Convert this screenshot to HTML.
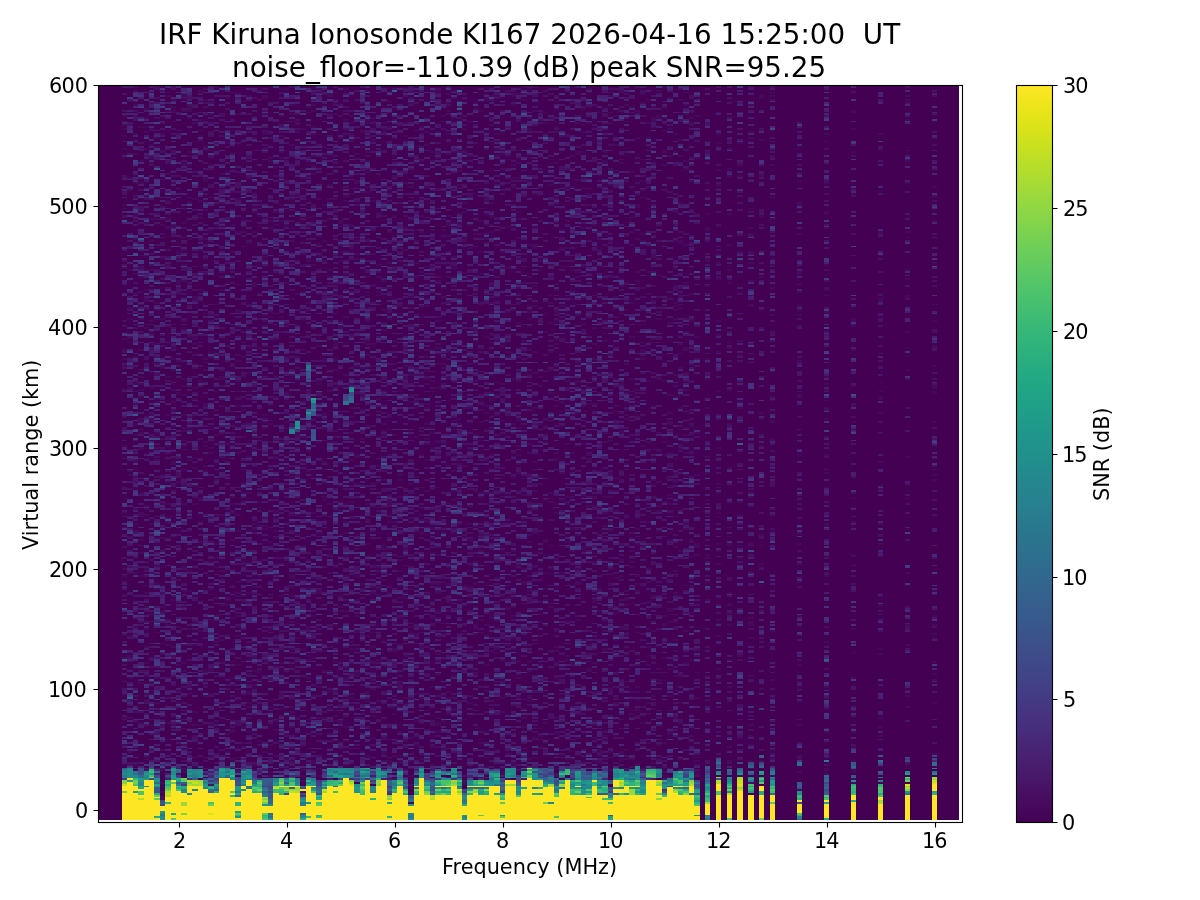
<!DOCTYPE html>
<html lang="en"><head><meta charset="utf-8"><title>IRF Kiruna Ionosonde KI167</title>
<style>html,body{margin:0;padding:0;background:#fff;overflow:hidden}body{width:1200px;height:900px}</style>
</head><body>
<svg width="1200" height="900" viewBox="0 0 1200 900" style="display:block;font-family:'DejaVu Sans','Liberation Sans',sans-serif">
<rect width="1200" height="900" fill="#fff"/>
<rect x="97.65" y="85.23" width="861.18" height="734.87" fill="#440154" shape-rendering="crispEdges"/>
<g transform="translate(94.953 820.108) scale(5.3992 -1.81227)" fill="none" stroke-width="1" shape-rendering="crispEdges">
<path stroke="#460a5d" d="M5.5 41v1m0 14v1m0 32v1m0 23v1m0 10v1m0 9v1m0 3v1m0 30v1m0 7v1m0 28v1m0 43v1m0 3v1m0 4v1m0 5v1m0 7v1m0 30v1m0 27v1m0 4v1m0 1v1m0 30v1m0 6v1m0 3v1m0 1v1m0 1v1m0 2v1m1-352v1m0 18v1m0 16v1m0 4v1m0 11v1m0 10v1m0 34v1m0 19v1m0 33v1m0 1v1m0 11v1m0 15v1m0 17v1m0 24v1m0 4v1m0 7v1m0 5v1m0 20v1m0 43v1m0 6v1m0 41v1m1-367v1m0 75v1m0 6v1m0 22v1m0 7v1m0 14v1m0 3v1m0 2v1m0 4v1m0 11v1m0 5v1m0 3v1m0 3v1m0 14v1m0 5v1m0 10v1m0 10v1m0 14v1m0 26v1m0 7v1m0 10v1m0 18v1m0 10v1m0 1v2m0 16v1m0 15v1m0 7v1m0 2v1m0 15v1m0 7v1m0 1v1m1-352v1m0 21v1m0 48v1m0 9v1m0 12v1m0 6v1m0 13v2m0 10v1m0 23v2m0 7v1m0 19v1m0 3v1m0 2v1m0 3v1m0 3v1m0 10v1m0 16v1m0 14v1m0 7v1m0 4v1m0 6v1m0 23v1m0 15v1m0 11v1m0 18v1m0 2v1m1-353v1m0 32v1m0 2v1m0 9v1m0 6v1m0 8v1m0 9v1m0 11v1m0 7v1m0 3v1m0 8v1m0 29v1m0 2v1m0 1v1m0 25v1m0 71v1m0 1v1m0 12v2m0 4v1m0 10v1m0 25v1m0 14v1m0 25v1m0 8v1m0 2v1m0 4v1m0 4v1m1-341v1m0 9v1m0 6v1m0 1v1m0 3v1m0 16v1m0 16v1m0 26v1m0 20v1m0 5v1m0 57v1m0 1v1m0 14v1m0 23v1m0 6v1m0 5v1m0 27v1m0 15v1m0 11v1m0 13v1m0 16v1m0 2v1m0 6v1m0 8v1m0 19v1m1-351v1m0 7v1m0 4v1m0 13v1m0 24v1m0 23v1m0 2v1m0 14v1m0 9v1m0 19v1m0 2v1m0 34v1m0 16v1m0 1v1m0 12v1m0 16v1m0 13v1m0 4v1m0 3v1m0 45v1m0 11v1m0 27v1m0 4v1m1-366v1m0 1v1m0 1v1m0 4v1m0 6v1m0 10v1m0 16v1m0 35v1m0 5v1m0 13v1m0 3v1m0 1v1m0 7v1m0 29v1m0 18v1m0 13v1m0 1v1m0 13v1m0 5v1m0 38v1m0 26v1m0 32v1m0 18v1m0 24v1m0 15v1m0 8v1m1-340v1m0 4v1m0 8v1m0 42v1m0 10v1m0 47v1m0 18v1m0 8v1m0 2v1m0 13v1m0 5v1m0 16v1m0 20v1m0 61v1m0 19v2m0 3v2m0 8v1m0 14v1m0 23v1m0 10v1m0 7v1m0 1v1m1-350v1m0 37v1m0 4v1m0 5v1m0 7v1m0 11v1m0 45v1m0 9v1m0 18v2m0 19v1m0 7v2m0 3v1m0 6v1m0 10v1m0 5v1m0 5v1m0 23v1m0 66v1m0 9v1m0 23v1m0 5v1m0 1v1m0 3v1m1-348v1m0 13v1m0 20v1m0 20v1m0 17v1m0 23v1m0 1v1m0 22v1m0 12v1m0 48v1m0 17v1m0 2v1m0 28v1m0 4v1m0 5v2m0 11v1m0 2v2m1-288v3m0 12v1m0 40v1m0 3v1m0 9v1m0 20v1m0 5v1m0 2v1m0 12v1m0 34v1m0 9v1m0 3v1m0 4v1m0 12v1m0 2v1m0 4v1m0 1v1m0 6v1m0 10v1m0 4v1m0 3v1m0 31v1m0 21v1m0 8v1m0 7v1m0 14v1m0 31v2m0 28v1m0 7v1m1-369v1m0 4v1m0 13v1m0 18v1m0 3v1m0 31v1m0 20v1m0 10v1m0 21v1m0 38v1m0 17v1m0 1v1m0 25v1m0 21v1m0 53v1m0 40v1m0 4v1m0 1v1m0 11v1m0 6v1m0 3v3m1-348v1m0 3v1m0 1v1m0 6v1m0 36v1m0 11v2m0 30v1m0 2v1m0 6v1m0 23v1m0 9v1m0 9v1m0 4v1m0 32v1m0 5v1m0 12v1m0 10v1m0 2v2m0 20v2m0 9v1m0 43v1m0 24v1m0 6v1m0 9v1m1-333v1m0 25v1m0 25v1m0 20v1m0 12v1m0 14v1m0 10v1m0 12v1m0 64v1m0 28v1m0 14v1m0 5v1m0 7v1m0 4v1m0 8v1m0 4v1m0 21v1m0 35v1m0 2v1m0 5v1m0 15v1m1-335v1m0 5v1m0 7v1m0 67v1m0 41v1m0 2v1m0 10v1m0 1v1m0 19v2m0 18v1m0 3v1m0 1v1m0 24v1m0 29v1m0 10v1m0 15v1m0 15v3m0 16v1m0 25v1m1-370v1m0 6v1m0 16v1m0 16v1m0 12v2m0 26v1m0 13v1m0 2v1m0 14v1m0 59v1m0 2v1m0 52v1m0 14v1m0 4v1m0 46v1m0 17v1m0 17v1m0 3v1m0 3v1m0 19v1m1-292v1m0 40v1m0 4v1m0 7v1m0 59v1m0 13v1m0 9v1m0 4v1m0 26v1m0 15v1m0 43v1m0 72v1m0 2v1m1-318v1m0 11v1m0 18v1m0 18v1m0 30v1m0 52v1m0 6v1m0 14v2m0 41v1m0 5v1m0 36v1m0 10v1m0 15v1m1-320v1m0 9v1m0 70v1m0 2v1m0 18v1m0 58v1m0 7v1m0 32v1m0 63v1m0 3v1m0 48v1m0 15v1m0 1v1m0 22v1m1-371v1m0 4v1m0 14v2m0 2v1m0 25v1m0 8v1m0 23v1m0 17v1m0 24v1m0 14v1m0 4v1m0 3v1m0 124v1m0 9v1m0 14v1m0 17v1m0 10v1m0 20v1m0 1v1m1-354v1m0 6v1m0 4v1m0 32v1m0 4v1m0 7v1m0 15v1m0 4v1m0 5v1m0 10v1m0 1v1m0 5v1m0 27v1m0 8v1m0 33v1m0 19v1m0 5v1m0 4v1m0 2v1m0 5v1m0 10v1m0 2v1m0 23v2m0 13v1m0 28v1m0 17v1m0 46v1m1-348v1m0 7v2m0 68v1m0 2v1m0 11v1m0 6v1m0 13v1m0 23v1m0 12v1m0 17v1m0 6v1m0 7v1m0 17v1m0 10v1m0 3v1m0 3v1m0 36v1m0 23v1m0 2v1m0 4v1m0 52v1m0 10v1m1-349v1m0 7v1m0 5v1m0 1v1m0 4v2m0 9v1m0 7v1m0 24v1m0 11v1m0 33v1m0 17v1m0 2v1m0 2v1m0 9v1m0 6v1m0 35v1m0 9v1m0 37v1m0 33v1m0 35v1m0 4v1m0 39v1m0 5v1m1-379v1m0 2v1m0 41v1m0 1v1m0 7v1m0 6v1m0 5v1m0 2v1m0 29v1m0 31v1m0 2v1m0 49v1m0 23v1m0 9v1m0 16v1m0 12v1m0 6v1m0 9v3m0 24v1m0 2v1m0 10v1m0 21v2m0 17v1m1-334v1m0 33v1m0 3v2m0 45v2m0 4v1m0 27v1m0 9v1m0 2v1m0 60v1m0 23v1m0 66v1m0 5v1m1-297v1m0 50v1m0 26v1m0 4v1m0 39v1m0 1v1m0 53v1m0 2v1m0 3v1m0 51v1m0 2v1m0 31v1m0 67v2m0 9v1m0 8v2m1-377v2m0 1v1m0 14v1m0 14v1m0 5v1m0 2v1m0 5v1m0 33v1m0 47v1m0 40v1m0 13v1m0 9v1m0 58v1m0 2v1m0 3v1m0 41v1m0 3v1m0 11v1m0 20v1m0 1v1m0 12v1m1-344v1m0 13v1m0 4v1m0 44v1m0 33v1m0 7v1m0 13v1m0 3v1m0 6v1m0 2v2m0 7v1m0 9v1m0 10v2m0 8v1m0 23v1m0 10v1m0 7v1m0 12v1m0 62v1m0 2v1m0 3v1m0 24v1m1-322v1m0 21v1m0 7v1m0 16v1m0 36v1m0 30v1m0 26v1m0 17v1m0 8v1m0 6v1m0 61v1m0 39v2m0 11v1m0 3v1m0 4v1m0 25v1m0 2v1m0 8v1m0 10v1m0 11v1m0 2v1m1-371v1m0 13v1m0 9v1m0 1v1m0 47v1m0 74v1m0 11v1m0 21v1m0 2v1m0 10v1m0 4v1m0 11v1m0 4v1m0 2v1m0 40v1m0 31v1m0 40v1m0 33v1m1-372v1m0 18v1m0 7v1m0 2v1m0 3v1m0 27v1m0 14v1m0 13v1m0 4v1m0 4v2m0 20v1m0 12v1m0 13v1m0 6v1m0 40v1m0 14v1m0 6v1m0 26v1m0 7v1m0 31v1m0 6v1m0 15v1m0 1v1m0 27v1m0 16v1m0 4v1m1-339v1m0 15v1m0 27v1m0 7v1m0 23v1m0 24v1m0 10v1m0 21v1m0 21v2m0 41v1m0 34v1m0 53v1m0 11v1m0 22v1m0 3v1m0 12v1m1-376v1m0 2v1m0 2v1m0 34v1m0 31v1m0 37v1m0 40v1m0 23v1m0 13v1m0 24v1m0 22v1m0 16v1m0 14v1m0 14v1m0 5v1m0 41v1m0 4v1m0 9v1m0 11v1m1-351v1m0 7v1m0 15v1m0 22v1m0 9v1m0 1v1m0 14v2m0 20v1m0 15v1m0 17v1m0 23v1m0 6v1m0 10v1m0 23v1m0 8v1m0 30v1m0 17v1m0 22v2m0 22v1m0 22v1m0 34v1m0 2v1m1-363v2m0 35v1m0 20v1m0 22v1m0 20v1m0 35v1m0 10v1m0 40v1m0 46v1m0 37v1m0 8v1m0 17v1m0 22v1m0 9v1m0 11v1m0 3v1m0 8v1m0 2v1m1-371v1m0 3v1m0 27v1m0 16v1m0 23v1m0 27v2m0 5v1m0 13v1m0 11v1m0 49v1m0 13v1m0 17v1m0 1v1m0 18v1m0 28v1m0 20v1m0 5v1m0 4v1m0 5v1m0 13v1m0 60v1m1-371v1m0 20v1m0 1v1m0 25v1m0 10v1m0 82v1m0 1v1m0 14v1m0 3v1m0 18v1m0 6v2m0 18v1m0 10v1m0 18v1m0 15v1m0 4v1m0 13v1m0 4v1m0 5v1m0 19v1m0 31v1m1-325v1m0 13v1m0 8v1m0 11v1m0 12v1m0 40v1m0 9v1m0 4v1m0 22v1m0 33v1m0 16v1m0 10v2m0 10v1m0 26v1m0 23v1m0 3v1m0 38v1m0 7v1m0 19v1m0 18v1m0 9v2m1-368v1m0 9v1m0 6v1m0 3v1m0 2v1m0 2v1m0 10v1m0 6v1m0 28v1m0 16v1m0 14v1m0 68v1m0 5v1m0 6v1m0 26v1m0 4v2m0 6v2m0 1v1m0 25v2m0 1v1m0 17v1m0 30v1m0 20v1m0 17v1m0 7v1m0 5v1m0 5v1m1-363v1m0 13v2m0 8v1m0 51v1m0 1v1m0 5v1m0 5v1m0 15v1m0 11v1m0 12v1m0 4v1m0 8v1m0 54v1m0 31v2m0 2v1m0 21v1m0 10v1m0 4v1m0 15v2m0 45v1m1-347v1m0 3v1m0 8v1m0 7v1m0 25v2m0 36v1m0 18v1m0 11v1m0 11v1m0 5v1m0 9v1m0 20v1m0 24v1m0 24v1m0 17v1m0 13v1m0 7v1m0 15v1m0 39v1m0 2v1m0 41v1m0 16v1m1-337v1m0 26v1m0 3v1m0 4v1m0 32v1m0 33v1m0 4v1m0 1v1m0 8v1m0 11v1m0 14v1m0 8v1m0 4v1m0 12v1m0 11v1m0 60v1m0 1v1m0 12v1m0 16v1m0 9v1m0 19v1m0 2v1m0 5v1m0 3v1m1-310v3m0 12v1m0 8v2m0 7v1m0 8v1m0 12v1m0 7v1m0 2v1m0 3v1m0 16v1m0 18v1m0 14v2m0 27v1m0 20v1m0 32v1m0 25v1m0 2v1m0 6v1m0 31v2m0 12v1m0 1v1m1-331v1m0 28v1m0 9v1m0 53v1m0 9v1m0 69v1m0 15v1m0 7v1m0 4v1m0 9v1m0 4v1m0 38v1m0 77v1m0 7v1m1-345v1m0 29v1m0 3v2m0 12v1m0 17v1m0 41v1m0 8v1m0 12v1m0 8v1m0 42v1m0 38v1m0 5v1m0 1v1m0 10v1m0 6v1m0 6v1m0 1v1m0 7v1m0 20v1m0 5v1m0 13v1m0 5v1m0 2v1m0 7v1m0 5v1m0 4v1m0 8v1m0 6v1m0 1v1m0 15v1m1-359v2m0 11v1m0 14v1m0 5v1m0 2v1m0 4v1m0 8v1m0 7v1m0 4v1m0 10v1m0 5v1m0 2v1m0 56v1m0 4v1m0 2v1m0 54v1m0 1v1m0 11v1m0 31v2m0 16v1m0 28v1m0 1v1m0 4v1m0 26v1m0 9v1m0 1v1m1-323v1m0 8v1m0 4v1m0 8v1m0 22v1m0 11v2m0 2v1m0 11v1m0 32v1m0 13v1m0 8v1m0 15v1m0 20v1m0 30v1m0 27v1m0 7v1m0 2v1m0 3v1m1-275v1m0 3v2m0 7v1m0 42v1m0 43v1m0 16v3m0 15v1m0 19v1m0 24v1m0 1v1m0 3v1m0 12v1m0 25v1m0 12v1m0 3v1m0 6v1m0 15v1m0 39v1m0 5v1m0 5v1m0 8v1m0 15v1m0 4v1m0 1v1m0 2v1m0 11v1m1-365v1m0 11v1m0 32v1m0 47v1m0 23v1m0 14v1m0 3v1m0 5v3m0 2v1m0 1v1m0 19v1m0 13v1m0 4v1m0 1v1m0 53v1m0 16v1m0 11v1m0 1v1m0 16v1m0 22v1m0 3v1m0 30v1m0 13v1m1-362v1m0 7v1m0 14v1m0 3v1m0 1v1m0 28v2m0 13v1m0 50v1m0 1v1m0 2v1m0 37v1m0 9v1m0 38v1m0 12v1m0 22v1m0 12v1m0 4v1m0 11v1m0 14v2m0 19v1m0 1v1m0 3v1m1-329v2m0 2v1m0 12v1m0 13v1m0 9v1m0 1v2m0 35v1m0 10v1m0 6v1m0 7v1m0 5v1m0 34v1m0 8v1m0 2v1m0 45v1m0 42v1m0 3v2m0 38v1m0 20v1m0 60v1m1-363v1m0 23v1m0 18v1m0 3v1m0 1v1m0 29v1m0 2v1m0 23v1m0 23v1m0 5v1m0 29v1m0 33v2m0 5v1m0 9v1m0 34v1m0 13v1m0 4v1m0 11v1m0 6v1m0 17v1m0 4v1m0 14v1m0 5v1m0 6v1m1-376v1m0 14v1m0 3v1m0 3v1m0 12v1m0 20v1m0 6v1m0 14v1m0 17v1m0 20v1m0 7v1m0 30v1m0 18v1m0 44v1m0 3v1m0 10v1m0 4v1m0 16v1m0 14v1m0 5v1m0 38v1m0 21v1m0 45v1m0 2v1m1-365v1m0 6v1m0 12v1m0 14v1m0 15v1m0 16v1m0 14v1m0 44v1m0 20v1m0 5v1m0 21v1m0 15v2m0 2v1m0 13v1m0 3v1m0 34v1m0 14v2m0 6v1m0 11v1m0 5v1m0 36v1m1-330v1m0 33v1m0 27v1m0 9v1m0 16v1m0 35v1m0 6v1m0 2v1m0 14v1m0 17v1m0 43v1m0 31v1m0 17v1m0 6v1m0 21v1m0 8v1m0 8v1m0 20v1m0 16v1m0 1v1m1-323v1m0 27v1m0 8v1m0 66v2m0 15v1m0 16v1m0 8v1m0 2v1m0 5v1m0 1v1m0 6v1m0 1v1m0 1v1m0 10v1m0 2v1m0 3v2m0 6v1m0 9v1m0 17v1m0 3v1m0 6v1m0 10v1m0 15v1m0 27v1m0 22v1m0 6v1m0 7v1m0 8v1m1-367v1m0 9v1m0 32v1m0 3v1m0 33v1m0 18v1m0 2v1m0 4v1m0 8v1m0 7v1m0 4v2m0 15v1m0 27v1m0 7v1m0 2v1m0 19v1m0 5v1m0 16v1m0 61v1m0 3v1m0 42v1m0 33v1m1-363v1m0 7v1m0 3v2m0 2v1m0 7v1m0 15v1m0 10v1m0 17v1m0 1v1m0 3v1m0 9v1m0 4v1m0 15v1m0 36v1m0 17v1m0 6v2m0 28v1m0 12v1m0 8v1m0 14v1m0 21v1m0 12v1m0 37v1m0 16v1m0 2v1m0 10v1m0 22v1m1-371v1m0 21v1m0 13v1m0 33v1m0 5v1m0 13v1m0 8v1m0 41v1m0 66v1m0 8v1m0 1v1m0 41v1m0 22v1m0 8v1m0 59v1m0 2v1m1-331v1m0 8v1m0 2v1m0 44v1m0 4v1m0 9v1m0 8v1m0 11v1m0 15v1m0 6v1m0 20v1m0 35v1m0 11v2m0 13v1m0 40v1m0 22v1m0 5v2m0 3v1m0 33v1m0 10v1m0 12v1m0 3v1m0 4v1m0 4v1m1-362v1m0 15v2m0 17v1m0 3v1m0 14v1m0 36v1m0 5v1m0 16v1m0 17v1m0 4v1m0 10v1m0 17v1m0 4v1m0 48v1m0 14v1m0 19v1m0 4v1m0 5v1m0 18v1m0 14v1m0 3v1m0 11v1m0 7v1m0 18v1m0 14v1m1-361v1m0 14v1m0 29v1m0 41v2m0 32v1m0 18v1m0 13v1m0 1v1m0 19v1m0 2v1m0 21v1m0 17v1m0 18v1m0 35v1m0 9v1m0 2v1m0 20v1m1-331v2m0 33v1m0 33v1m0 12v1m0 64v1m0 1v1m0 21v1m0 3v1m0 31v1m0 5v1m0 85v2m0 14v1m0 4v1m0 20v1m0 1v1m0 3v1m0 1v1m0 11v1m1-354v1m0 35v1m0 1v1m0 14v1m0 1v1m0 9v1m0 34v1m0 8v1m0 8v1m0 4v1m0 2v1m0 8v1m0 3v1m0 5v1m0 13v1m0 15v1m0 23v1m0 2v1m0 5v1m0 14v1m0 3v1m0 12v1m0 26v1m0 2v1m0 16v1m0 12v1m0 15v1m0 21v1m1-317v1m0 29v1m0 21v1m0 2v1m0 1v1m0 5v1m0 3v1m0 12v1m0 8v1m0 2v1m0 38v1m0 30v1m0 8v1m0 20v1m0 21v1m0 3v1m0 1v1m0 3v1m0 2v1m0 1v1m0 20v1m0 22v1m0 26v1m0 41v1m0 2v1m1-373v1m0 18v1m0 1v1m0 65v1m0 15v1m0 18v1m0 2v1m0 8v1m0 20v1m0 1v1m0 28v1m0 9v1m0 6v1m0 3v1m0 53v1m0 16v1m0 11v1m0 9v1m0 6v1m0 6v1m0 10v1m0 31v1m0 10v1m0 4v1m1-368v1m0 4v1m0 3v1m0 9v1m0 36v1m0 21v1m0 15v1m0 5v1m0 10v1m0 6v1m0 32v1m0 19v1m0 14v1m0 8v1m0 3v1m0 37v1m0 53v1m0 7v1m0 5v1m0 6v1m0 28v1m0 26v2m0 1v1m1-308v1m0 1v1m0 15v1m0 1v1m0 21v1m0 44v1m0 20v1m0 3v1m0 20v1m0 4v2m0 2v1m0 9v1m0 21v1m0 12v1m0 4v1m0 8v1m0 1v1m0 27v1m0 3v1m0 3v2m0 6v1m0 17v1m0 24v1m0 1v1m0 13v1m1-362v1m0 12v1m0 40v1m0 1v1m0 1v1m0 9v1m0 17v1m0 8v1m0 8v1m0 23v1m0 7v1m0 48v1m0 10v1m0 6v1m0 22v1m0 14v1m0 6v1m0 1v1m0 64v1m0 12v1m0 3v1m0 7v1m0 20v1m1-375v2m0 1v1m0 19v1m0 10v1m0 7v1m0 55v1m0 10v1m0 43v1m0 1v1m0 7v1m0 31v1m0 19v1m0 20v1m0 4v1m0 5v1m0 31v1m0 8v1m0 45v1m0 7v1m0 3v1m0 2v1m0 4v1m1-349v1m0 4v1m0 59v1m0 6v1m0 12v1m0 5v1m0 103v1m0 28v1m0 2v1m0 21v1m0 23v2m0 21v1m0 36v1m0 1v1m1-337v2m0 44v1m0 10v1m0 6v1m0 5v1m0 11v1m0 4v1m0 22v1m0 7v1m0 40v1m0 12v1m0 15v1m0 24v1m0 24v1m0 12v1m0 44v1m0 5v1m0 8v1m0 7v1m0 4v1m0 6v1m0 32v1m0 4v2m1-373v1m0 38v2m0 9v1m0 3v1m0 23v1m0 37v1m0 27v1m0 4v1m0 3v1m0 9v1m0 4v1m0 1v1m0 2v1m0 4v1m0 9v1m0 4v1m0 1v1m0 18v1m0 17v1m0 13v1m0 9v1m0 5v1m0 2v1m0 15v1m0 21v1m0 3v1m0 18v1m0 7v1m0 2v1m0 3v1m0 6v1m0 23v1m1-364v1m0 13v1m0 4v1m0 4v1m0 4v1m0 37v1m0 25v2m0 6v1m0 7v1m0 13v1m0 2v1m0 15v1m0 3v1m0 4v1m0 75v1m0 31v1m0 87v1m0 12v1m0 6v2m1-373v1m0 31v1m0 2v1m0 13v1m0 10v1m0 32v2m0 25v1m0 3v1m0 17v1m0 9v1m0 16v1m0 4v1m0 28v1m0 8v1m0 13v1m0 12v1m0 3v1m0 3v2m0 1v1m0 15v1m0 17v1m0 34v1m0 12v1m0 4v1m0 10v1m0 5v1m0 15v1m0 1v1m1-372v1m0 10v1m0 11v1m0 81v1m0 5v1m0 12v1m0 22v1m0 15v1m0 29v1m0 18v1m0 11v1m0 24v1m0 8v1m0 1v1m0 20v1m0 1v1m0 8v1m0 18v1m0 14v1m0 9v1m0 20v1m0 12v1m1-365v1m0 5v1m0 3v1m0 34v1m0 23v1m0 27v1m0 4v1m0 21v1m0 20v1m0 3v1m0 28v1m0 11v1m0 8v1m0 4v1m0 2v1m0 55v1m0 4v1m1-267v1m0 10v1m0 23v1m0 43v1m0 5v1m0 8v1m0 16v2m0 21v1m0 31v1m0 8v1m0 2v1m0 48v1m0 9v1m0 98v1m0 5v1m0 5v1m1-299v1m0 24v1m0 1v1m0 15v1m0 2v1m0 12v1m0 23v1m0 1v1m0 2v1m0 54v1m0 12v1m0 9v1m0 15v1m0 10v1m0 3v1m0 16v1m0 43v1m0 13v1m0 9v1m0 12v1m1-360v1m0 18v2m0 2v1m0 4v1m0 21v1m0 7v1m0 6v1m0 1v1m0 8v1m0 19v1m0 18v2m0 16v1m0 7v1m0 4v1m0 23v2m0 2v1m0 11v1m0 13v1m0 33v1m0 2v1m0 9v1m0 4v1m0 11v1m0 69v1m0 19v1m0 2v1m0 6v1m0 3v1m1-330v1m0 1v1m0 14v1m0 51v1m0 39v1m0 4v1m0 9v1m0 25v1m0 7v1m0 4v1m0 52v1m0 21v1m0 9v1m0 3v1m0 1v1m0 3v1m0 11v1m0 20v1m1-326v1m0 10v1m0 43v1m0 1v1m0 18v1m0 43v1m0 20v1m0 3v1m0 28v1m0 14v1m0 19v1m0 62v1m0 9v1m0 14v1m0 5v1m0 41v1m0 17v1m1-364v1m0 32v1m0 14v1m0 4v1m0 42v1m0 12v1m0 5v1m0 11v2m0 16v1m0 19v1m0 3v1m0 8v1m0 75v1m0 15v1m0 19v1m0 25v1m0 16v1m1-322v1m0 6v1m0 5v1m0 12v1m0 31v1m0 6v1m0 19v2m0 6v1m0 6v1m0 11v1m0 2v1m0 21v1m0 23v1m0 17v1m0 16v2m0 9v1m0 25v1m0 10v1m0 9v1m0 2v1m0 64v2m0 15v1m1-321v1m0 34v1m0 49v2m0 12v1m0 15v1m0 6v1m0 13v1m0 6v1m0 17v1m0 2v1m0 76v1m0 20v1m0 21v1m0 5v1m0 3v1m0 9v1m0 10v1m0 3v1m0 8v1m1-364v1m0 52v2m0 12v1m0 53v1m0 12v1m0 9v1m0 24v1m0 2v1m0 27v1m0 55v1m0 53v1m0 5v1m0 34v1m0 3v1m0 8v1m0 2v1m0 4v1m0 1v1m1-372v1m0 7v1m0 4v1m0 6v1m0 1v1m0 15v1m0 15v1m0 33v2m0 20v1m0 23v1m0 6v1m0 4v1m0 41v1m0 8v1m0 24v1m0 7v1m0 8v1m0 49v1m0 6v1m1-298v2m0 2v1m0 1v2m0 53v1m0 13v1m0 8v1m0 11v1m0 28v1m0 35v1m0 42v1m0 5v1m0 4v1m0 47v1m0 19v1m0 46v1m0 12v1m0 15v1m0 14v1m1-360v1m0 46v2m0 9v1m0 35v1m0 12v1m0 8v1m0 6v1m0 8v1m0 7v1m0 21v1m0 4v1m0 37v1m0 12v1m0 3v1m0 31v1m0 26v1m0 5v1m0 11v1m0 3v1m0 1v1m0 10v2m0 4v1m1-342v1m0 9v1m0 33v2m0 2v1m0 27v1m0 4v1m0 7v1m0 2v1m0 2v1m0 15v1m0 20v1m0 3v2m0 13v1m0 5v1m0 5v2m0 64v1m0 29v1m0 12v1m0 19v1m0 27v1m0 2v1m0 7v1m0 25v1m0 14v1m1-336v1m0 2v1m0 12v1m0 18v1m0 14v1m0 18v1m0 36v1m0 10v1m0 3v1m0 32v1m0 6v1m0 2v1m0 14v1m0 33v1m0 6v1m0 3v1m0 64v1m0 18v1m0 15v1m0 7v1m1-369v1m0 3v2m0 2v2m0 22v1m0 5v1m0 6v1m0 8v1m0 4v1m0 17v1m0 28v1m0 8v1m0 7v1m0 61v2m0 21v1m0 3v1m0 25v1m0 27v1m0 3v1m0 63v1m0 11v1m0 26v2m1-370v1m0 4v1m0 12v1m0 10v1m0 8v1m0 4v1m0 24v1m0 1v1m0 2v1m0 11v1m0 2v2m0 3v1m0 39v1m0 1v1m0 27v1m0 24v1m0 1v1m0 2v1m0 3v1m0 4v1m0 15v1m0 29v1m0 4v1m0 9v1m0 25v1m0 14v1m0 36v1m0 10v1m0 8v1m1-362v1m0 24v1m0 1v1m0 9v1m0 48v1m0 19v1m0 2v1m0 5v1m0 4v1m0 1v1m0 75v1m0 2v1m0 8v1m0 22v1m0 18v1m0 31v1m0 6v1m0 32v1m0 35v1m1-334v2m0 4v1m0 3v1m0 2v1m0 29v1m0 22v1m0 3v1m0 3v1m0 17v1m0 7v1m0 5v1m0 10v2m0 51v1m0 6v1m0 31v1m0 27v1m0 4v1m0 17v1m0 17v2m0 36v1m0 14v1m1-364v1m0 24v1m0 3v1m0 148v1m0 47v1m0 3v2m0 3v1m0 9v1m0 19v1m0 23v1m0 1v1m0 3v1m0 19v1m0 3v1m0 4v1m0 11v1m0 30v1m0 4v1m0 4v1m1-364v1m0 15v1m0 1v1m0 3v1m0 20v1m0 4v1m0 4v1m0 9v1m0 14v1m0 10v1m0 6v1m0 25v1m0 38v1m0 4v1m0 33v1m0 17v1m0 2v1m0 26v1m0 11v1m0 29v1m0 4v1m0 38v1m0 7v1m0 12v1m1-367v1m0 7v1m0 21v1m0 6v1m0 18v1m0 16v1m0 8v1m0 9v1m0 25v1m0 37v1m0 16v1m0 10v1m0 12v1m0 29v1m0 4v1m0 1v1m0 17v1m0 2v1m0 23v2m0 57v1m0 15v3m0 5v1m1-361v1m0 7v1m0 15v1m0 19v1m0 5v1m0 8v1m0 58v1m0 7v1m0 10v1m0 2v1m0 12v1m0 16v1m0 9v1m0 29v2m0 31v1m0 23v1m0 86v2m0 13v1m1-379v1m0 17v1m0 46v1m0 10v1m0 6v2m0 3v1m0 12v1m0 49v1m0 12v1m0 4v1m0 7v1m0 6v1m0 2v1m0 30v1m0 9v1m0 30v1m0 3v1m0 73v1m0 6v2m0 17v1m0 16v1m1-358v2m0 1v1m0 9v1m0 7v1m0 14v1m0 25v1m0 3v1m0 1v2m0 37v1m0 14v1m0 4v1m0 4v1m0 4v1m0 9v1m0 7v1m0 15v2m0 4v1m0 9v1m0 39v1m0 91v1m0 14v1m0 16v1m1-343v1m0 22v1m0 13v1m0 5v1m0 9v1m0 15v1m0 8v1m0 2v1m0 12v1m0 16v1m0 4v1m0 13v2m0 3v1m0 7v1m0 12v1m0 20v1m0 11v1m0 30v1m0 4v1m0 1v1m0 1v1m0 3v1m0 4v1m0 9v1m0 1v1m0 12v1m0 7v1m0 7v1m0 7v1m0 24v1m0 9v1m1-346v1m0 16v1m0 2v1m0 10v1m0 14v1m0 43v1m0 24v1m0 58v1m0 7v1m0 9v1m0 1v1m0 6v1m0 14v1m0 7v1m0 4v1m0 19v1m0 5v1m0 29v2m0 20v1m0 17v1m0 7v1m0 8v1m0 21v1m1-312v1m0 17v1m0 24v1m0 30v1m0 2v1m0 21v1m0 4v1m0 11v1m0 5v1m0 3v1m0 3v1m0 20v1m0 8v1m0 12v2m0 8v1m0 26v1m0 20v1m0 41v1m0 3v1m0 6v1m0 18v1m0 4v1m0 6v1m1-356v1m0 9v1m0 12v1m0 18v1m0 25v1m0 10v1m0 2v2m0 15v1m0 5v1m0 2v1m0 17v1m0 30v1m0 8v1m0 4v1m0 43v1m0 13v1m0 14v1m0 61v1m0 31v1m0 2v1m0 2v1m1-366v2m0 5v1m0 1v1m0 32v1m0 13v1m0 11v1m0 9v1m0 42v1m0 3v3m0 37v1m0 22v1m0 52v1m0 67v1m0 30v1m0 9v1m0 12v1m0 6v1m2-344v1m0 12v1m0 13v1m0 41v1m0 9v1m0 5v1m0 1v1m0 4v1m0 1v1m0 15v1m0 13v1m0 14v1m0 8v1m0 5v1m0 20v1m0 15v1m0 10v1m0 39v1m0 13v2m0 12v1m0 2v2m0 7v1m0 33v1m0 5v1m2-348v1m0 55v1m0 17v1m0 6v1m0 1v1m0 11v1m0 9v1m0 8v1m0 6v1m0 3v1m0 14v1m0 1v1m0 10v1m0 4v1m0 19v1m0 30v1m0 21v1m0 8v1m0 7v1m0 22v1m0 8v1m0 4v1m0 14v1m0 20v1m0 1v1m0 18v1m0 3v1m0 4v1m0 26v1m2-374v1m0 7v1m0 32v1m0 14v1m0 18v1m0 10v2m0 5v1m0 25v2m0 3v1m0 20v1m0 16v1m0 19v1m0 3v1m0 18v1m0 22v1m0 2v1m0 13v1m0 18v1m0 6v1m0 1v1m0 11v1m0 16v1m0 20v1m0 3v1m2-336v1m0 20v1m0 44v1m0 53v1m0 6v1m0 16v1m0 6v1m0 51v1m0 2v1m0 25v1m0 7v1m0 43v1m0 4v1m0 8v1m0 32v1m0 5v1m0 11v1m2-346v1m0 3v1m0 8v1m0 4v1m0 5v1m0 26v1m0 20v1m0 6v3m0 1v1m0 33v1m0 6v1m0 25v1m0 104v2m0 4v1m0 7v1m0 9v1m0 5v1m0 9v1m0 2v1m0 10v1m0 38v1m0 2v1m0 14v1m0 6v1m2-370v1m0 39v1m0 32v1m0 23v1m0 9v1m0 1v1m0 9v1m0 5v1m0 3v1m0 44v1m0 14v1m0 2v1m0 56v1m0 17v1m0 33v1m0 21v1m0 19v1m0 22v2m2-376v1m0 13v1m0 28v1m0 9v1m0 26v1m0 51v1m0 52v2m0 8v2m0 10v1m0 1v1m0 34v1m0 9v1m0 14v1m0 12v1m0 2v1m0 19v1m0 1v1m0 26v1m0 2v1m0 4v1m0 13v1m0 16v1m0 1v1m0 1v1m5-386v1m0 9v1m0 6v1m0 1v1m0 16v1m0 19v1m0 3v1m0 8v1m0 26v1m0 18v1m0 9v1m0 10v1m0 23v1m0 11v1m0 12v1m0 6v1m0 24v2m0 17v2m0 24v1m0 2v1m0 1v1m0 7v1m0 9v2m0 20v1m0 13v1m0 1v2m0 11v1m5-328v1m0 1v2m0 19v1m0 12v1m0 11v1m0 24v1m0 20v1m0 14v1m0 5v1m0 21v2m0 19v1m0 7v1m0 9v1m0 19v1m0 5v1m0 3v1m0 5v1m0 2v1m0 3v1m0 35v1m0 8v1m0 2v1m0 13v1m0 19v1m0 7v2m0 15v1m0 22v1m0 3v1m5-359v1m0 1v1m0 3v2m0 4v1m0 7v1m0 7v1m0 1v1m0 27v1m0 13v1m0 4v1m0 7v1m0 40v1m0 17v1m0 7v1m0 4v1m0 37v1m0 3v1m0 8v1m0 10v1m0 19v1m0 12v1m0 2v2m0 68v1m0 22v1m0 12v1m0 8v2m0 10v1m5-357v1m0 4v1m0 4v1m0 34v1m0 2v1m0 13v1m0 9v1m0 26v1m0 6v1m0 3v1m0 6v1m0 18v1m0 14v1m0 26v1m0 7v2m0 2v1m0 4v1m0 8v1m0 35v2m0 2v1m0 20v1m0 12v1m0 53v1m5-351v1m0 1v1m0 31v1m0 5v1m0 27v1m0 10v1m0 21v1m0 6v1m0 40v1m0 22v1m0 47v1m0 20v1m0 18v2m0 8v1m0 4v1m0 17v1m0 2v1m0 26v1m0 11v1m0 5v1m0 16v1m0 3v1m0 6v1m0 1v1m5-364v1m0 27v1m0 12v1m0 2v1m0 19v1m0 1v1m0 4v1m0 4v1m0 13v1m0 60v1m0 2v1m0 2v1m0 12v1m0 12v1m0 15v2m0 1v2m0 10v1m0 10v1m0 13v1m0 8v1m0 22v1m0 22v1m0 18v1m0 35v1"/>
<path stroke="#471063" d="M5.5 35v1m0 19v1m0 13v1m0 15v1m0 37v1m0 7v1m0 12v1m0 5v1m0 10v1m0 5v1m0 14v2m0 15v1m0 9v1m0 5v2m0 5v1m0 14v1m0 11v1m0 8v1m0 13v1m0 2v1m0 19v1m0 12v1m0 24v1m0 11v2m0 8v1m0 35v1m0 8v1m1-371v2m0 34v1m0 20v1m0 1v1m0 49v1m0 11v1m0 3v1m0 11v1m0 14v1m0 58v1m0 24v1m0 100v1m0 15v1m1-340v1m0 9v1m0 4v1m0 8v1m0 31v1m0 14v1m0 70v1m0 11v1m0 4v1m0 32v1m0 34v1m0 24v1m0 7v1m0 25v1m0 13v1m0 41v1m0 1v1m0 2v1m1-333v1m0 22v1m0 26v1m0 41v1m0 15v1m0 23v1m0 23v1m0 3v1m0 1v1m0 47v1m0 14v1m0 44v1m0 7v2m0 8v1m0 25v1m1-347v1m0 24v1m0 5v1m0 5v2m0 16v1m0 26v1m0 5v1m0 5v1m0 12v1m0 2v1m0 4v1m0 41v1m0 37v1m0 24v1m0 2v1m0 3v2m0 26v1m0 28v1m0 30v1m0 23v1m1-329v1m0 8v1m0 7v1m0 28v1m0 4v1m0 23v1m0 29v1m0 67v2m0 7v1m0 3v1m0 14v1m0 19v2m0 12v1m0 32v1m0 5v1m0 3v1m0 44v1m0 4v1m0 13v1m0 14v1m1-368v1m0 18v1m0 36v1m0 28v1m0 53v1m0 21v1m0 8v1m0 1v1m0 4v1m0 1v1m0 3v1m0 39v1m0 3v1m0 33v1m0 10v1m0 2v1m0 13v1m0 16v1m0 52v1m0 10v1m0 4v2m1-393v1m0 15v1m0 22v2m0 61v1m0 33v1m0 12v1m0 6v1m0 6v1m0 29v1m0 44v1m0 1v1m0 8v1m0 5v1m0 30v1m0 11v1m0 10v1m0 1v1m0 7v1m0 6v1m0 29v1m0 15v1m0 9v1m0 7v1m1-336v1m0 10v1m0 20v1m0 10v1m0 40v1m0 12v1m0 1v1m0 25v1m0 9v1m0 8v1m0 30v1m0 29v1m0 4v1m0 15v1m0 2v1m0 13v1m0 3v1m0 19v1m0 5v1m0 12v1m0 8v2m0 41v1m1-353v1m0 3v1m0 16v1m0 1v1m0 2v1m0 9v1m0 33v1m0 8v1m0 23v1m0 14v1m0 9v1m0 2v2m0 18v1m0 6v2m0 46v1m0 1v1m0 9v1m0 1v1m0 48v2m0 4v1m0 6v1m0 19v1m0 2v1m0 6v1m0 2v2m0 8v1m0 2v1m0 8v1m0 12v2m1-352v1m0 16v1m0 46v1m0 2v1m0 11v1m0 1v1m0 34v1m0 19v3m0 7v1m0 50v1m0 40v1m0 1v1m0 33v1m0 27v1m0 22v1m1-347v1m0 1v1m0 9v1m0 5v1m0 9v1m0 3v1m0 3v1m0 4v1m0 18v1m0 12v1m0 5v1m0 8v1m0 9v1m0 7v1m0 46v1m0 18v1m0 65v1m0 5v1m0 13v1m0 12v2m0 13v1m0 2v1m0 4v1m0 32v1m0 3v1m0 28v1m0 5v1m0 1v1m1-327v1m0 13v1m0 7v1m0 14v1m0 57v1m0 14v1m0 37v1m0 16v1m0 18v1m0 8v1m0 15v1m0 12v1m0 43v1m0 2v1m0 50v1m0 3v1m1-365v1m0 10v1m0 39v1m0 13v1m0 3v1m0 17v1m0 26v1m0 29v1m0 18v1m0 25v1m0 11v1m0 13v1m0 6v1m0 16v1m0 5v1m0 6v1m0 5v1m0 7v2m0 3v1m0 5v1m0 16v1m0 2v1m0 1v1m0 2v1m0 20v1m0 36v1m1-360v1m0 121v1m0 18v1m0 6v1m0 26v1m0 14v1m0 24v1m0 10v1m0 5v1m0 22v1m0 11v1m0 17v1m0 8v1m0 2v1m0 1v1m0 20v1m0 19v1m1-344v1m0 1v1m0 38v1m0 7v1m0 35v1m0 18v1m0 5v1m0 74v1m0 5v1m0 77v2m0 1v2m0 5v1m0 4v1m0 28v1m0 16v1m0 22v1m0 7v1m0 1v1m0 7v1m1-385v1m0 14v1m0 18v1m0 14v1m0 16v1m0 27v1m0 16v1m0 14v1m0 7v1m0 12v1m0 43v1m0 4v1m0 5v1m0 33v1m0 10v1m0 8v1m0 3v1m0 4v1m0 34v1m0 29v2m0 8v1m0 6v1m0 10v1m0 1v1m0 4v1m0 10v1m1-365v1m0 4v1m0 3v1m0 9v1m0 3v1m0 24v1m0 12v1m0 3v1m0 15v1m0 9v1m0 45v1m0 16v1m0 1v1m0 55v1m0 12v1m0 15v1m0 5v1m0 29v1m0 17v1m0 46v1m1-342v1m0 2v1m0 2v1m0 17v1m0 24v1m0 4v1m0 45v1m0 15v1m0 33v1m0 17v1m0 3v1m0 2v1m0 5v1m0 25v1m0 8v1m0 22v1m0 27v1m0 2v1m0 8v1m0 3v1m0 29v1m0 1v1m0 29v1m0 10v2m1-325v1m0 6v1m0 28v1m0 20v1m0 39v1m0 26v1m0 7v1m0 63v1m0 45v1m0 3v1m0 19v2m0 38v1m0 20v1m1-342v1m0 2v1m0 6v1m0 6v1m0 5v1m0 17v1m0 1v1m0 33v1m0 41v1m0 11v1m0 30v1m0 3v1m0 7v1m0 19v1m0 4v2m0 16v1m0 1v1m0 25v1m0 5v1m0 13v1m0 8v1m0 10v1m0 30v1m0 18v1m0 14v1m1-376v1m0 25v3m0 11v1m0 22v1m0 17v1m0 6v1m0 26v1m0 2v1m0 29v1m0 36v1m0 20v1m0 39v1m0 35v1m0 14v1m0 17v1m0 4v1m0 2v3m0 5v1m0 15v1m0 26v1m1-361v1m0 12v1m0 9v1m0 5v1m0 17v1m0 12v1m0 20v1m0 17v1m0 1v1m0 2v1m0 30v1m0 9v1m0 12v1m0 4v1m0 29v1m0 11v2m0 22v1m0 14v2m0 30v1m0 13v1m0 44v1m1-345v1m0 10v1m0 31v1m0 16v1m0 6v1m0 20v2m0 10v2m0 15v1m0 69v1m0 13v1m0 8v1m0 11v1m0 7v1m0 5v1m0 2v1m0 27v1m0 3v1m0 16v1m0 10v1m0 15v3m0 6v1m0 9v2m0 5v1m0 6v1m0 9v1m1-359v1m0 15v1m0 22v1m0 19v1m0 26v1m0 4v1m0 2v1m0 11v1m0 5v1m0 14v1m0 2v1m0 3v1m0 1v1m0 27v1m0 7v1m0 7v1m0 6v1m0 20v2m0 24v1m0 16v1m0 54v1m0 4v1m0 2v1m0 23v1m0 8v1m0 19v1m1-358v1m0 22v1m0 18v1m0 68v1m0 11v1m0 5v1m0 9v1m0 3v1m0 5v1m0 20v1m0 45v1m0 18v1m0 13v1m0 48v1m0 29v1m0 27v1m0 4v1m1-324v1m0 10v1m0 13v1m0 1v1m0 4v1m0 7v1m0 23v1m0 22v1m0 35v1m0 18v1m0 22v1m0 4v1m0 11v1m0 6v1m0 3v1m0 24v1m0 33v1m0 25v1m0 10v1m0 1v1m0 1v1m0 7v1m0 10v1m0 11v1m1-371v1m0 19v1m0 23v2m0 8v1m0 3v1m0 28v1m0 1v1m0 12v1m0 25v1m0 8v1m0 11v1m0 17v1m0 19v1m0 12v1m0 31v1m0 2v1m0 23v1m0 1v1m0 37v1m0 43v1m1-335v1m0 18v1m0 22v1m0 9v1m0 6v1m0 5v1m0 36v1m0 3v1m0 15v1m0 45v1m0 46v1m0 10v2m0 3v1m0 5v1m0 22v1m0 2v1m0 18v1m0 15v1m0 14v1m0 49v1m1-381v1m0 9v1m0 12v1m0 1v1m0 6v1m0 10v1m0 9v1m0 15v1m0 7v1m0 1v1m0 36v1m0 2v1m0 65v1m0 58v1m0 31v1m0 52v1m0 24v1m0 3v1m1-344v1m0 5v1m0 35v1m0 14v1m0 6v1m0 21v1m0 1v1m0 14v1m0 1v1m0 12v1m0 11v1m0 7v1m0 6v1m0 23v1m0 14v1m0 7v1m0 1v1m0 37v1m0 32v1m0 2v1m0 42v2m0 10v1m0 21v1m1-355v1m0 8v1m0 5v1m0 10v1m0 9v1m0 24v1m0 5v1m0 2v1m0 18v1m0 38v1m0 4v1m0 83v1m0 6v1m0 5v1m0 4v1m0 25v1m0 13v1m0 23v1m0 5v1m0 48v1m0 18v1m1-350v1m0 26v1m0 6v1m0 14v1m0 13v1m0 1v1m0 1v1m0 22v1m0 5v1m0 2v1m0 23v1m0 16v1m0 9v1m0 3v1m0 1v1m0 13v1m0 23v1m0 7v1m0 42v1m0 7v1m0 14v1m0 21v1m0 15v1m0 19v1m0 2v1m0 1v1m0 2v1m1-375v1m0 25v1m0 1v1m0 21v1m0 13v1m0 17v1m0 19v1m0 6v1m0 19v1m0 22v1m0 8v1m0 53v1m0 10v1m0 22v1m0 1v1m0 12v1m0 38v1m0 5v1m0 6v1m0 11v1m0 20v1m1-331v1m0 12v1m0 56v1m0 16v1m0 15v2m0 8v1m0 20v1m0 46v2m0 2v1m0 15v1m0 4v1m0 17v1m0 22v1m0 24v1m0 13v1m0 33v1m0 8v1m0 15v1m1-343v1m0 36v1m0 18v1m0 6v1m0 1v1m0 12v1m0 3v1m0 40v1m0 59v1m0 21v1m0 7v1m0 20v1m0 3v1m0 26v1m0 26v1m0 8v2m0 20v1m0 40v1m1-367v1m0 7v1m0 3v1m0 20v1m0 24v1m0 11v1m0 4v1m0 16v1m0 5v1m0 22v1m0 70v1m0 1v1m0 4v2m0 17v1m0 49v1m0 68v1m1-330v1m0 15v1m0 79v1m0 69v1m0 11v1m0 31v1m0 14v1m0 19v1m0 2v1m0 38v1m0 4v1m0 31v1m0 32v1m1-362v1m0 3v1m0 28v1m0 33v2m0 41v1m0 17v1m0 21v1m0 41v1m0 7v1m0 19v1m0 26v1m0 1v1m0 5v1m0 1v1m0 34v1m0 24v1m0 20v1m0 10v1m0 7v1m0 8v1m1-359v1m0 1v1m0 20v1m0 16v1m0 23v1m0 2v1m0 45v1m0 21v1m0 28v1m0 15v1m0 10v1m0 1v2m0 37v1m0 14v1m0 1v1m0 3v1m0 3v1m0 27v1m0 2v2m0 9v1m0 6v1m0 6v1m0 1v1m0 3v1m0 3v1m0 23v1m0 2v1m0 6v1m1-321v1m0 1v1m0 13v1m0 34v1m0 75v1m0 38v1m0 37v2m0 27v1m0 1v1m0 3v1m0 3v1m0 10v1m0 49v1m0 5v1m1-363v1m0 24v1m0 7v1m0 18v1m0 10v1m0 25v1m0 16v1m0 11v1m0 31v1m0 86v1m0 22v1m0 11v1m0 8v1m0 35v1m0 13v1m0 14v1m0 2v1m0 9v1m0 1v1m0 3v1m1-367v1m0 32v1m0 4v1m0 4v1m0 5v1m0 5v1m0 9v1m0 27v1m0 13v1m0 27v1m0 17v1m0 34v1m0 29v1m0 5v1m0 11v1m0 13v1m0 9v1m0 17v1m0 7v1m0 9v1m0 20v1m0 25v1m0 2v1m0 13v1m1-353v1m0 1v1m0 14v1m0 4v1m0 4v1m0 15v1m0 13v1m0 17v1m0 4v1m0 18v2m0 16v1m0 58v1m0 3v1m0 7v1m0 7v2m0 15v1m0 39v1m0 3v1m0 24v1m0 17v1m0 1v1m0 14v1m0 19v1m0 20v1m0 4v1m1-347v1m0 1v1m0 26v1m0 16v1m0 19v1m0 4v1m0 7v1m0 15v1m0 2v1m0 24v1m0 12v1m0 20v2m0 18v1m0 62v1m0 25v1m0 12v1m0 10v1m0 1v1m0 10v1m0 20v1m0 14v1m0 8v1m1-354v1m0 53v1m0 26v1m0 7v1m0 23v1m0 46v1m0 11v1m0 52v1m0 25v1m0 16v1m0 39v1m0 6v1m0 12v1m0 16v1m1-356v1m0 20v1m0 14v1m0 9v1m0 17v1m0 15v1m0 17v2m0 14v1m0 3v1m0 13v1m0 8v1m0 19v1m0 14v1m0 23v1m0 3v1m0 36v1m0 2v1m0 39v1m0 42v1m0 8v1m0 3v1m0 2v1m1-336v1m0 5v1m0 27v1m0 2v1m0 13v1m0 1v1m0 25v1m0 8v1m0 11v1m0 5v1m0 14v1m0 7v1m0 13v1m0 35v1m0 21v1m0 15v1m0 22v1m0 25v1m0 16v3m0 21v1m1-313v1m0 11v1m0 7v1m0 5v1m0 27v1m0 13v1m0 16v1m0 8v1m0 2v1m0 39v2m0 9v1m0 7v1m0 10v1m0 12v1m0 11v1m0 6v2m0 48v1m0 26v1m0 12v1m0 6v1m0 5v1m0 6v1m0 14v2m1-345v1m0 4v1m0 20v1m0 10v1m0 4v1m0 13v1m0 2v1m0 2v2m0 4v1m0 16v1m0 17v1m0 26v1m0 17v1m0 35v1m0 13v1m0 27v1m0 6v1m0 21v2m0 9v1m0 11v1m0 37v1m0 3v1m0 3v1m0 24v1m0 6v1m0 8v1m1-369v1m0 45v1m0 16v2m0 10v1m0 4v1m0 6v1m0 10v2m0 5v1m0 18v1m0 52v1m0 7v1m0 90v1m0 4v2m0 49v1m0 7v1m0 7v1m0 5v1m0 2v1m0 6v1m0 16v1m1-362v1m0 30v1m0 2v1m0 2v1m0 16v1m0 15v1m0 7v1m0 12v1m0 11v1m0 20v1m0 2v1m0 23v1m0 80v1m0 10v1m0 19v1m0 2v1m0 4v1m0 1v1m0 3v1m0 20v1m0 31v1m0 10v1m0 4v1m1-362v1m0 12v1m0 3v1m0 18v1m0 21v1m0 13v1m0 40v1m0 9v1m0 1v1m0 17v1m0 11v1m0 13v1m0 7v1m0 33v1m0 1v2m0 16v1m0 41v1m0 22v1m0 21v1m0 28v1m0 24v1m1-381v1m0 16v1m0 30v1m0 9v1m0 8v1m0 10v1m0 4v1m0 5v1m0 6v1m0 23v1m0 6v1m0 6v1m0 10v1m0 15v1m0 16v2m0 41v1m0 17v1m0 13v2m0 10v1m0 8v1m0 5v1m0 31v1m0 9v1m0 11v1m0 5v1m0 34v1m0 6v2m0 1v1m1-382v1m0 18v1m0 3v1m0 35v1m0 14v1m0 3v1m0 10v1m0 5v1m0 9v1m0 30v1m0 10v1m0 5v1m0 53v1m0 3v1m0 4v1m0 38v1m0 37v1m0 15v1m0 5v1m0 14v1m0 10v1m0 1v1m0 13v1m0 14v1m0 9v1m1-370v1m0 3v1m0 12v1m0 15v1m0 11v1m0 9v1m0 2v1m0 1v1m0 6v1m0 2v1m0 27v1m0 9v1m0 10v1m0 18v1m0 37v1m0 1v1m0 1v1m0 5v1m0 6v1m0 43v1m0 9v1m0 4v1m0 24v1m0 57v1m0 3v1m0 2v1m1-344v1m0 13v1m0 19v1m0 9v2m0 11v1m0 2v1m0 29v1m0 15v1m0 12v1m0 6v1m0 25v1m0 6v1m0 41v1m0 7v1m0 14v1m0 7v1m0 33v1m0 30v1m0 2v1m0 19v1m1-315v1m0 10v3m0 52v2m0 3v1m0 5v1m0 1v1m0 10v1m0 18v1m0 15v1m0 4v1m0 10v2m0 20v1m0 33v1m0 8v1m0 25v1m0 17v1m0 9v1m0 45v1m0 3v1m0 11v1m0 17v1m1-347v1m0 10v1m0 21v1m0 19v1m0 12v1m0 2v1m0 9v1m0 11v1m0 1v1m0 2v1m0 1v1m0 16v1m0 20v2m0 55v1m0 28v1m0 4v1m0 14v1m0 18v1m0 2v1m0 4v1m0 2v1m0 8v1m0 20v1m0 9v1m0 19v1m0 5v1m0 20v1m0 8v1m1-366v1m0 22v1m0 71v3m0 11v1m0 8v1m0 1v1m0 1v1m0 3v1m0 43v1m0 76v1m0 2v1m0 21v1m0 11v1m0 8v1m0 49v1m1-359v1m0 22v1m0 12v1m0 30v1m0 3v1m0 17v1m0 8v1m0 1v1m0 17v1m0 46v1m0 12v1m0 2v1m0 49v1m0 30v2m0 20v1m0 5v1m0 22v1m0 15v1m0 36v1m0 4v1m1-364v1m0 5v1m0 19v1m0 9v1m0 1v1m0 16v1m0 13v1m0 59v1m0 35v1m0 3v1m0 1v1m0 17v1m0 1v1m0 9v1m0 40v1m0 18v1m0 1v1m0 11v2m0 15v1m0 40v1m0 33v1m1-334v1m0 22v1m0 13v1m0 18v1m0 51v1m0 6v1m0 14v1m0 5v1m0 12v1m0 35v1m0 33v1m0 43v1m0 5v1m0 4v1m0 8v1m0 9v1m0 9v1m0 18v1m0 5v1m1-370v1m0 57v1m0 21v1m0 2v1m0 10v1m0 9v1m0 26v1m0 1v1m0 1v1m0 19v1m0 21v1m0 5v1m0 48v1m0 2v1m0 32v1m0 44v1m0 7v1m0 4v1m0 17v1m0 14v1m0 4v1m0 11v1m1-333v1m0 19v1m0 2v1m0 18v1m0 4v1m0 3v1m0 3v1m0 3v1m0 13v1m0 5v1m0 7v1m0 2v1m0 2v1m0 20v1m0 17v1m0 4v1m0 1v1m0 5v1m0 5v1m0 38v1m0 12v1m0 30v2m0 41v1m0 17v1m0 12v1m0 8v1m1-328v1m0 4v1m0 17v1m0 8v1m0 15v1m0 55v1m0 19v1m0 7v1m0 46v1m0 33v1m0 18v1m0 3v1m0 78v1m0 9v1m1-357v1m0 20v1m0 9v1m0 14v1m0 3v1m0 25v1m0 1v1m0 45v1m0 3v1m0 2v1m0 2v1m0 1v1m0 5v1m0 28v1m0 30v1m0 4v1m0 23v1m0 1v1m0 24v1m0 77v1m1-322v1m0 16v1m0 19v2m0 20v1m0 43v1m0 7v1m0 3v1m0 6v1m0 9v1m0 23v1m0 15v1m0 20v1m0 49v1m0 4v1m0 1v1m0 25v1m0 4v1m0 18v1m0 3v1m0 4v1m0 25v1m1-317v1m0 1v1m0 1v1m0 21v1m0 27v1m0 3v1m0 12v1m0 16v1m0 5v1m0 1v1m0 4v1m0 15v1m0 37v1m0 5v1m0 5v1m0 34v1m0 4v1m0 2v1m0 16v1m0 1v1m0 4v1m0 12v1m0 78v1m0 9v1m1-340v1m0 4v1m0 25v1m0 10v1m0 4v1m0 4v1m0 2v1m0 6v1m0 9v1m0 12v1m0 6v1m0 4v1m0 25v1m0 8v1m0 3v2m0 16v1m0 52v1m0 19v1m0 13v1m0 17v1m0 7v1m0 5v2m0 17v1m0 34v1m0 12v1m0 2v1m1-327v2m0 11v1m0 12v1m0 1v1m0 24v1m0 20v1m0 13v1m0 26v1m0 3v1m0 18v1m0 17v2m0 1v2m0 1v1m0 88v1m0 18v1m0 1v1m0 2v1m0 40v1m1-354v2m0 7v1m0 20v1m0 30v2m0 28v1m0 16v2m0 15v1m0 1v1m0 32v1m0 12v1m0 11v1m0 3v1m0 17v1m0 19v1m0 1v1m0 16v1m0 54v1m0 7v1m0 3v1m0 2v1m0 4v1m0 22v1m0 19v1m1-352v1m0 6v1m0 4v1m0 2v1m0 21v1m0 21v1m0 14v1m0 8v1m0 17v1m0 25v1m0 21v1m0 12v1m0 43v1m0 26v1m0 34v1m0 5v1m0 10v1m0 2v1m0 10v1m0 1v1m0 10v1m0 5v1m0 32v1m1-376v1m0 34v2m0 16v1m0 6v1m0 44v1m0 6v1m0 2v1m0 50v2m0 25v1m0 7v1m0 8v1m0 17v1m0 12v1m0 16v1m0 35v1m0 30v1m0 32v2m1-353v1m0 4v1m0 2v1m0 27v1m0 19v1m0 5v1m0 22v1m0 46v1m0 23v1m0 27v1m0 35v1m0 4v1m0 8v1m0 39v2m0 2v1m0 13v1m0 17v1m0 7v1m0 5v1m0 41v1m1-338v1m0 3v1m0 19v1m0 8v1m0 9v1m0 12v4m0 11v1m0 35v1m0 3v1m0 4v1m0 7v1m0 1v2m0 35v1m0 1v1m0 10v1m0 8v1m0 47v1m0 56v1m0 1v1m0 18v1m0 29v1m1-361v1m0 3v1m0 1v1m0 1v1m0 1v1m0 15v1m0 26v1m0 1v1m0 21v1m0 14v1m0 3v1m0 18v1m0 11v1m0 2v1m0 9v2m0 7v1m0 24v1m0 17v1m0 59v1m0 19v1m0 38v1m0 23v1m0 3v1m0 15v1m1-361v1m0 4v1m0 25v1m0 7v1m0 22v1m0 11v1m0 6v1m0 11v1m0 14v1m0 11v1m0 6v1m0 44v1m0 62v1m0 1v1m0 5v1m0 47v1m0 18v1m0 9v1m0 24v1m0 1v1m0 4v1m1-355v2m0 63v1m0 109v1m0 3v1m0 4v1m0 25v1m0 8v1m0 62v1m0 3v1m0 49v1m0 28v1m1-356v1m0 8v3m0 25v1m0 8v1m0 35v1m0 9v1m0 25v1m0 83v1m0 11v1m0 2v1m0 34v2m0 38v1m0 26v1m0 12v1m0 20v1m1-377v2m0 53v1m0 5v1m0 15v1m0 3v1m0 111v1m0 13v1m0 18v1m0 25v1m0 1v1m0 2v1m0 7v1m0 43v1m0 6v1m0 1v1m0 36v1m0 1v1m0 17v1m1-366v1m0 1v1m0 11v1m0 7v1m0 18v3m0 13v2m0 75v1m0 1v1m0 22v1m0 62v1m0 7v2m0 8v1m0 2v1m0 30v1m0 5v1m0 5v1m0 33v1m0 4v2m0 16v1m1-340v1m0 7v1m0 2v1m0 21v1m0 41v1m0 4v1m0 31v1m0 14v1m0 9v1m0 25v1m0 35v2m0 12v1m0 56v1m0 2v1m0 29v1m0 5v1m0 1v1m0 9v1m0 17v1m1-334v1m0 14v1m0 25v1m0 48v1m0 6v1m0 3v1m0 36v1m0 4v1m0 3v1m0 99v1m0 5v1m0 10v1m0 6v1m0 26v1m0 16v1m0 14v1m0 20v1m1-322v1m0 37v1m0 5v1m0 3v1m0 4v1m0 9v1m0 54v1m0 60v1m0 4v1m0 9v1m0 15v1m0 12v1m0 5v1m0 31v1m0 17v1m0 17v1m0 16v1m0 6v1m1-365v1m0 3v1m0 2v1m0 19v1m0 19v1m0 12v1m0 69v1m0 13v1m0 55v1m0 1v1m0 2v2m0 3v1m0 18v1m0 8v2m0 2v1m0 32v1m0 10v1m0 11v1m0 5v1m0 3v1m0 2v1m0 10v1m0 18v1m0 20v1m1-358v1m0 31v1m0 1v1m0 16v1m0 3v1m0 12v1m0 37v1m0 5v1m0 29v1m0 18v1m0 1v1m0 2v1m0 8v1m0 24v1m0 1v1m0 13v1m0 10v1m0 13v1m0 4v1m0 18v1m0 17v1m0 15v1m0 12v1m0 30v1m0 8v1m0 1v1m1-354v1m0 5v1m0 17v1m0 7v1m0 21v1m0 2v1m0 6v1m0 12v1m0 7v1m0 3v1m0 10v1m0 13v1m0 12v1m0 6v1m0 5v1m0 4v1m0 2v1m0 6v1m0 32v1m0 12v1m0 3v1m0 1v1m0 44v1m0 15v1m0 8v1m0 9v1m0 13v1m0 24v2m0 16v1m0 1v1m0 10v1m1-359v1m0 33v1m0 52v1m0 2v1m0 7v1m0 8v1m0 10v1m0 2v1m0 8v1m0 4v1m0 35v1m0 66v1m0 5v1m0 28v1m0 10v1m0 3v1m0 11v1m0 12v1m0 2v1m0 28v1m1-349v1m0 9v1m0 4v1m0 4v1m0 11v1m0 44v1m0 12v1m0 32v1m0 27v1m0 9v1m0 47v1m0 2v1m0 25v1m0 3v1m0 9v1m0 2v1m0 28v1m0 13v1m0 12v1m0 2v1m0 36v1m0 3v2m0 2v1m0 9v1m1-369v1m0 22v1m0 11v2m0 14v1m0 2v1m0 38v1m0 1v2m0 4v1m0 6v1m0 1v1m0 15v1m0 9v1m0 10v1m0 10v1m0 16v1m0 14v1m0 6v1m0 2v1m0 6v1m0 2v1m0 1v1m0 24v1m0 28v1m0 17v1m0 4v1m0 22v1m0 12v1m0 4v1m0 7v1m0 17v1m0 10v1m0 1v1m1-373v1m0 13v1m0 22v1m0 4v1m0 22v1m0 20v1m0 18v1m0 51v1m0 18v1m0 12v1m0 18v1m0 20v1m0 21v1m0 75v1m0 44v1m1-359v1m0 4v1m0 4v1m0 14v1m0 6v1m0 28v1m0 9v1m0 4v1m0 10v1m0 9v1m0 3v1m0 5v1m0 4v1m0 7v1m0 20v2m0 2v1m0 1v1m0 31v1m0 8v1m0 34v1m0 6v1m0 3v1m0 12v1m0 11v1m0 59v1m0 16v1m0 9v1m0 1v1m1-367v1m0 7v1m0 37v1m0 17v1m0 3v1m0 6v1m0 2v1m0 61v1m0 6v1m0 5v1m0 35v1m0 78v1m0 56v1m0 34v1m0 10v1m0 1v1m1-372v1m0 63v1m0 34v1m0 15v1m0 13v1m0 24v1m0 6v1m0 21v1m0 15v1m0 7v1m0 95v1m0 4v1m0 11v1m0 40v1m1-361v1m0 7v1m0 3v1m0 13v2m0 27v1m0 2v1m0 24v1m0 21v1m0 10v1m0 9v1m0 12v2m0 3v1m0 38v1m0 8v1m0 12v1m0 43v1m0 12v2m0 51v1m0 5v1m0 13v1m0 23v1m0 14v1m1-365v1m0 2v2m0 17v1m0 36v1m0 2v1m0 26v2m0 19v1m0 2v1m0 10v1m0 3v1m0 54v1m0 11v1m0 10v1m0 9v1m0 4v1m0 13v1m0 5v1m0 6v1m0 14v1m0 8v1m0 1v1m0 40v1m0 45v2m1-292v2m0 182v1m0 28v1m0 17v1m0 6v1m0 1v1m1-302v1m0 12v2m0 16v1m0 4v1m0 3v1m0 8v1m0 17v1m0 4v1m0 18v2m0 4v1m0 29v2m0 5v1m0 12v1m0 48v1m0 47v1m0 7v1m0 3v1m0 5v1m0 9v1m0 13v1m0 2v1m0 15v1m0 3v1m0 2v1m0 19v1m1-351v1m0 27v1m0 14v1m0 5v1m0 23v1m0 11v1m0 5v1m0 5v1m0 1v1m0 72v1m0 49v1m0 8v1m0 1v1m0 14v1m0 7v1m0 20v1m0 9v1m0 8v1m1-303v1m0 2v1m0 2v1m0 48v1m0 16v1m0 23v1m0 1v1m0 4v1m0 5v1m0 20v1m0 4v1m0 61v1m0 21v1m0 53v1m0 34v1m0 12v1m0 32v1m0 3v1m0 8v1m1-371v1m0 4v1m0 6v1m0 84v1m0 11v1m0 2v1m0 34v1m0 18v1m0 5v2m0 17v1m0 6v1m0 65v1m0 58v1m1-298v1m0 7v1m0 6v1m0 6v1m0 12v1m0 4v1m0 15v2m0 6v1m0 9v1m0 29v1m0 3v1m0 32v1m0 48v1m0 16v1m0 35v2m0 34v1m0 7v1m0 8v1m0 15v1m1-308v2m0 24v2m0 62v1m0 14v1m0 43v1m0 1v2m0 2v1m0 7v1m0 18v1m0 29v1m0 17v1m0 4v1m0 3v1m0 15v1m0 14v1m0 60v2m0 3v1m0 12v1m1-366v1m0 54v1m0 2v1m0 17v1m0 11v1m0 37v1m0 6v1m0 32v1m0 23v1m0 13v1m0 2v1m0 30v1m0 46v1m1-258v1m0 51v1m0 34v1m0 7v1m0 21v1m0 1v1m0 3v1m0 12v1m0 10v1m0 4v1m0 2v1m0 4v1m0 15v1m0 8v1m0 24v1m0 41v1m0 3v1m0 13v1m0 28v1m0 17v1m0 14v2m1-376v1m0 2v1m0 2v1m0 5v1m0 36v1m0 16v1m0 3v1m0 23v1m0 66v1m0 18v1m0 6v1m0 13v1m0 5v1m0 22v1m0 3v1m0 13v1m0 8v1m0 16v1m0 30v1m0 25v1m2-325v2m0 17v1m0 8v2m0 5v1m0 8v1m0 19v1m0 9v1m0 28v1m0 7v1m0 11v1m0 19v1m0 7v1m0 37v1m0 24v1m0 6v1m0 4v1m0 10v1m0 4v1m0 3v1m0 3v1m0 16v1m0 13v1m0 6v1m0 31v1m0 32v1m0 18v1m2-356v1m0 29v1m0 35v1m0 3v1m0 44v1m0 7v1m0 1v2m0 8v1m0 7v1m0 17v1m0 11v1m0 1v1m0 75v1m0 14v1m0 13v1m0 6v1m0 7v1m0 14v1m0 2v1m0 9v1m0 18v1m0 13v1m2-374v1m0 18v1m0 14v1m0 4v1m0 43v1m0 8v1m0 8v2m0 11v1m0 15v1m0 13v1m0 41v1m0 35v1m0 15v1m0 18v1m0 9v1m0 1v1m0 69v1m0 3v2m0 11v1m0 10v1m2-366v1m0 4v1m0 7v1m0 8v1m0 6v2m0 24v1m0 2v1m0 24v1m0 46v1m0 3v1m0 12v1m0 12v1m0 2v1m0 56v1m0 36v1m0 49v1m0 3v1m0 1v1m0 15v1m2-343v1m0 28v1m0 7v1m0 19v1m0 27v1m0 18v1m0 4v1m0 16v1m0 4v1m0 9v1m0 11v1m0 6v1m0 1v1m0 26v1m0 52v1m0 49v1m0 9v1m0 12v1m0 7v1m0 9v1m0 42v1m0 7v1m2-367v1m0 59v1m0 1v1m0 14v1m0 22v1m0 16v2m0 5v1m0 6v1m0 42v1m0 31v1m0 26v1m0 35v1m0 20v1m0 6v2m0 19v1m0 23v2m2-349v1m0 2v1m0 12v1m0 22v1m0 51v1m0 10v1m0 24v1m0 7v1m0 2v1m0 12v3m0 8v1m0 7v1m0 43v1m0 16v1m0 4v1m0 54v1m0 18v1m0 21v1m0 38v1m5-371v1m0 7v1m0 12v1m0 9v1m0 22v1m0 39v1m0 4v1m0 14v1m0 9v1m0 7v1m0 7v1m0 4v1m0 11v1m0 23v1m0 6v1m0 13v1m0 5v1m0 4v1m0 7v1m0 16v1m0 3v1m0 18v1m0 65v1m5-332v1m0 3v1m0 32v1m0 15v1m0 22v1m0 29v1m0 7v1m0 48v1m0 6v1m0 10v1m0 14v1m0 42v1m0 23v1m0 3v1m0 5v1m0 24v1m0 12v1m0 3v1m0 6v1m0 17v1m0 17v1m5-348v1m0 18v1m0 65v1m0 3v1m0 3v1m0 5v1m0 4v1m0 34v1m0 8v1m0 17v1m0 14v1m0 6v1m0 43v1m0 37v1m0 11v1m0 20v1m0 21v1m5-263v1m0 10v1m0 7v1m0 33v1m0 26v1m0 28v1m0 5v1m0 33v1m0 3v1m0 3v1m0 10v1m0 2v2m0 25v1m0 6v1m0 13v1m0 46v1m5-340v1m0 39v1m0 22v1m0 10v2m0 10v1m0 56v1m0 52v1m0 15v1m0 43v1m0 107v1m0 8v1m5-363v1m0 44v1m0 18v1m0 17v1m0 19v1m0 23v1m0 7v1m0 18v1m0 20v1m0 23v1m0 2v1m0 16v1m0 8v2m0 23v1m0 2v1m0 25v1m0 17v1m0 2v1m0 27v1m0 3v1m0 2v1m0 9v1m0 9v1"/>
<path stroke="#481668" d="M5.5 57v1m0 13v2m0 3v1m0 21v1m0 3v1m0 18v1m0 5v1m0 29v1m0 12v1m0 65v1m0 14v1m0 49v1m0 4v1m0 7v1m0 28v1m0 5v1m0 4v1m0 19v1m0 29v1m1-371v1m0 28v1m0 1v1m0 9v1m0 16v1m0 7v1m0 2v1m0 20v2m0 11v1m0 10v1m0 3v1m0 7v1m0 25v1m0 11v1m0 38v1m0 2v1m0 9v1m0 2v2m0 24v1m0 1v1m0 4v1m0 1v1m0 26v1m0 3v1m0 64v1m0 12v1m0 6v1m1-374v1m0 8v1m0 31v1m0 19v1m0 9v1m0 8v1m0 8v1m0 2v1m0 15v1m0 2v1m0 13v1m0 1v1m0 6v1m0 2v1m0 18v1m0 14v1m0 6v1m0 32v1m0 7v1m0 22v1m0 42v1m0 11v1m0 9v1m0 14v1m0 2v1m0 30v1m0 8v1m1-366v1m0 20v1m0 39v1m0 14v1m0 3v1m0 4v1m0 3v1m0 2v1m0 15v1m0 16v1m0 17v1m0 4v1m0 8v1m0 23v1m0 69v1m0 18v1m0 1v1m0 1v1m0 30v1m0 17v1m0 14v2m1-343v1m0 6v1m0 32v1m0 11v1m0 20v2m0 20v1m0 15v1m0 58v1m0 52v1m0 36v1m0 12v1m0 26v1m0 19v1m0 3v2m1-322v1m0 11v1m0 31v1m0 11v1m0 6v1m0 1v1m0 17v1m0 14v1m0 35v1m0 3v1m0 25v1m0 7v1m0 13v1m0 38v2m0 4v1m0 3v1m0 10v1m0 7v1m0 1v1m0 3v1m0 1v1m0 39v1m0 7v1m0 6v1m0 40v1m0 13v1m1-373v1m0 15v1m0 6v1m0 5v1m0 10v2m0 15v1m0 27v1m0 5v1m0 15v1m0 7v1m0 5v1m0 11v1m0 19v1m0 1v1m0 46v1m0 4v1m0 6v1m0 9v1m0 13v2m0 25v1m0 4v1m0 26v1m0 34v2m0 14v1m0 14v1m1-342v1m0 2v1m0 20v1m0 3v1m0 4v1m0 18v1m0 2v1m0 14v1m0 37v1m0 9v1m0 16v1m0 28v1m0 13v1m0 6v1m0 23v2m0 52v2m0 24v1m0 21v1m0 11v1m0 3v1m0 6v1m1-354v1m0 35v1m0 18v1m0 49v1m0 49v1m0 19v1m0 5v1m0 46v1m0 26v1m0 13v2m0 1v1m0 22v1m0 15v1m0 23v1m0 16v1m1-339v1m0 8v1m0 3v1m0 2v1m0 5v1m0 3v1m0 29v1m0 7v1m0 59v2m0 25v1m0 21v1m0 39v1m0 26v2m0 35v1m0 40v1m1-343v1m0 2v1m0 13v1m0 6v1m0 12v1m0 4v1m0 13v1m0 29v1m0 26v1m0 12v1m0 5v1m0 17v2m0 23v1m0 13v1m0 17v1m0 4v1m0 6v1m0 47v1m0 15v1m0 1v1m0 11v1m0 12v1m0 12v1m0 10v1m0 20v1m0 8v2m1-353v1m0 16v1m0 62v1m0 40v1m0 26v2m0 19v1m0 20v1m0 1v1m0 22v1m0 14v1m0 4v1m0 18v1m0 15v1m0 10v1m0 17v1m1-303v1m0 1v1m0 16v1m0 8v1m0 11v1m0 31v1m0 28v1m0 29v1m0 41v1m0 10v1m0 17v1m0 14v1m0 29v1m0 20v2m0 26v1m0 3v1m0 63v1m1-370v1m0 12v2m0 60v1m0 4v1m0 11v1m0 16v1m0 65v1m0 22v1m0 15v1m0 22v1m0 4v1m0 39v1m0 1v1m0 40v1m0 10v1m0 22v1m0 3v1m0 4v1m1-360v1m0 7v1m0 34v1m0 6v1m0 6v2m0 10v1m0 11v1m0 22v1m0 3v1m0 12v1m0 19v1m0 17v2m0 15v1m0 4v1m0 18v1m0 23v1m0 24v1m0 67v1m0 6v1m0 26v1m0 7v1m0 1v1m1-376v1m0 2v1m0 15v1m0 8v1m0 23v1m0 22v1m0 3v2m0 20v1m0 27v1m0 13v1m0 52v1m0 5v1m0 7v1m0 5v1m0 25v1m0 13v1m0 28v1m0 6v1m0 5v1m0 1v1m0 2v1m0 30v1m0 10v1m0 13v1m0 4v1m1-353v2m0 45v1m0 8v1m0 27v1m0 18v1m0 3v1m0 19v1m0 2v1m0 41v1m0 8v1m0 61v1m0 45v1m0 51v1m0 8v1m0 16v1m1-356v1m0 2v1m0 6v1m0 4v1m0 4v1m0 15v1m0 16v1m0 7v1m0 24v1m0 6v1m0 29v1m0 24v2m0 8v1m0 46v1m0 21v1m0 27v1m0 29v2m0 4v1m0 26v1m0 16v1m0 14v1m1-338v1m0 16v1m0 21v1m0 8v1m0 2v1m0 15v1m0 4v1m0 4v1m0 49v1m0 27v1m0 14v1m0 16v1m0 6v1m0 2v1m0 6v1m0 27v1m0 18v1m0 9v1m0 22v1m0 2v1m0 13v1m0 15v1m0 6v1m0 12v1m1-326v1m0 2v1m0 60v1m0 32v1m0 13v1m0 16v1m0 10v1m0 3v1m0 2v1m0 4v2m0 20v1m0 5v1m0 87v1m0 20v1m0 3v1m0 13v1m0 14v1m0 3v1m1-334v1m0 18v1m0 55v1m0 5v1m0 15v1m0 19v1m0 22v1m0 62v1m0 29v1m0 49v1m0 14v1m0 9v1m0 10v1m1-348v1m0 3v1m0 24v1m0 6v1m0 41v1m0 4v1m0 26v1m0 34v1m0 23v1m0 35v2m0 21v1m0 3v1m0 6v1m0 9v1m0 45v1m0 6v1m0 19v1m0 19v1m0 17v1m1-366v1m0 61v1m0 9v1m0 6v3m0 22v1m0 40v1m0 4v1m0 23v1m0 8v1m0 62v1m0 42v1m0 13v1m0 9v1m0 17v1m0 13v1m0 10v1m1-360v1m0 5v1m0 9v1m0 26v1m0 2v1m0 2v1m0 2v1m0 7v1m0 9v1m0 33v1m0 2v1m0 16v1m0 33v1m0 7v1m0 1v1m0 8v1m0 26v1m0 23v1m0 7v1m0 16v1m0 8v1m0 11v1m0 1v1m0 16v1m0 39v1m0 18v1m0 14v1m1-353v1m0 12v1m0 2v1m0 1v1m0 15v1m0 6v1m0 29v1m0 15v1m0 11v2m0 2v1m0 17v1m0 38v1m0 18v1m0 5v1m0 11v1m0 18v2m0 42v1m0 16v1m0 16v1m0 4v1m0 34v1m0 11v1m1-366v1m0 8v1m0 14v1m0 4v1m0 4v1m0 36v1m0 7v1m0 18v1m0 57v1m0 4v1m0 16v1m0 4v1m0 17v1m0 15v1m0 9v1m0 64v1m0 10v1m0 7v1m0 3v1m1-315v1m0 14v1m0 7v1m0 18v1m0 16v1m0 4v1m0 8v1m0 34v1m0 1v1m0 11v1m0 4v1m0 2v1m0 17v1m0 77v1m0 3v1m0 41v1m0 6v1m0 1v1m0 3v1m0 7v1m0 8v1m0 34v1m0 17v1m1-352v2m0 50v1m0 15v2m0 2v1m0 2v1m0 2v2m0 1v1m0 11v1m0 6v1m0 5v2m0 1v1m0 9v1m0 44v1m0 3v1m0 29v1m0 44v1m0 8v1m0 60v1m0 34v1m0 15v1m1-341v1m0 10v1m0 24v1m0 8v1m0 19v1m0 13v1m0 16v1m0 4v1m0 8v1m0 10v1m0 40v1m0 14v1m0 2v1m0 1v1m0 12v1m0 8v1m0 27v1m0 4v1m0 13v1m0 8v1m0 20v1m0 4v1m0 10v1m0 32v1m0 9v1m1-367v1m0 11v1m0 25v1m0 2v1m0 13v1m0 10v1m0 13v1m0 59v1m0 4v1m0 18v1m0 7v1m0 2v2m0 8v1m0 9v1m0 55v2m0 6v1m0 22v1m0 10v1m0 9v1m0 12v1m0 11v1m0 12v1m0 11v1m0 15v1m0 2v1m1-379v1m0 5v1m0 2v1m0 42v1m0 11v1m0 61v1m0 6v1m0 6v1m0 26v1m0 1v1m0 14v2m0 16v2m0 18v1m0 8v1m0 14v1m0 4v1m0 9v1m0 41v1m0 3v1m0 11v1m0 19v1m0 2v1m0 7v1m0 5v1m1-350v1m0 2v2m0 33v1m0 14v1m0 2v1m0 16v1m0 9v1m0 15v1m0 12v1m0 15v1m0 10v1m0 25v1m0 7v1m0 13v2m0 39v1m0 86v1m0 14v2m0 4v1m0 31v1m1-362v2m0 5v1m0 3v1m0 21v1m0 10v1m0 2v1m0 3v1m0 5v1m0 42v1m0 2v2m0 33v1m0 9v1m0 3v1m0 3v1m0 16v1m0 15v1m0 32v1m0 12v1m0 8v1m0 33v1m0 13v1m0 13v1m0 18v2m0 6v1m1-335v1m0 5v1m0 14v1m0 58v1m0 1v1m0 21v1m0 6v1m0 2v1m0 4v1m0 38v1m0 1v1m0 30v1m0 20v1m0 33v1m0 19v1m0 2v1m0 21v1m0 11v1m0 2v1m0 1v1m0 3v1m0 22v1m0 2v1m0 16v1m1-360v1m0 20v1m0 30v1m0 2v1m0 12v1m0 12v1m0 6v1m0 10v1m0 3v1m0 57v1m0 17v1m0 25v1m0 28v1m0 2v1m0 4v1m0 7v1m0 10v1m0 32v1m0 1v1m0 11v1m0 10v1m0 13v1m0 17v1m1-361v1m0 3v1m0 7v1m0 10v1m0 15v1m0 31v1m0 6v1m0 23v1m0 31v1m0 7v1m0 81v1m0 5v1m0 6v1m0 34v1m0 24v1m0 76v1m0 2v1m1-367v1m0 24v1m0 16v1m0 25v1m0 19v1m0 24v2m0 18v1m0 3v1m0 13v1m0 7v1m0 4v1m0 17v1m0 26v1m0 3v1m0 2v1m0 16v1m0 28v1m0 15v1m0 24v1m0 12v1m0 6v1m0 1v1m0 6v1m0 32v1m0 2v1m1-322v1m0 14v1m0 21v1m0 6v1m0 23v1m0 11v1m0 1v1m0 4v1m0 17v1m0 9v1m0 53v1m0 5v1m0 14v1m0 13v1m0 1v1m0 19v1m0 57v1m0 23v1m0 5v1m1-374v1m0 7v1m0 23v2m0 7v1m0 16v1m0 51v1m0 12v1m0 68v1m0 25v1m0 15v1m0 8v2m0 23v1m0 44v1m0 31v1m0 13v1m1-313v1m0 21v1m0 2v1m0 23v1m0 44v1m0 3v1m0 3v2m0 2v1m0 1v1m0 14v1m0 3v1m0 7v1m0 55v1m0 6v1m0 21v1m0 17v1m0 4v1m0 7v1m0 1v1m0 10v1m0 23v1m0 14v1m1-333v1m0 1v1m0 19v1m0 3v1m0 55v1m0 10v1m0 7v1m0 31v1m0 17v1m0 5v1m0 4v1m0 22v1m0 16v1m0 31v1m0 21v1m0 13v1m1-271v1m0 21v1m0 5v1m0 39v1m0 3v1m0 17v1m0 1v1m0 4v1m0 6v1m0 33v1m0 20v1m0 13v1m0 1v1m0 9v1m0 82v1m0 13v2m0 3v2m0 2v1m0 36v1m0 2v2m0 16v1m0 6v1m0 3v1m1-362v1m0 10v1m0 28v1m0 36v1m0 9v1m0 26v1m0 13v1m0 10v1m0 3v1m0 27v1m0 7v1m0 39v1m0 7v1m0 20v1m0 13v1m0 8v1m0 5v1m0 3v1m1-285v1m0 27v1m0 72v1m0 40v1m0 1v1m0 14v1m0 45v1m0 28v1m0 5v1m0 14v1m0 35v1m0 14v1m0 5v1m0 15v1m0 17v1m1-350v1m0 13v1m0 3v1m0 11v1m0 5v1m0 4v1m0 12v1m0 11v1m0 1v1m0 2v1m0 19v1m0 1v1m0 29v1m0 27v1m0 23v1m0 15v1m0 10v1m0 1v1m0 5v1m0 21v1m0 4v1m0 17v1m0 20v1m0 10v1m0 15v1m0 1v1m0 4v1m0 19v1m0 26v1m1-361v1m0 15v1m0 3v1m0 16v1m0 5v1m0 14v1m0 18v1m0 21v1m0 11v1m0 3v1m0 38v1m0 5v1m0 38v1m0 10v1m0 24v1m0 19v1m0 17v1m0 4v1m0 3v1m0 17v1m0 49v1m0 18v1m1-366v1m0 24v2m0 14v1m0 31v1m0 4v1m0 13v1m0 5v1m0 34v1m0 16v1m0 9v2m0 59v1m0 16v1m0 8v1m0 26v1m0 17v1m0 20v1m0 2v1m0 8v1m0 13v1m0 6v1m1-327v1m0 6v1m0 11v1m0 29v1m0 29v1m0 9v1m0 1v2m0 52v1m0 25v1m0 16v1m0 10v2m0 9v1m0 19v1m0 36v1m0 5v1m0 38v1m0 3v1m0 11v1m1-348v1m0 10v1m0 22v1m0 15v1m0 27v1m0 22v1m0 8v3m0 14v1m0 6v1m0 3v1m0 3v1m0 35v1m0 8v1m0 5v1m0 34v1m0 26v1m0 7v1m0 79v1m0 3v1m0 20v1m1-382v1m0 11v1m0 17v1m0 21v1m0 38v1m0 53v1m0 10v1m0 3v1m0 10v1m0 37v1m0 9v1m0 40v1m0 7v1m0 27v2m0 5v1m0 47v1m1-332v1m0 41v1m0 2v1m0 49v1m0 4v1m0 19v1m0 8v1m0 2v1m0 61v1m0 11v1m0 6v1m0 2v1m0 2v1m0 6v1m0 50v1m0 1v1m0 28v1m0 16v2m0 2v1m0 21v1m1-347v1m0 16v1m0 17v1m0 69v1m0 5v2m0 63v1m0 21v1m0 3v1m0 13v1m0 4v1m0 18v1m0 24v1m0 14v2m0 26v1m0 1v1m0 21v1m0 4v1m0 9v1m1-354v1m0 18v1m0 27v1m0 2v1m0 5v1m0 11v2m0 1v1m0 15v1m0 17v1m0 1v1m0 32v1m0 13v1m0 22v1m0 13v1m0 6v1m0 5v1m0 13v1m0 1v2m0 3v1m0 5v1m0 15v1m0 1v1m0 8v1m0 1v1m0 4v1m0 18v1m0 31v1m0 44v2m1-345v1m0 4v1m0 14v1m0 20v1m0 70v1m0 9v1m0 8v1m0 18v1m0 5v1m0 7v1m0 3v1m0 5v1m0 15v1m0 14v1m0 5v1m0 18v2m0 16v1m0 15v1m0 1v1m0 17v1m0 1v1m0 30v1m0 7v1m0 18v1m1-372v1m0 14v1m0 58v2m0 15v1m0 10v1m0 8v1m0 3v1m0 18v1m0 15v1m0 21v1m0 15v1m0 11v1m0 15v1m0 15v1m0 7v1m0 61v2m0 9v1m0 19v1m1-335v1m0 22v2m0 1v1m0 4v1m0 8v1m0 18v1m0 20v1m0 11v1m0 13v1m0 9v1m0 24v1m0 59v1m0 17v1m0 4v1m0 69v1m0 3v2m0 22v1m0 10v1m0 32v1m0 4v1m1-370v1m0 30v2m0 11v1m0 8v2m0 2v2m0 8v1m0 14v1m0 33v1m0 16v1m0 4v1m0 40v1m0 39v1m0 8v1m0 15v1m0 20v1m0 10v1m0 8v1m0 10v1m0 12v1m0 7v1m0 18v1m1-343v1m0 34v1m0 3v1m0 61v1m0 7v1m0 6v1m0 9v1m0 9v1m0 35v1m0 19v1m0 30v1m0 26v1m0 26v1m0 1v1m0 4v1m0 3v1m0 4v1m0 2v1m0 7v1m0 8v2m0 55v1m0 7v1m1-307v1m0 60v1m0 12v1m0 25v1m0 2v1m0 19v1m0 7v1m0 81v1m0 69v2m0 13v1m0 2v1m1-371v1m0 10v1m0 6v1m0 20v1m0 19v1m0 11v1m0 24v1m0 38v1m0 14v1m0 28v1m0 2v1m0 14v1m0 10v1m0 5v1m0 10v1m0 2v1m0 19v1m0 1v1m0 26v1m0 9v1m0 9v1m0 19v2m0 11v1m1-322v1m0 24v1m0 37v1m0 3v1m0 1v1m0 13v1m0 10v1m0 11v1m0 4v1m0 29v1m0 21v1m0 9v1m0 46v1m0 9v1m0 49v1m0 36v1m0 7v1m0 9v2m0 28v1m1-289v1m0 2v1m0 10v1m0 16v1m0 11v1m0 24v2m0 31v1m0 10v1m0 5v1m0 7v1m0 4v1m0 26v1m0 5v1m0 15v1m0 21v2m0 6v1m0 20v1m0 9v1m0 4v1m0 7v1m0 8v2m0 3v1m1-349v1m0 18v1m0 4v1m0 3v1m0 5v1m0 11v1m0 10v1m0 7v1m0 4v1m0 4v1m0 4v1m0 17v1m0 10v1m0 18v1m0 12v1m0 3v1m0 11v1m0 11v1m0 7v1m0 21v1m0 42v1m0 8v1m0 2v1m0 28v2m0 43v1m0 31v1m0 4v1m1-337v1m0 15v1m0 17v1m0 8v1m0 59v1m0 15v1m0 51v1m0 11v1m0 12v1m0 9v1m0 45v1m0 31v1m0 36v1m0 11v1m1-369v1m0 1v2m0 10v1m0 16v1m0 33v1m0 30v1m0 22v1m0 78v1m0 2v1m0 57v1m0 53v1m0 3v1m0 19v1m0 6v1m0 2v1m1-326v1m0 7v1m0 18v1m0 3v1m0 7v1m0 55v1m0 48v1m0 4v1m0 8v1m0 34v1m0 2v1m0 20v1m0 23v1m0 8v1m0 4v1m0 8v1m0 3v1m0 10v1m0 34v1m1-338v1m0 8v1m0 48v1m0 2v1m0 21v1m0 10v1m0 1v1m0 24v1m0 5v1m0 17v1m0 64v1m0 7v1m0 13v1m0 58v1m0 23v1m0 58v1m1-367v1m0 27v1m0 5v1m0 1v1m0 17v1m0 1v3m0 18v1m0 19v1m0 23v1m0 8v1m0 23v1m0 7v1m0 40v2m0 16v1m0 12v1m0 14v1m0 13v1m0 15v1m0 35v1m0 52v1m1-377v1m0 2v1m0 25v1m0 41v1m0 22v1m0 28v1m0 10v1m0 12v1m0 16v1m0 66v1m0 4v1m0 69v1m0 6v1m0 43v1m0 16v1m1-376v1m0 2v1m0 5v1m0 16v1m0 4v1m0 9v1m0 6v1m0 1v1m0 3v1m0 12v1m0 30v1m0 37v1m0 15v1m0 2v1m0 23v1m0 16v1m0 8v1m0 3v1m0 12v1m0 4v1m0 10v2m0 7v1m0 31v1m0 44v1m0 2v1m0 9v1m0 9v1m0 24v1m1-370v1m0 13v1m0 54v1m0 1v1m0 2v1m0 8v1m0 6v1m0 24v1m0 28v1m0 30v1m0 23v1m0 5v1m0 1v1m0 12v1m0 54v1m0 44v1m0 10v1m0 1v1m0 29v1m1-373v1m0 51v1m0 6v1m0 12v1m0 31v1m0 16v1m0 36v1m0 43v1m0 39v1m0 10v1m0 5v1m0 66v1m0 18v1m1-334v1m0 7v1m0 4v1m0 1v1m0 9v1m0 44v1m0 46v1m0 23v2m0 13v1m0 12v1m0 108v1m0 1v1m0 55v1m0 24v1m1-366v1m0 5v1m0 17v1m0 19v1m0 24v2m0 6v1m0 5v2m0 26v1m0 34v1m0 3v1m0 11v1m0 50v1m0 4v1m0 18v1m0 21v1m0 12v1m0 7v1m0 3v1m0 60v1m0 27v1m1-377v1m0 43v1m0 30v1m0 2v1m0 17v1m0 27v1m0 12v1m0 16v2m0 14v1m0 16v1m0 5v1m0 39v1m0 12v1m0 31v1m0 9v1m0 4v1m0 10v1m0 13v1m0 45v1m1-298v1m0 13v1m0 7v1m0 7v1m0 6v1m0 7v1m0 26v1m0 5v1m0 58v1m0 12v1m0 10v1m0 31v1m0 1v1m0 72v1m0 16v1m1-351v1m0 26v1m0 2v1m0 11v1m0 5v1m0 1v1m0 3v1m0 23v1m0 7v2m0 6v1m0 2v1m0 5v1m0 2v1m0 24v1m0 5v1m0 22v1m0 12v1m0 13v1m0 17v1m0 5v1m0 45v1m0 67v1m0 10v1m0 27v1m0 6v1m1-354v1m0 13v1m0 76v1m0 13v1m0 21v1m0 40v1m0 11v1m0 47v1m0 34v1m0 10v1m0 23v2m0 32v1m0 8v2m1-326v1m0 13v1m0 28v1m0 11v1m0 68v1m0 53v1m0 43v1m0 49v1m0 31v1m0 30v1m1-202v1m0 21v1m0 3v1m0 7v1m0 26v1m0 7v1m0 15v1m0 14v1m0 33v1m0 9v2m0 53v1m0 5v1m1-289v2m0 12v1m0 28v1m0 20v1m0 13v1m0 66v1m0 21v1m0 12v1m0 48v1m0 9v1m0 32v1m0 10v1m0 4v1m1-366v1m0 7v1m0 7v1m0 24v1m0 15v1m0 11v1m0 1v1m0 1v1m0 21v1m0 17v1m0 5v1m0 19v1m0 40v1m0 27v1m0 7v1m0 48v1m0 60v1m0 4v1m0 24v1m1-364v1m0 37v1m0 2v1m0 24v1m0 31v1m0 12v2m0 17v1m0 21v1m0 1v1m0 10v1m0 29v1m0 46v1m0 4v1m0 10v1m0 10v1m0 26v2m0 36v1m0 36v1m1-341v1m0 5v1m0 10v1m0 29v1m0 60v1m0 12v1m0 9v1m0 95v1m0 21v1m0 13v1m0 6v2m0 35v1m0 7v1m0 3v1m1-354v1m0 2v1m0 4v2m0 21v1m0 4v1m0 22v1m0 38v1m0 12v1m0 21v1m0 21v1m0 28v1m0 25v1m0 73v1m0 20v1m0 2v1m0 57v1m0 9v2m1-358v1m0 30v1m0 9v1m0 14v1m0 15v1m0 26v1m0 5v1m0 15v1m0 11v1m0 13v1m0 3v1m0 17v1m0 2v1m0 14v1m0 52v1m0 108v1m1-367v1m0 28v2m0 28v1m0 42v1m0 48v1m0 2v2m0 64v1m0 8v1m0 5v1m0 13v1m0 15v1m0 29v1m0 17v1m0 18v1m0 30v1m1-314v1m0 15v1m0 1v1m0 8v1m0 4v1m0 27v1m0 8v1m0 7v1m0 13v1m0 7v1m0 43v1m0 3v1m0 7v1m0 43v1m0 3v2m0 29v1m0 16v2m0 11v1m0 12v1m0 6v1m1-333v1m0 7v1m0 8v1m0 3v1m0 44v1m0 21v1m0 27v1m0 30v2m0 23v1m0 39v1m0 7v1m0 34v1m0 9v1m0 2v1m0 11v1m0 58v1m1-342v1m0 5v1m0 7v1m0 10v2m0 9v1m0 14v1m0 16v1m0 35v1m0 13v1m0 4v1m0 3v1m0 7v1m0 33v1m0 18v1m0 4v1m0 6v1m0 9v1m0 1v1m0 9v1m0 40v1m0 4v1m0 11v1m0 20v1m0 6v1m0 36v1m0 1v1m0 2v1m0 19v1m1-364v2m0 54v1m0 9v1m0 12v1m0 21v1m0 97v1m0 19v1m0 19v1m0 15v1m0 22v1m0 16v1m0 4v2m0 1v3m0 8v1m0 16v1m0 24v1m1-360v1m0 17v1m0 9v1m0 2v1m0 14v1m0 11v1m0 47v1m0 2v1m0 21v1m0 16v1m0 35v1m0 33v1m0 45v1m0 11v1m0 2v2m0 17v1m0 15v2m0 25v1m1-347v1m0 33v1m0 10v2m0 13v1m0 28v1m0 5v1m0 65v1m0 7v1m0 11v1m0 4v1m0 2v1m0 17v1m0 1v1m0 2v1m0 29v1m0 10v1m0 3v1m0 23v1m0 16v1m0 12v1m0 11v1m0 13v2m0 34v2m1-377v1m0 54v1m0 23v1m0 16v1m0 26v2m0 24v1m0 15v1m0 4v1m0 5v1m0 22v1m0 18v1m0 40v1m0 35v1m0 3v1m0 29v1m0 10v1m1-313v1m0 20v1m0 7v1m0 95v1m0 5v2m0 12v1m0 6v1m0 13v1m0 36v1m0 13v1m0 16v1m0 84v1m0 12v1m0 9v2m1-361v1m0 10v1m0 11v1m0 28v1m0 14v1m0 18v1m0 41v2m0 31v1m0 9v1m0 1v1m0 8v1m0 11v1m0 53v1m0 37v1m0 7v1m1-276v1m0 36v1m0 23v1m0 23v1m0 53v1m0 11v1m0 27v1m0 75v1m0 44v2m0 24v1m0 3v1m0 15v1m1-335v1m0 12v1m0 43v1m0 23v2m0 17v1m0 1v1m0 1v1m0 1v1m0 16v1m0 10v1m0 75v1m0 36v1m0 34v1m0 6v1m0 9v1m0 2v1m1-344v1m0 3v1m0 13v1m0 1v1m0 39v1m0 19v1m0 5v1m0 16v1m0 19v1m0 16v1m0 23v1m0 5v1m0 1v1m0 12v1m0 29v1m0 25v1m0 14v1m0 27v2m0 9v1m0 36v1m0 21v2m0 7v1m0 6v1m1-365v1m0 6v1m0 1v1m0 1v1m0 5v1m0 3v1m0 15v1m0 39v1m0 5v1m0 22v1m0 13v2m0 9v2m0 1v1m0 7v1m0 50v1m0 26v1m0 1v1m0 8v1m0 11v1m0 3v1m0 22v2m0 85v1m0 7v1m1-379v1m0 7v1m0 134v1m0 26v1m0 25v1m0 63v1m0 5v1m1-215v1m0 14v1m0 41v1m0 11v1m0 8v2m0 29v1m0 3v1m0 13v1m0 4v1m0 34v1m0 11v1m0 23v1m0 13v1m0 10v1m0 16v1m0 34v1m0 16v1m0 11v1m0 18v1m1-357v1m0 8v1m0 2v1m0 51v1m0 5v1m0 18v1m0 9v1m0 28v1m0 9v1m0 4v1m0 65v1m0 18v1m0 33v1m0 11v1m0 4v1m0 36v1m1-336v1m0 45v1m0 43v1m0 52v1m0 20v1m0 82v1m0 1v1m0 14v1m0 2v1m0 6v1m0 32v1m0 4v1m0 4v1m0 17v1m1-292v1m0 7v1m0 5v1m0 53v2m0 3v1m0 2v1m0 1v1m0 12v1m0 62v1m0 8v1m0 32v1m0 18v1m0 2v1m0 4v1m0 15v1m0 49v1m0 8v1m0 22v1m1-353v1m0 2v1m0 7v1m0 15v1m0 38v1m0 24v1m0 3v1m0 13v1m0 10v1m0 16v1m0 31v2m0 13v1m0 16v1m0 7v1m0 8v1m0 1v1m0 40v1m0 10v1m0 4v1m0 17v1m0 25v1m0 19v1m0 9v1m1-315v1m0 19v3m0 21v1m0 1v1m0 33v1m0 92v1m0 44v1m0 37v1m0 40v1m2-313v1m0 9v1m0 3v1m0 16v1m0 75v1m0 38v1m0 14v1m0 22v1m0 43v1m0 15v1m0 36v1m0 3v1m0 14v1m0 1v1m0 2v1m0 1v1m0 13v1m2-350v1m0 1v1m0 25v1m0 34v1m0 35v1m0 11v1m0 48v1m0 3v1m0 45v1m0 56v2m0 3v1m0 9v1m0 30v1m0 3v1m0 28v1m2-334v1m0 12v1m0 5v1m0 23v1m0 11v1m0 9v1m0 2v1m0 69v1m0 15v1m0 36v1m0 22v1m0 9v1m0 7v1m0 67v1m0 25v1m0 21v1m0 8v1m2-358v1m0 44v1m0 27v1m0 21v1m0 17v1m0 25v1m0 8v1m0 7v1m0 15v1m0 1v2m0 19v1m0 12v1m0 67v1m0 12v1m0 17v1m0 20v1m0 5v1m0 8v1m0 4v1m2-337v1m0 16v1m0 12v1m0 31v1m0 8v1m0 5v1m0 70v1m0 8v1m0 12v1m0 22v1m0 4v1m0 13v1m0 99v1m0 19v1m0 11v1m2-359v1m0 5v1m0 30v1m0 12v1m0 88v1m0 1v1m0 52v1m0 18v1m0 38v1m0 28v1m0 7v1m0 19v1m0 2v1m0 3v1m2-308v1m0 13v1m0 12v1m0 13v1m0 19v1m0 10v1m0 23v2m0 37v1m0 17v1m0 18v1m0 10v1m0 11v1m0 8v1m0 8v1m0 7v1m0 27v1m0 1v1m0 5v1m0 52v1m0 3v1m0 1v1m0 3v1m0 1v1m5-306v1m0 3v1m0 15v1m0 7v1m0 61v1m0 9v1m0 5v1m0 34v1m0 25v2m0 5v2m0 4v1m0 19v1m0 34v1m0 19v1m0 8v1m0 20v1m0 10v1m0 9v1m0 1v1m0 2v1m0 1v1m5-349v1m0 6v1m0 6v1m0 17v1m0 26v1m0 34v1m0 4v1m0 18v1m0 13v2m0 5v1m0 3v1m0 25v1m0 1v1m0 28v1m0 8v1m0 15v1m0 5v1m0 14v1m0 32v1m0 3v1m0 33v1m0 8v1m0 19v1m0 20v1m5-347v1m0 4v1m0 9v2m0 36v1m0 56v1m0 28v1m0 5v1m0 37v1m0 6v1m0 39v1m0 9v1m0 49v1m0 24v1m0 28v1m5-363v1m0 4v1m0 29v1m0 35v1m0 2v1m0 33v1m0 20v1m0 1v1m0 10v1m0 19v1m0 43v1m0 3v1m0 16v1m0 11v2m0 4v1m0 4v1m0 32v1m0 22v1m0 17v1m0 7v1m0 24v2m5-344v1m0 99v1m0 14v1m0 9v1m0 5v1m0 28v1m0 79v1m0 24v1m0 11v1m0 2v1m0 11v1m0 17v1m0 1v1m0 21v1m5-334v1m0 14v1m0 40v1m0 4v1m0 64v1m0 17v1m0 10v1m0 35v1m0 12v1m0 39v1m0 21v1m0 37v1m0 3v1m0 5v1m0 32v1"/>
<path stroke="#481c6e" d="M5.5 31v2m0 7v1m0 6v1m0 18v1m0 3v1m0 12v1m0 46v1m0 4v1m0 20v1m0 70v1m0 68v1m0 5v1m0 19v1m0 30v1m0 12v1m0 22v1m1-348v1m0 16v3m0 20v1m0 21v1m0 1v1m0 33v1m0 25v1m0 6v1m0 25v1m0 18v1m0 97v1m0 6v1m0 56v1m0 10v1m1-364v1m0 14v1m0 6v1m0 11v1m0 22v1m0 2v1m0 16v1m0 1v1m0 9v1m0 20v1m0 2v1m0 4v1m0 38v1m0 2v1m0 15v1m0 19v1m0 32v1m0 6v1m0 15v1m0 8v1m0 28v1m0 20v1m0 2v1m0 28v1m0 2v1m0 14v1m1-339v1m0 29v1m0 3v2m0 31v1m0 23v1m0 29v1m0 26v1m0 24v1m0 9v1m0 28v1m0 8v1m0 41v1m0 8v2m0 25v1m0 20v1m0 15v1m0 2v1m0 7v1m0 2v1m1-342v1m0 20v1m0 9v1m0 2v1m0 17v1m0 7v1m0 23v1m0 35v1m0 20v1m0 24v1m0 72v1m0 14v1m0 23v1m0 4v1m0 21v1m0 1v1m0 9v1m0 13v1m0 9v1m1-365v1m0 1v1m0 24v1m0 9v1m0 49v2m0 54v1m0 16v1m0 34v1m0 23v1m0 22v1m0 20v1m0 21v1m0 25v1m0 6v1m0 15v1m0 21v2m1-354v1m0 37v1m0 2v1m0 12v1m0 10v1m0 2v1m0 28v1m0 2v1m0 50v1m0 3v2m0 16v1m0 11v1m0 31v1m0 13v1m0 60v1m0 26v1m0 6v1m0 10v1m1-336v1m0 5v1m0 9v1m0 12v2m0 12v1m0 2v1m0 23v1m0 8v1m0 4v1m0 39v1m0 11v1m0 85v1m0 16v1m0 23v1m0 29v1m0 19v1m0 18v1m1-354v1m0 2v1m0 12v1m0 2v1m0 20v1m0 6v1m0 6v1m0 27v1m0 4v1m0 8v1m0 35v1m0 16v1m0 27v1m0 29v1m0 8v1m0 36v1m0 2v1m0 1v1m0 6v1m0 11v1m0 37v1m0 26v1m0 2v1m0 3v1m0 18v1m0 4v1m1-364v1m0 3v1m0 14v1m0 15v1m0 38v1m0 26v1m0 4v1m0 6v1m0 11v1m0 45v1m0 37v1m0 24v1m0 2v1m0 11v1m0 16v2m0 24v1m0 32v1m0 38v1m1-362v1m0 3v2m0 27v1m0 3v1m0 24v1m0 5v2m0 13v1m0 53v1m0 39v1m0 18v1m0 35v1m0 9v1m0 16v1m0 50v1m0 30v2m1-332v1m0 22v1m0 38v1m0 15v1m0 4v1m0 34v1m0 55v1m0 44v1m0 3v1m0 28v1m0 13v1m0 32v1m0 8v1m0 5v1m1-327v1m0 20v1m0 20v1m0 41v1m0 3v1m0 22v1m0 3v1m0 2v1m0 7v1m0 24v1m0 2v1m0 25v1m0 27v1m0 25v1m0 11v1m0 12v2m0 62v1m0 14v1m0 9v1m0 14v1m1-367v1m0 17v1m0 31v1m0 9v1m0 19v1m0 21v1m0 12v1m0 7v1m0 24v1m0 44v1m0 6v1m0 42v1m0 2v1m0 21v1m0 23v1m0 8v1m0 53v1m1-299v1m0 1v1m0 18v1m0 71v1m0 41v1m0 2v1m0 29v1m0 30v1m0 30v1m0 2v2m0 13v1m0 7v1m0 1v1m0 22v1m0 27v1m1-323v1m0 4v1m0 35v1m0 8v1m0 27v1m0 23v1m0 24v1m0 11v1m0 62v1m0 5v1m0 7v1m0 21v1m0 68v1m0 7v1m1-365v1m0 6v1m0 22v1m0 4v2m0 39v1m0 14v1m0 10v1m0 8v1m0 41v1m0 10v1m0 4v1m0 67v1m0 6v1m0 31v1m0 36v1m0 43v1m0 13v1m1-363v1m0 45v1m0 4v1m0 13v1m0 18v1m0 12v1m0 15v1m0 13v1m0 8v1m0 14v1m0 6v1m0 29v1m0 6v1m0 8v1m0 9v1m0 1v1m0 19v1m0 35v1m0 9v1m0 5v1m0 18v1m0 2v1m0 5v1m0 9v1m0 6v1m1-309v1m0 3v1m0 7v1m0 46v1m0 6v2m0 16v1m0 8v1m0 2v1m0 4v1m0 1v1m0 19v1m0 7v1m0 10v1m0 103v1m0 3v1m0 5v1m0 9v1m0 3v2m0 4v1m0 5v1m0 18v1m0 2v1m1-320v1m0 45v1m0 22v1m0 44v1m0 9v1m0 7v1m0 12v1m0 36v1m0 11v1m0 1v1m0 25v2m0 50v1m0 30v2m0 2v1m0 27v1m0 19v1m1-364v1m0 3v1m0 15v1m0 31v1m0 14v1m0 92v1m0 11v1m0 24v1m0 23v1m0 3v1m0 6v1m0 1v1m0 5v1m0 25v1m0 1v1m0 9v1m0 22v1m0 1v1m0 4v1m0 10v1m0 18v1m0 4v1m1-284v1m0 81v1m0 34v1m0 32v1m0 29v1m0 33v1m0 25v1m0 39v1m0 15v1m1-365v1m0 29v1m0 2v1m0 6v1m0 19v2m0 33v1m0 11v1m0 7v1m0 8v1m0 1v1m0 41v1m0 17v1m0 10v1m0 20v1m0 30v1m0 6v3m0 2v1m0 44v1m0 52v1m0 8v1m1-356v1m0 13v1m0 35v1m0 15v1m0 30v1m0 11v1m0 32v2m0 4v1m0 24v1m0 10v1m0 27v1m0 17v2m0 2v1m0 22v1m0 24v1m0 40v1m1-303v1m0 2v1m0 2v1m0 5v1m0 37v1m0 19v1m0 6v1m0 10v1m0 42v1m0 10v1m0 6v1m0 7v1m0 9v1m0 18v1m0 27v1m0 19v1m0 10v1m0 82v1m0 8v1m1-357v1m0 7v1m0 4v1m0 6v1m0 2v1m0 15v1m0 56v1m0 36v1m0 48v1m0 79v1m0 25v1m0 26v1m0 12v1m1-347v1m0 5v1m0 23v1m0 4v2m0 47v1m0 26v1m0 10v1m0 14v1m0 11v1m0 4v1m0 14v1m0 5v1m0 3v2m0 22v1m0 11v1m0 4v1m0 20v1m0 15v1m0 16v1m0 14v1m0 12v1m0 8v1m0 11v1m1-316v1m0 7v1m0 9v1m0 39v1m0 22v1m0 58v1m0 3v1m0 2v1m0 21v1m0 19v1m0 27v1m0 27v1m0 59v1m0 1v1m0 4v1m0 22v1m0 14v2m0 6v1m1-299v1m0 12v1m0 5v1m0 24v1m0 11v1m0 9v1m0 28v1m0 46v1m0 1v1m0 2v1m0 9v1m0 12v1m0 30v1m0 10v1m0 9v1m0 11v1m0 15v2m0 27v2m0 9v1m1-354v1m0 2v1m0 26v1m0 15v1m0 21v1m0 5v2m0 9v1m0 34v1m0 3v1m0 3v1m0 9v1m0 13v1m0 31v1m0 20v1m0 2v1m0 6v2m0 12v1m0 10v1m0 13v1m0 8v1m0 38v1m0 19v1m0 4v1m0 12v1m0 1v1m0 16v1m1-323v1m0 18v1m0 5v1m0 21v1m0 9v1m0 16v1m0 29v1m0 25v1m0 38v1m0 6v1m0 6v1m0 3v1m0 49v1m0 5v1m0 5v1m0 17v1m0 38v1m0 21v1m1-363v1m0 5v1m0 27v1m0 8v1m0 9v1m0 5v1m0 3v2m0 6v1m0 3v1m0 4v1m0 1v1m0 19v1m0 15v1m0 17v1m0 10v1m0 2v1m0 23v1m0 52v1m0 14v1m0 29v1m0 3v1m0 11v1m0 8v1m0 17v1m0 29v1m0 9v1m0 7v1m1-336v1m0 12v1m0 1v1m0 7v1m0 5v1m0 25v1m0 26v1m0 3v1m0 11v1m0 18v1m0 21v1m0 39v1m0 10v1m0 3v1m0 4v1m0 12v2m0 46v1m0 26v1m0 6v1m0 12v1m0 23v1m0 3v1m1-365v1m0 17v1m0 6v1m0 5v1m0 17v1m0 3v1m0 15v1m0 9v1m0 12v1m0 9v1m0 27v1m0 3v1m0 17v1m0 10v1m0 34v1m0 43v1m0 16v1m0 27v1m0 3v1m0 6v1m0 3v1m0 30v1m1-246v1m0 18v1m0 21v1m0 4v1m0 20v1m0 9v1m0 3v1m0 71v1m0 2v1m0 38v1m0 17v1m0 34v1m1-320v1m0 14v1m0 38v1m0 20v1m0 3v1m0 4v1m0 2v1m0 48v1m0 4v1m0 2v1m0 9v1m0 10v1m0 46v1m0 2v1m0 30v1m0 2v1m0 45v1m0 25v2m0 27v1m1-371v1m0 6v1m0 18v1m0 2v2m0 12v1m0 1v1m0 1v1m0 5v1m0 13v1m0 7v1m0 26v1m0 24v1m0 3v2m0 34v1m0 23v1m0 50v1m0 4v1m0 5v2m0 15v1m0 13v1m0 30v1m0 50v1m1-344v1m0 14v1m0 2v1m0 77v1m0 12v1m0 68v1m0 35v1m0 5v1m0 5v1m0 4v1m0 3v1m0 19v1m0 3v1m0 70v1m0 15v1m0 1v1m1-354v1m0 5v1m0 9v1m0 53v1m0 2v1m0 18v1m0 14v1m0 21v1m0 1v1m0 33v2m0 27v1m0 2v1m0 29v1m0 6v1m0 55v1m0 8v1m0 13v1m0 8v1m1-341v1m0 67v1m0 35v1m0 3v1m0 56v1m0 22v1m0 61v1m0 2v1m0 24v1m0 5v1m0 27v1m1-310v1m0 5v1m0 10v1m0 30v1m0 37v1m0 4v1m0 96v1m0 25v1m0 110v1m0 9v1m1-334v1m0 25v1m0 2v1m0 13v1m0 1v1m0 8v1m0 37v1m0 3v1m0 14v1m0 56v1m0 2v1m0 1v1m0 8v1m0 18v1m0 22v1m0 5v1m0 28v1m0 5v1m0 14v1m0 27v1m0 7v1m0 20v1m0 9v1m1-353v1m0 3v1m0 14v1m0 35v2m0 11v2m0 13v1m0 4v1m0 14v1m0 12v1m0 5v1m0 1v1m0 45v1m0 5v1m0 30v1m0 3v1m0 13v1m0 12v1m0 22v1m0 6v1m0 21v1m0 2v1m0 27v1m0 12v1m0 14v2m1-340v1m0 14v1m0 33v1m0 27v1m0 4v1m0 10v1m0 18v1m0 8v1m0 19v1m0 6v1m0 14v1m0 17v1m0 20v1m0 14v1m0 6v2m0 10v2m0 4v1m0 1v1m0 97v2m0 18v1m1-375v2m0 22v1m0 21v1m0 8v1m0 18v1m0 9v2m0 17v1m0 23v1m0 27v1m0 9v1m0 34v1m0 50v1m0 21v1m0 10v1m0 7v1m0 3v1m0 6v1m0 18v1m0 2v1m0 1v1m0 2v1m0 21v1m0 17v1m1-369v1m0 9v1m0 10v1m0 23v1m0 1v1m0 15v1m0 65v1m0 13v1m0 15v1m0 33v1m0 33v1m0 11v1m0 7v1m0 12v1m0 29v1m0 52v1m0 1v1m0 9v1m0 1v1m0 3v1m1-371v1m0 4v1m0 8v1m0 41v1m0 11v1m0 20v1m0 15v1m0 5v1m0 1v1m0 36v1m0 215v1m1-348v1m0 57v1m0 38v1m0 35v1m0 3v1m0 8v1m0 16v3m0 12v1m0 1v1m0 34v1m0 19v1m0 62v1m0 36v1m0 4v1m0 17v1m1-337v1m0 23v1m0 33v1m0 15v1m0 4v1m0 58v1m0 5v1m0 24v2m0 3v1m0 33v1m0 35v1m0 4v1m0 23v1m0 58v1m0 4v1m1-309v1m0 28v2m0 14v1m0 7v1m0 6v1m0 5v1m0 24v1m0 54v1m0 45v1m0 2v1m0 21v2m0 17v1m0 63v1m1-358v3m0 41v1m0 25v1m0 5v2m0 2v1m0 33v1m0 17v1m0 12v1m0 13v1m0 3v1m0 3v1m0 14v1m0 59v1m0 3v1m0 1v1m0 23v1m0 4v1m0 49v1m1-325v1m0 19v1m0 33v1m0 37v1m0 28v1m0 2v1m0 43v1m0 18v1m0 4v1m0 1v1m0 17v1m0 12v1m0 52v1m0 7v1m0 35v1m0 35v1m1-376v1m0 21v1m0 59v1m0 45v1m0 50v1m0 4v2m0 33v1m0 11v1m0 118v1m0 7v1m0 1v1m1-336v1m0 2v1m0 16v1m0 7v1m0 3v1m0 10v1m0 25v2m0 25v1m0 10v1m0 1v1m0 11v1m0 19v1m0 1v1m0 21v1m0 25v1m0 23v1m0 68v1m0 18v1m0 10v1m0 3v1m0 2v1m1-343v1m0 56v1m0 15v1m0 4v1m0 10v1m0 43v1m0 4v1m0 12v1m0 90v1m0 18v1m0 29v1m0 57v1m0 7v1m0 18v1m1-358v1m0 71v1m0 21v1m0 4v1m0 33v1m0 27v1m0 16v1m0 21v1m0 20v1m0 36v1m0 6v1m0 28v1m0 2v1m0 11v1m0 20v2m0 3v1m1-319v1m0 20v1m0 28v1m0 19v2m0 73v1m0 17v1m0 39v1m0 23v1m0 4v1m0 55v1m0 13v1m1-338v1m0 7v1m0 7v1m0 49v1m0 9v1m0 11v1m0 2v1m0 32v1m0 12v1m0 6v1m0 13v1m0 16v1m0 14v1m0 25v1m0 19v1m0 34v1m0 22v1m0 14v1m0 12v1m0 27v1m0 15v1m0 6v1m1-316v1m0 6v1m0 40v1m0 5v1m0 22v1m0 6v1m0 24v1m0 4v1m0 2v1m0 1v1m0 7v1m0 9v1m0 34v1m0 9v1m0 12v1m0 81v1m0 6v1m0 24v1m0 3v1m1-360v1m0 32v1m0 18v1m0 11v1m0 92v1m0 21v1m0 26v1m0 62v1m0 28v1m0 24v1m0 29v1m1-359v2m0 11v1m0 43v1m0 4v1m0 13v1m0 58v1m0 45v1m0 51v1m0 12v1m0 14v1m0 5v1m0 2v1m0 24v1m0 18v1m0 3v1m0 4v1m0 1v1m0 7v1m0 28v1m1-320v1m0 11v1m0 24v1m0 15v1m0 30v2m0 9v1m0 24v2m0 3v1m0 23v1m0 10v1m0 16v1m0 4v1m0 48v1m0 59v1m0 31v1m1-369v1m0 3v1m0 16v1m0 6v1m0 7v1m0 25v1m0 4v1m0 6v1m0 16v1m0 7v1m0 39v1m0 2v1m0 7v1m0 3v2m0 5v1m0 16v2m0 2v1m0 52v1m0 4v1m0 23v1m0 4v1m0 24v1m0 3v1m0 1v1m0 6v1m0 3v1m0 15v1m0 9v1m0 4v1m0 14v1m1-345v2m0 20v1m0 14v1m0 1v1m0 2v1m0 4v1m0 2v1m0 30v1m0 15v1m0 16v1m0 16v1m0 11v1m0 8v1m0 1v1m0 8v1m0 43v1m0 26v2m0 15v1m0 55v1m1-330v1m0 11v1m0 21v1m0 20v1m0 22v1m0 11v1m0 9v1m0 73v1m0 2v1m0 18v1m0 13v1m0 25v1m0 33v1m0 11v1m0 46v1m0 2v1m0 14v1m0 1v1m0 15v1m1-352v1m0 33v1m0 20v1m0 58v1m0 7v1m0 8v1m0 14v1m0 2v1m0 19v2m0 24v1m0 12v1m0 5v1m0 27v1m0 4v1m0 2v1m0 3v1m0 6v1m0 52v1m0 26v1m1-240v1m0 18v1m0 36v1m0 4v1m0 4v1m0 36v1m0 1v1m0 8v1m0 44v1m0 62v1m0 16v1m1-313v1m0 22v1m0 6v1m0 44v1m0 25v1m0 51v1m0 17v1m0 4v1m0 13v1m0 14v1m0 5v1m0 20v1m0 29v2m0 13v2m0 48v1m1-358v1m0 66v1m0 46v1m0 23v1m0 6v1m0 17v1m0 91v1m0 10v1m0 39v1m0 3v1m0 26v1m0 15v1m0 4v1m1-362v1m0 39v1m0 39v1m0 2v2m0 4v1m0 1v1m0 1v1m0 16v1m0 23v1m0 2v1m0 98v1m0 12v1m0 7v1m0 35v1m0 33v1m0 32v1m1-371v1m0 4v1m0 14v1m0 6v1m0 26v1m0 10v1m0 17v1m0 16v1m0 18v1m0 18v1m0 20v1m0 2v1m0 18v1m0 40v1m0 16v1m0 6v1m0 61v1m0 35v1m0 1v1m1-336v1m0 5v1m0 31v1m0 8v1m0 3v1m0 5v1m0 4v1m0 27v1m0 26v1m0 5v1m0 19v1m0 35v2m0 1v1m0 7v1m0 8v1m0 2v1m0 11v1m0 16v1m0 19v1m0 2v1m0 7v1m0 16v1m0 54v1m0 11v1m0 18v1m1-372v1m0 2v1m0 7v1m0 67v1m0 14v1m0 2v1m0 19v1m0 12v1m0 129v1m0 14v1m0 6v1m0 4v1m0 54v1m0 31v1m1-365v1m0 26v1m0 88v1m0 6v1m0 41v1m0 6v1m0 10v1m0 23v1m0 25v1m0 5v2m0 32v1m0 30v1m0 22v2m0 11v1m0 18v2m1-378v1m0 25v1m0 49v1m0 7v1m0 15v1m0 133v1m0 9v1m0 13v1m0 67v1m0 27v1m0 3v1m0 18v1m1-357v1m0 5v1m0 8v1m0 14v1m0 9v1m0 19v1m0 34v1m0 2v1m0 38v1m0 3v1m0 1v1m0 23v1m0 19v1m0 6v1m0 3v1m0 20v1m0 19v1m0 31v1m0 27v1m0 5v1m0 1v2m0 15v1m0 22v1m0 9v2m1-372v1m0 6v1m0 24v1m0 43v1m0 13v1m0 44v1m0 2v1m0 3v1m0 30v2m0 1v1m0 10v1m0 1v1m0 10v1m0 21v1m0 27v1m0 22v1m0 1v1m0 19v1m0 20v1m0 14v1m0 6v1m0 4v1m1-280v1m0 10v1m0 30v1m0 71v1m0 57v1m0 1v1m0 97v2m0 33v1m1-340v1m0 5v1m0 2v1m0 15v1m0 35v1m0 53v1m0 1v1m0 23v2m0 6v1m0 20v1m0 65v1m0 53v1m0 16v1m1-307v1m0 12v1m0 11v2m0 115v1m0 16v1m0 78v1m0 2v1m0 24v1m0 10v1m0 11v1m0 4v1m0 18v1m0 9v1m0 1v1m1-359v1m0 5v1m0 109v1m0 33v1m0 28v1m0 23v1m0 10v1m0 3v1m0 2v1m0 35v1m0 33v1m0 5v1m0 6v1m0 3v1m0 55v1m1-334v1m0 21v1m0 3v1m0 28v1m0 17v1m0 7v1m0 49v1m0 4v1m0 13v1m0 63v1m0 62v1m0 9v1m0 2v1m0 32v1m0 3v1m0 1v1m1-352v1m0 7v1m0 20v1m0 14v1m0 24v1m0 46v1m0 2v1m0 128v1m0 24v1m0 38v1m0 8v2m0 10v2m0 29v1m1-330v1m0 88v1m0 21v1m0 8v1m0 14v1m0 34v1m0 19v2m0 17v1m1-252v1m0 16v1m0 11v1m0 33v1m0 40v1m0 4v1m0 23v1m0 19v1m0 25v1m0 6v1m0 25v1m0 14v1m0 12v1m0 6v1m0 7v1m0 22v2m0 6v1m1-246v1m0 16v1m0 21v1m0 19v1m0 1v2m0 6v2m0 22v1m0 1v1m0 13v1m0 27v2m0 17v2m0 69v1m0 15v1m0 35v1m0 6v1m0 38v1m0 1v1m1-323v1m0 15v2m0 3v1m0 6v1m0 20v1m0 17v1m0 7v1m0 33v1m0 19v1m0 11v1m0 11v1m0 15v1m0 30v1m0 21v1m0 3v1m0 2v1m0 45v1m0 3v1m0 19v1m0 27v1m1-343v1m0 4v1m0 27v1m0 31v1m0 16v1m0 8v1m0 40v1m0 19v1m0 92v1m0 9v1m0 11v1m0 8v1m0 28v1m0 21v1m1-345v2m0 39v1m0 10v1m0 20v1m0 31v1m0 54v1m0 12v2m0 1v1m0 16v1m0 50v1m0 21v1m0 45v1m0 3v1m0 1v1m0 10v1m0 6v1m0 2v1m0 7v1m0 5v1m1-326v1m0 2v2m0 35v1m0 22v1m0 4v1m0 17v1m0 9v1m0 19v1m0 8v1m0 38v1m0 10v1m0 55v1m0 18v1m0 18v1m0 9v1m0 12v1m0 2v1m0 21v1m0 4v1m0 2v1m1-349v1m0 9v1m0 44v1m0 2v1m0 39v1m0 4v1m0 2v1m0 13v2m0 31v1m0 6v1m0 18v1m0 14v1m0 7v1m0 20v1m0 17v1m0 14v1m0 6v2m0 20v1m0 7v1m0 33v1m1-332v1m0 42v1m0 10v1m0 24v1m0 25v1m0 2v1m0 1v1m0 3v1m0 78v1m0 18v1m0 70v1m0 32v1m0 11v1m1-318v1m0 13v1m0 20v1m0 7v1m0 16v1m0 45v1m0 32v1m0 24v1m0 2v1m0 22v1m0 53v1m0 12v1m0 28v1m0 12v1m0 28v1m0 11v1m1-347v1m0 39v1m0 5v1m0 16v1m0 24v1m0 65v1m0 4v1m0 20v1m0 12v1m0 7v1m0 15v1m0 18v1m0 1v1m0 84v1m0 4v1m0 10v1m0 10v1m0 1v1m1-371v1m0 20v1m0 11v1m0 8v1m0 45v1m0 9v1m0 2v1m0 9v1m0 4v1m0 33v1m0 35v1m0 11v1m0 45v1m0 50v1m0 5v1m0 3v1m1-273v1m0 85v1m0 19v1m0 41v1m0 27v1m0 10v1m0 2v1m0 4v1m0 18v1m0 73v1m0 6v1m1-336v1m0 14v1m0 24v1m0 15v1m0 32v1m0 16v1m0 37v1m0 4v1m0 13v1m0 2v1m0 23v1m0 64v2m0 16v1m1-273v1m0 9v1m0 8v1m0 5v1m0 7v1m0 41v1m0 13v1m0 19v1m0 17v1m0 4v1m0 21v1m0 3v1m0 11v1m0 11v1m0 7v1m0 43v1m0 19v1m0 11v1m0 36v1m0 22v1m0 3v1m0 5v1m0 27v1m0 9v1m1-381v1m0 13v1m0 35v1m0 2v1m0 1v1m0 20v1m0 28v1m0 128v1m0 48v1m0 15v1m0 12v1m0 6v1m0 12v1m0 50v1m1-310v1m0 14v1m0 28v1m0 19v1m0 51v1m0 24v1m0 23v1m0 96v1m0 16v1m0 6v1m0 16v1m1-332v1m0 23v1m0 4v1m0 1v1m0 27v1m0 5v1m0 51v1m0 30v1m0 33v2m0 7v3m0 54v1m0 2v1m0 65v1m0 8v1m0 1v1m1-348v1m0 84v1m0 25v1m0 16v1m0 94v1m0 36v1m0 33v1m0 26v1m0 14v1m1-332v1m0 42v1m0 24v1m0 21v1m0 47v1m0 8v1m0 15v1m0 89v1m0 21v1m0 44v1m0 15v1m1-347v1m0 40v1m0 20v1m0 4v1m0 4v1m0 46v1m0 23v1m0 49v1m0 7v1m0 17v1m0 8v1m0 27v1m0 20v1m1-277v1m0 18v1m0 25v1m0 34v1m0 35v1m0 38v1m0 19v1m0 19v1m0 2v1m0 29v1m0 65v1m0 35v1m0 10v1m0 8v1m1-358v2m0 4v1m0 27v1m0 21v1m0 17v1m0 20v1m0 41v1m0 12v1m0 8v1m0 2v1m0 61v1m0 1v1m0 2v1m0 9v1m0 36v2m0 4v1m0 23v1m0 19v1m0 6v1m0 4v2m1-336v1m0 12v1m0 31v1m0 7v1m0 20v1m0 48v1m0 80v1m0 12v1m0 91v1m0 1v1m0 43v1m0 1v1m2-362v1m0 2v1m0 36v1m0 10v1m0 61v1m0 8v1m0 6v1m0 15v1m0 23v1m0 10v1m0 13v1m0 62v1m0 3v1m0 10v1m0 9v1m0 79v1m0 4v1m2-360v1m0 7v1m0 20v1m0 3v1m0 10v1m0 32v1m0 12v1m0 19v1m0 54v1m0 36v1m0 8v1m0 4v1m0 3v1m0 44v1m0 29v1m0 47v1m2-342v1m0 2v1m0 15v1m0 7v1m0 68v1m0 3v1m0 67v1m0 13v1m0 19v1m0 56v1m0 49v1m0 6v1m0 11v1m0 12v1m2-356v1m0 15v1m0 17v1m0 60v1m0 19v1m0 38v1m0 47v1m0 21v1m0 3v1m0 13v1m0 2v1m0 13v1m0 18v1m0 3v1m0 46v1m0 14v1m0 23v1m2-358v1m0 47v1m0 1v1m0 24v1m0 13v1m0 9v1m0 13v1m0 26v1m0 12v1m0 6v2m0 17v1m0 45v1m0 16v1m0 4v1m0 49v1m0 9v1m0 2v1m0 10v1m0 20v1m0 2v1m0 9v1m2-326v1m0 1v1m0 42v1m0 81v1m0 2v1m0 2v1m0 2v1m0 44v2m0 24v1m0 12v1m0 5v1m0 11v1m0 37v1m0 39v1m2-351v1m0 20v1m0 3v1m0 19v1m0 7v1m0 19v1m0 15v1m0 23v1m0 3v1m0 10v1m0 17v1m0 8v1m0 2v1m0 32v1m0 28v1m0 38v1m0 1v1m0 9v2m0 8v1m0 70v1m0 9v1m5-330v1m0 32v2m0 2v1m0 30v1m0 39v1m0 4v1m0 2v1m0 13v1m0 24v1m0 73v1m0 4v1m0 67v1m5-342v1m0 26v1m0 62v1m0 15v1m0 4v1m0 26v1m0 8v1m0 55v1m0 27v1m0 72v1m0 9v1m0 7v2m0 32v1m0 6v1m0 5v1m5-366v1m0 12v1m0 62v1m0 11v2m0 31v1m0 2v1m0 26v2m0 54v1m0 13v1m0 22v1m0 20v1m0 30v1m0 23v1m0 25v1m5-348v1m0 19v1m0 9v1m0 77v1m0 45v1m0 92v1m0 9v1m0 17v1m0 47v1m0 38v1m0 4v1m5-333v1m0 19v1m0 10v1m0 3v1m0 2v1m0 4v1m0 44v1m0 24v1m0 93v1m0 32v1m0 38v1m0 52v1m5-307v1m0 51v1m0 7v2m0 50v1m0 52v1m0 1v1m0 13v1m0 31v1m0 2v1m0 46v1"/>
<path stroke="#482173" d="M5.5 33v1m0 2v1m0 11v1m0 31v1m0 34v1m0 12v1m0 57v1m0 9v1m0 7v2m0 8v1m0 4v1m0 3v1m0 66v1m0 6v1m0 2v1m0 8v1m0 19v1m0 5v1m0 11v1m1-310v1m0 9v1m0 5v1m0 33v1m0 4v1m0 20v1m0 23v1m0 4v1m0 2v1m0 70v1m0 7v1m0 16v1m0 1v1m0 26v1m0 12v1m0 6v1m0 15v1m0 40v2m0 3v1m0 27v1m0 7v1m1-356v1m0 3v1m0 27v1m0 36v1m0 12v1m0 28v1m0 7v1m0 16v1m0 1v1m0 11v1m0 15v1m0 27v1m0 14v1m0 25v1m0 5v1m0 11v1m0 5v1m0 9v1m0 28v1m0 4v1m0 16v1m0 2v1m0 19v1m1-331v1m0 29v1m0 1v1m0 11v1m0 1v1m0 16v1m0 47v1m0 27v1m0 20v1m0 33v1m0 4v1m0 19v2m0 17v1m0 30v1m0 8v1m0 33v1m1-276v1m0 21v1m0 9v1m0 18v1m0 29v1m0 13v1m0 7v1m0 19v1m0 5v1m0 3v2m0 20v1m0 1v2m0 6v1m0 11v1m0 38v1m0 39v1m0 43v1m0 1v1m1-326v1m0 17v1m0 43v1m0 4v2m0 16v1m0 7v3m0 3v1m0 25v1m0 15v1m0 26v1m0 17v1m0 80v1m0 69v1m1-365v1m0 10v1m0 3v1m0 21v1m0 4v1m0 59v1m0 7v1m0 1v1m0 17v1m0 8v1m0 29v1m0 19v1m0 4v1m0 21v1m0 32v1m0 23v1m0 29v1m0 1v1m0 29v1m0 20v1m0 1v1m1-363v1m0 3v2m0 31v1m0 17v1m0 6v1m0 26v2m0 2v1m0 106v1m0 2v1m0 20v1m0 17v2m0 11v1m0 15v2m0 38v1m0 43v1m1-355v1m0 38v1m0 20v1m0 11v1m0 2v1m0 27v1m0 11v1m0 2v1m0 11v1m0 17v1m0 9v1m0 18v1m0 31v1m0 8v1m0 23v1m0 12v1m0 13v1m0 8v1m0 33v1m0 3v1m1-315v1m0 36v1m0 9v1m0 11v1m0 57v1m0 12v1m0 16v1m0 8v1m0 3v1m0 30v1m0 2v1m0 5v1m0 36v1m0 6v2m0 3v1m0 36v1m0 22v1m0 9v1m1-324v1m0 14v1m0 33v1m0 8v2m0 20v1m0 39v1m0 11v1m0 8v1m0 21v1m0 61v1m0 31v1m0 71v1m0 27v1m0 14v1m1-344v1m0 21v1m0 12v1m0 22v1m0 10v1m0 8v1m0 150v1m0 27v1m0 23v1m0 26v1m0 35v1m1-371v1m0 6v1m0 3v1m0 12v1m0 3v1m0 36v1m0 3v1m0 73v1m0 3v1m0 7v1m0 35v1m0 5v1m0 13v1m0 7v1m0 11v1m0 34v1m0 60v1m0 13v1m0 14v1m1-321v1m0 10v1m0 8v2m0 7v1m0 26v1m0 6v1m0 4v1m0 43v1m0 7v1m0 17v1m0 1v1m0 25v1m0 15v1m0 9v1m0 14v1m0 4v1m0 4v1m0 24v1m0 10v1m0 27v1m0 15v1m0 4v1m0 8v1m1-325v1m0 15v1m0 4v1m0 42v1m0 43v1m0 50v1m0 2v2m0 26v1m0 121v1m0 15v1m0 11v1m1-351v1m0 13v1m0 30v1m0 19v1m0 1v2m0 37v1m0 5v1m0 55v1m0 10v1m0 15v1m0 99v1m0 7v1m0 52v1m1-379v1m0 12v1m0 14v1m0 5v1m0 19v1m0 25v1m0 53v1m0 18v1m0 7v1m0 47v1m0 4v1m0 6v1m0 19v2m0 6v1m0 1v1m0 38v1m0 19v1m0 20v1m0 5v1m0 42v1m1-370v1m0 13v1m0 8v2m0 98v1m0 7v2m0 13v1m0 8v1m0 26v1m0 23v1m0 16v1m0 75v1m0 38v1m0 7v1m0 7v1m1-274v1m0 15v1m0 18v1m0 6v1m0 32v1m0 28v1m0 108v1m0 9v1m0 30v1m0 24v1m1-356v1m0 3v1m0 5v1m0 5v1m0 26v2m0 9v1m0 14v1m0 25v1m0 4v1m0 23v1m0 2v1m0 8v1m0 12v1m0 33v1m0 60v1m0 26v1m0 24v1m0 4v1m0 6v1m0 8v1m0 8v1m0 19v1m1-323v1m0 11v1m0 39v1m0 8v1m0 12v1m0 13v1m0 53v1m0 15v1m0 22v1m0 9v1m0 77v1m0 39v1m1-341v1m0 30v1m0 15v1m0 24v1m0 45v1m0 4v1m0 156v1m0 69v1m0 14v1m1-369v1m0 9v1m0 14v1m0 23v1m0 2v1m0 28v1m0 17v2m0 15v1m0 14v1m0 75v1m0 24v1m0 66v2m0 27v1m0 7v1m0 8v1m1-347v1m0 6v1m0 9v1m0 6v1m0 31v1m0 7v1m0 62v1m0 6v1m0 21v1m0 38v1m0 1v1m0 13v1m0 28v1m0 11v1m0 12v1m0 11v1m0 52v1m0 9v1m0 6v2m0 4v1m0 11v1m0 9v1m1-365v1m0 60v1m0 13v1m0 8v1m0 51v1m0 14v1m0 17v1m0 7v1m0 32v2m0 4v1m0 15v1m0 13v1m0 66v1m0 11v1m0 9v1m0 7v1m0 4v1m0 6v1m0 8v1m1-377v1m0 2v1m0 3v1m0 32v1m0 20v1m0 3v1m0 19v1m0 19v1m0 6v1m0 81v1m0 15v1m0 8v1m0 36v1m0 5v1m0 20v1m0 6v1m0 64v1m1-332v1m0 26v1m0 10v1m0 8v1m0 11v1m0 2v1m0 2v1m0 5v1m0 25v1m0 15v1m0 47v1m0 4v1m0 21v1m0 19v1m0 16v1m0 4v1m0 14v1m0 36v1m0 54v1m0 3v1m1-359v1m0 25v1m0 23v1m0 5v1m0 7v1m0 31v1m0 18v1m0 34v1m0 61v1m1-184v1m0 15v2m0 2v1m0 6v1m0 15v1m0 32v1m0 9v1m0 52v2m0 4v1m0 30v1m0 1v1m0 19v1m0 13v1m0 8v1m0 18v1m0 15v2m0 45v1m0 7v1m0 18v1m1-363v1m0 8v1m0 55v1m0 3v1m0 55v1m0 2v1m0 6v1m0 8v1m0 127v1m0 1v1m0 19v1m0 11v1m0 9v1m0 15v1m0 10v1m1-344v1m0 30v1m0 49v1m0 11v1m0 85v2m0 63v1m0 13v1m0 39v1m0 13v1m0 5v1m0 11v1m1-309v1m0 94v1m0 24v1m0 17v1m0 31v1m0 9v1m0 3v1m0 9v1m0 25v1m0 36v1m0 11v1m0 16v1m0 3v1m0 2v1m0 11v2m0 7v2m0 10v2m0 6v1m1-364v1m0 11v1m0 12v1m0 12v1m0 3v1m0 7v1m0 17v1m0 19v1m0 10v1m0 18v1m0 4v1m0 1v1m0 23v1m0 23v1m0 22v1m0 31v1m0 15v1m0 38v1m0 27v1m0 5v1m0 4v1m0 2v1m0 5v1m0 9v1m0 9v1m0 14v1m1-362v1m0 15v1m0 56v1m0 4v1m0 22v1m0 17v1m0 15v1m0 5v1m0 46v1m0 45v1m0 16v1m0 2v1m0 29v1m0 14v1m0 22v1m0 13v1m1-264v1m0 12v1m0 40v1m0 3v1m0 56v1m0 13v1m0 2v1m0 76v1m0 1v1m0 9v1m0 5v1m0 22v1m0 11v1m0 9v1m0 3v1m0 24v1m1-365v1m0 8v1m0 5v1m0 1v1m0 6v1m0 28v1m0 24v1m0 16v2m0 17v1m0 111v1m0 28v1m0 4v1m0 12v1m0 31v1m0 24v1m1-337v1m0 16v1m0 9v1m0 33v1m0 21v1m0 13v1m0 13v2m0 16v1m0 7v1m0 2v1m0 45v1m0 6v1m0 56v1m0 9v1m0 14v1m0 24v1m0 37v1m0 25v1m1-372v1m0 119v1m0 7v2m0 66v1m0 41v1m0 5v1m0 31v1m0 60v1m0 27v1m1-354v1m0 21v1m0 44v1m0 34v1m0 37v1m0 53v1m0 41v1m0 42v1m0 16v1m0 3v1m0 48v1m1-322v2m0 30v1m0 16v1m0 65v1m0 3v1m0 9v1m0 11v1m0 29v1m0 77v1m0 11v1m0 10v1m0 30v1m0 4v1m0 21v1m1-342v1m0 4v1m0 15v1m0 1v1m0 26v1m0 5v1m0 103v1m0 24v1m0 22v1m0 2v1m0 69v1m0 40v1m0 25v1m1-346v1m0 45v1m0 2v1m0 16v1m0 18v1m0 5v1m0 23v1m0 27v1m0 38v1m0 58v1m0 38v1m0 31v1m0 12v1m1-306v1m0 46v1m0 11v1m0 1v1m0 24v1m0 6v2m0 21v1m0 84v2m0 14v1m0 27v1m0 11v1m0 3v1m0 18v1m0 41v1m1-347v1m0 117v1m0 66v1m0 2v1m0 8v1m0 11v1m0 10v2m0 5v1m0 13v1m0 1v1m0 20v1m1-285v1m0 17v1m0 9v1m0 15v1m0 2v1m0 6v1m0 1v1m0 15v2m0 11v1m0 21v1m0 1v1m0 75v1m0 5v1m0 6v1m0 7v1m0 5v1m0 16v1m0 4v1m0 3v1m0 8v1m0 4v1m0 7v1m0 24v1m0 9v1m0 24v1m0 18v1m0 12v1m0 4v1m0 6v1m1-325v1m0 6v1m0 4v1m0 17v1m0 13v1m0 9v1m0 39v2m0 18v1m0 11v1m0 15v1m0 13v1m0 6v1m0 1v1m0 10v1m0 15v1m0 1v1m0 2v1m0 7v1m0 59v1m0 64v1m1-344v1m0 2v1m0 8v1m0 10v1m0 5v1m0 39v1m0 29v1m0 1v1m0 17v1m0 8v1m0 1v1m0 20v1m0 1v1m0 27v1m0 41v1m0 31v1m0 32v1m0 29v1m0 13v1m1-353v1m0 75v1m0 12v1m0 19v1m0 36v1m0 31v1m0 16v1m0 56v1m0 94v1m1-367v1m0 6v1m0 8v1m0 13v1m0 21v1m0 4v1m0 27v2m0 17v1m0 34v1m0 8v1m0 5v1m0 20v1m0 67v1m0 61v1m0 64v1m1-330v1m0 6v2m0 27v1m0 35v1m0 7v2m0 5v1m0 40v1m0 85v1m0 16v1m0 9v1m0 26v1m0 16v1m0 3v1m0 8v1m1-318v1m0 30v1m0 23v1m0 5v1m0 5v1m0 48v1m0 9v1m0 6v1m0 2v1m0 20v1m0 13v1m0 10v1m0 7v1m0 7v1m0 54v1m0 17v1m0 11v1m0 9v1m0 2v1m0 5v1m0 11v1m0 10v1m0 2v1m0 11v1m0 3v1m1-303v1m0 8v1m0 11v1m0 9v1m0 35v1m0 13v1m0 2v1m0 1v1m0 1v1m0 8v1m0 16v1m0 3v1m0 10v1m0 24v1m0 17v1m0 45v1m0 42v1m0 32v1m0 6v1m0 4v1m0 10v1m1-379v1m0 33v1m0 47v2m0 18v1m0 94v1m0 2v1m0 7v1m0 48v1m0 19v1m0 5v1m0 49v1m0 41v1m1-372v1m0 11v1m0 47v1m0 33v1m0 7v1m0 28v1m0 12v1m0 20v1m0 6v1m0 19v1m0 25v1m0 23v1m0 8v1m0 27v1m0 26v1m0 24v1m0 22v1m0 13v1m1-348v1m0 68v1m0 9v1m0 5v1m0 1v1m0 55v1m0 52v1m0 35v1m0 63v1m0 54v1m1-352v1m0 12v1m0 22v1m0 21v1m0 3v1m0 87v1m0 38v1m0 51v1m0 8v1m0 21v1m0 18v1m1-259v1m0 14v1m0 4v1m0 13v1m0 131v1m0 1v1m0 12v1m0 26v1m0 1v1m0 28v1m0 13v1m0 48v1m0 15v1m1-373v1m0 18v1m0 14v1m0 92v1m0 12v1m0 14v1m0 6v1m0 6v1m0 1v1m0 66v1m0 27v1m0 7v1m0 5v1m0 24v1m0 25v1m0 12v1m0 14v1m1-330v1m0 12v1m0 16v1m0 31v1m0 149v1m0 18v1m0 20v1m0 2v1m0 20v1m0 30v1m0 10v1m0 18v1m0 8v1m1-355v1m0 32v1m0 32v1m0 70v1m0 5v1m0 25v1m0 10v1m0 7v1m0 7v1m0 20v1m0 43v1m0 28v1m0 22v1m0 29v1m1-346v1m0 10v1m0 1v1m0 3v1m0 7v1m0 1v1m0 12v1m0 70v1m0 10v1m0 18v1m0 23v1m0 30v1m0 2v3m0 10v1m0 18v1m0 67v1m0 1v1m0 29v1m0 15v1m1-359v1m0 13v1m0 29v1m0 12v1m0 58v2m0 67v1m0 1v1m0 45v2m0 13v1m0 62v1m0 21v1m0 16v1m1-349v2m0 42v1m0 6v1m0 18v1m0 7v1m0 23v1m0 13v1m0 77v1m0 18v1m0 25v1m0 31v1m0 26v1m0 15v1m0 6v1m0 3v1m0 34v1m1-357v1m0 22v1m0 6v1m0 15v2m0 27v1m0 14v1m0 17v1m0 35v1m0 23v1m0 18v1m0 42v1m0 7v1m0 33v1m0 5v1m1-300v1m0 60v2m0 4v1m0 43v1m0 10v1m0 38v2m0 4v1m0 6v1m0 43v2m0 1v1m0 4v1m0 17v1m0 44v1m0 4v1m0 18v1m0 68v1m1-294v1m0 37v1m0 43v1m0 10v1m0 9v1m0 39v1m0 19v1m0 27v1m0 21v1m0 8v1m0 21v1m0 25v1m0 8v1m1-357v1m0 50v1m0 9v1m0 34v1m0 79v1m0 21v1m0 72v1m0 19v1m0 25v1m0 12v1m1-341v1m0 21v1m0 102v1m0 5v1m0 6v1m0 6v1m0 33v1m0 29v1m0 11v1m0 66v1m0 21v1m0 4v1m0 35v1m0 16v1m0 8v1m1-354v1m0 10v1m0 8v1m0 18v1m0 53v1m0 49v1m0 4v1m0 8v1m0 7v1m0 40v1m0 56v2m0 5v1m0 7v1m0 6v1m0 9v1m0 8v1m0 10v1m0 11v1m0 25v1m1-370v1m0 15v1m0 3v1m0 1v1m0 12v1m0 3v1m0 10v1m0 28v1m0 19v1m0 12v1m0 31v1m0 10v1m0 7v1m0 4v1m0 4v1m0 3v1m0 70v1m0 11v1m0 27v1m0 7v1m0 41v1m0 1v1m0 13v2m0 15v1m1-363v1m0 3v1m0 46v1m0 3v1m0 39v1m0 77v1m0 64v1m0 10v1m0 9v1m0 12v1m0 74v1m1-347v1m0 13v1m0 27v1m0 21v1m0 13v1m0 9v1m0 9v1m0 20v1m0 28v1m0 17v1m0 23v1m0 51v1m0 6v1m0 24v1m1-272v1m0 17v1m0 17v1m0 3v1m0 8v1m0 5v1m0 5v1m0 11v1m0 29v1m0 13v1m0 17v1m0 3v1m0 13v1m0 24v1m0 29v1m0 27v1m0 12v1m0 21v2m0 40v1m0 28v1m0 16v1m1-369v1m0 13v1m0 19v3m0 38v1m0 99v1m0 11v1m0 62v1m0 6v1m0 1v1m0 48v1m0 41v2m1-354v1m0 10v1m0 38v1m0 8v1m0 26v1m0 69v1m0 20v1m0 13v1m0 40v1m0 53v1m0 24v1m0 18v1m0 15v1m0 8v1m0 3v1m0 7v1m1-374v1m0 1v1m0 73v1m0 34v1m0 18v1m0 13v1m0 7v1m0 51v1m0 33v1m0 5v1m0 19v1m0 83v1m0 6v1m1-309v1m0 52v1m0 16v1m0 76v1m0 11v1m0 65v1m0 6v2m0 1v1m0 8v1m0 3v1m0 7v1m0 15v1m0 10v1m0 3v1m0 20v1m0 17v1m1-373v1m0 42v1m0 3v1m0 9v1m0 61v1m0 23v1m0 19v1m0 12v1m0 5v1m0 6v1m0 11v1m0 103v1m0 33v1m1-334v1m0 2v1m0 3v1m0 166v1m0 22v1m0 53v1m0 23v1m0 65v1m1-186v1m0 11v1m0 10v1m0 89v1m0 49v1m1-322v1m0 10v1m0 4v1m0 1v1m0 83v1m0 5v1m0 29v1m0 8v1m0 84v1m0 6v1m0 32v1m0 6v1m0 14v1m0 1v1m0 1v1m0 14v1m1-293v1m0 1v1m0 5v1m0 2v1m0 36v1m0 19v1m0 21v1m0 33v1m0 40v1m0 64v1m0 1v1m0 9v1m0 72v1m0 1v1m0 24v1m1-363v1m0 9v1m0 7v1m0 6v1m0 19v1m0 4v1m0 8v1m0 4v1m0 12v1m0 20v1m0 2v1m0 76v1m0 18v1m0 16v1m0 13v1m0 7v1m0 9v2m0 8v1m0 51v1m0 6v1m0 41v2m1-366v1m0 1v1m0 15v1m0 1v1m0 5v1m0 22v1m0 25v1m0 3v1m0 15v1m0 32v1m0 19v1m0 44v2m0 3v1m0 4v1m0 4v1m0 1v1m0 2v1m0 12v1m0 2v1m0 18v1m0 21v1m0 6v1m0 18v1m0 37v1m0 29v1m0 4v1m1-348v1m0 3v1m0 7v1m0 89v1m0 10v1m0 10v1m0 32v1m0 42v1m0 18v1m0 53v1m0 8v1m0 1v1m0 12v1m0 45v1m0 3v1m1-338v1m0 2v1m0 96v1m0 52v1m0 25v1m0 2v1m0 33v1m0 25v1m0 62v2m0 19v1m1-336v1m0 86v1m0 22v1m0 6v1m0 2v1m0 11v1m0 4v1m0 26v1m0 25v1m0 37v1m0 26v1m0 4v1m0 31v1m0 28v3m0 14v1m0 12v1m1-353v1m0 2v1m0 30v1m0 18v1m0 13v1m0 6v1m0 8v1m0 57v1m0 111v1m0 25v1m0 5v1m0 20v1m0 12v1m0 17v1m0 1v1m0 15v1m1-358v1m0 20v1m0 37v1m0 14v1m0 24v1m0 21v2m0 2v1m0 17v1m0 16v1m0 4v1m0 11v1m0 5v1m0 17v1m0 4v1m0 24v1m0 4v1m0 15v1m0 21v1m0 19v1m0 2v1m0 10v1m0 2v1m0 13v1m1-302v1m0 3v1m0 6v1m0 3v1m0 9v1m0 20v1m0 31v2m0 33v1m0 3v1m0 1v1m0 24v1m0 57v1m0 45v1m0 8v1m0 68v1m1-350v1m0 2v2m0 59v1m0 53v1m0 12v1m0 6v1m0 17v1m0 21v1m0 4v1m0 22v1m0 5v1m0 16v1m0 23v1m0 3v1m0 3v1m0 9v1m0 30v1m0 2v1m1-319v1m0 19v1m0 59v1m0 6v1m0 3v1m0 2v1m0 38v1m0 34v1m0 11v1m0 25v1m0 21v1m0 4v1m0 4v1m0 53v1m0 27v1m0 35v1m1-322v1m0 2v1m0 8v1m0 16v1m0 68v1m0 42v1m0 4v1m0 20v1m0 31v1m0 24v1m0 10v1m0 16v1m0 11v1m0 14v1m0 28v2m1-333v1m0 1v1m0 12v1m0 6v1m0 16v1m0 1v1m0 10v1m0 15v1m0 61v1m0 58v1m0 40v1m0 6v1m0 32v1m0 15v1m0 4v1m0 50v1m0 6v1m1-363v1m0 43v1m0 18v1m0 62v1m0 18v1m0 25v1m0 50v1m0 5v1m0 29v1m0 50v1m1-265v1m0 37v1m0 62v1m0 26v1m0 5v1m0 10v1m0 2v1m0 11v1m0 74v1m0 18v1m1-248v1m0 74v1m0 53v1m0 25v2m0 26v1m0 77v1m0 8v1m0 36v1m1-360v1m0 8v1m0 91v1m0 46v1m0 63v1m0 10v1m0 7v1m0 42v1m0 8v1m0 47v1m1-316v1m0 14v1m0 51v1m0 14v1m0 64v1m0 19v1m0 8v1m0 31v1m0 6v1m0 2v1m0 12v1m0 64v1m0 8v1m1-329v1m0 93v1m0 16v1m0 12v1m0 92v1m0 22v1m0 56v1m0 3v1m0 56v1m1-321v1m0 28v1m0 78v1m0 60v1m0 48v1m0 46v1m1-260v1m0 12v1m0 11v1m0 69v1m0 32v1m0 12v1m0 1v1m0 30v1m0 35v1m0 32v1m0 20v1m1-276v1m0 7v1m0 11v2m0 7v1m0 120v1m0 29v1m0 58v1m0 4v1m0 36v1m0 62v1m1-372v1m0 10v1m0 24v1m0 51v1m0 23v1m0 7v1m0 24v1m0 68v1m0 37v1m0 20v1m0 2v1m0 27v1m0 22v1m0 10v1m1-340v1m0 15v1m0 65v2m0 29v1m0 18v1m0 13v1m0 25v1m0 4v1m0 4v1m0 83v1m0 38v1m0 45v1m0 6v1m1-324v1m0 89v1m0 12v1m0 2v1m0 78v1m0 51v1m0 24v1m0 2v1m0 6v1m0 17v1m1-330v1m0 20v1m0 11v1m0 12v1m0 60v2m0 34v1m0 6v1m0 7v1m0 72v1m0 29v1m0 39v1m0 48v1m0 1v1m0 2v1m0 9v1m0 6v1m2-334v1m0 12v1m0 28v1m0 9v1m0 6v1m0 4v1m0 30v1m0 15v1m0 15v1m0 2v1m0 18v1m0 58v1m0 27v1m0 37v1m0 23v1m0 5v2m0 12v1m2-336v1m0 19v1m0 26v1m0 50v1m0 22v1m0 26v1m0 1v1m0 47v1m0 34v1m0 57v1m0 27v1m0 8v1m0 22v1m2-374v1m0 7v1m0 46v1m0 25v2m0 46v1m0 34v1m0 16v1m0 29v1m0 26v1m0 13v1m0 27v1m2-269v1m0 18v1m0 6v1m0 5v1m0 19v1m0 2v1m0 17v1m0 23v1m0 1v1m0 12v1m0 56v1m0 17v1m0 11v1m0 61v1m0 14v1m0 39v1m0 30v1m0 5v1m0 1v1m0 3v1m2-362v1m0 15v1m0 36v1m0 21v1m0 42v1m0 16v1m0 9v1m0 4v1m0 12v1m0 22v1m0 62v1m0 20v1m0 23v1m0 7v1m0 36v1m0 4v1m0 9v1m2-350v1m0 24v1m0 32v1m0 7v1m0 3v1m0 76v1m0 30v1m0 41v1m0 5v1m0 79v1m2-319v1m0 65v1m0 17v1m0 6v1m0 31v1m0 16v1m0 4v1m0 14v1m0 1v1m0 3v1m0 37v1m0 2v1m0 56v1m0 10v1m0 8v1m0 18v1m0 9v1m0 7v2m0 17v1m0 19v1m5-327v1m0 11v2m0 10v1m0 25v1m0 20v1m0 6v1m0 52v1m0 11v1m0 40v1m0 7v1m0 23v1m0 9v1m0 6v1m0 12v2m0 50v1m0 1v1m0 38v1m5-332v1m0 5v1m0 9v1m0 2v1m0 8v1m0 6v1m0 42v1m0 7v1m0 4v1m0 14v1m0 6v1m0 22v1m0 32v1m0 8v1m0 12v1m0 11v1m0 29v1m0 81v1m0 2v1m5-348v1m0 19v1m0 71v1m0 33v1m0 44v1m0 47v2m0 62v1m0 75v1m5-357v1m0 10v1m0 7v1m0 37v1m0 58v1m0 14v1m0 13v1m0 36v1m0 24v1m0 139v1m0 3v1m5-330v1m0 151v1m0 52v2m0 5v1m0 17v1m0 59v1m0 23v1m5-334v1m0 24v1m0 6v1m0 33v1m0 22v1m0 30v1m0 28v1m0 103v1m0 6v1m0 22v1m0 2v1m0 1v1m0 20v1m0 29v1m0 9v1"/>
<path stroke="#482677" d="M5.5 45v1m0 5v1m0 8v1m0 26v1m0 15v1m0 76v1m0 203v1m1-339v1m0 17v1m0 9v1m0 78v1m0 49v1m0 20v1m0 8v1m0 2v1m0 12v1m0 2v1m0 6v1m0 25v1m0 43v1m0 3v1m0 38v1m0 9v1m1-341v1m0 12v1m0 15v1m0 7v1m0 1v1m0 2v1m0 6v1m0 9v1m0 2v1m0 42v1m0 1v1m0 40v1m0 39v1m0 14v1m0 7v1m0 9v1m0 22v1m0 19v1m0 45v1m0 17v1m0 22v1m0 7v1m1-373v1m0 34v1m0 33v1m0 3v3m0 26v1m0 25v1m0 3v1m0 44v1m0 28v1m0 20v1m0 22v1m0 51v1m0 12v1m0 17v1m0 31v1m0 5v1m1-229v1m0 48v1m0 40v1m0 3v1m0 16v1m0 12v1m0 26v1m0 7v1m1-201v2m0 25v1m0 17v1m0 4v1m0 8v1m0 10v1m0 6v1m0 82v1m0 23v1m0 34v1m0 12v1m0 11v1m0 6v1m0 1v1m0 17v1m0 2v1m1-381v1m0 1v1m0 5v1m0 10v1m0 9v1m0 25v1m0 9v1m0 19v1m0 14v1m0 3v1m0 24v1m0 17v1m0 8v1m0 20v1m0 40v2m0 14v1m0 30v1m0 75v1m0 10v1m1-342v1m0 13v1m0 33v1m0 19v1m0 16v1m0 4v1m0 1v1m0 42v1m0 1v1m0 29v1m0 8v1m0 7v1m0 53v1m0 15v1m0 46v1m0 10v1m0 50v1m0 1v1m1-369v1m0 43v1m0 6v1m0 15v1m0 14v1m0 15v1m0 55v1m0 15v1m0 11v1m0 3v1m0 35v1m0 36v1m0 42v1m0 52v1m0 15v1m1-361v1m0 9v1m0 26v1m0 48v1m0 6v1m0 40v1m0 31v1m0 4v1m0 18v1m0 44v1m0 8v1m0 2v1m0 8v1m0 3v1m0 40v1m0 4v1m0 23v1m0 23v1m1-343v1m0 35v1m0 35v1m0 7v1m0 16v1m0 20v1m0 2v1m0 44v1m0 40v1m0 16v2m0 1v1m0 27v1m0 4v1m0 20v1m0 5v1m0 8v1m0 9v1m0 41v1m1-368v1m0 2v1m0 34v1m0 59v1m0 6v2m0 19v1m0 96v1m0 38v1m0 52v1m0 19v1m0 30v1m1-355v1m0 22v1m0 8v1m0 12v1m0 61v1m0 13v1m0 5v1m0 15v1m0 7v1m0 16v1m0 3v1m0 6v1m0 40v1m0 38v1m0 16v1m0 36v1m0 37v2m1-354v1m0 25v1m0 27v1m0 50v1m0 8v1m0 41v1m0 2v1m0 9v1m1-176v1m0 11v1m0 24v1m0 4v1m0 21v2m0 26v1m0 6v1m0 4v1m0 45v1m0 88v1m0 16v2m0 16v1m0 8v1m0 31v1m0 10v1m0 15v1m1-323v1m0 43v1m0 11v1m0 22v1m0 10v1m0 2v1m0 20v1m0 14v1m0 23v1m0 126v1m0 4v1m0 7v1m1-332v1m0 56v1m0 7v1m0 5v1m0 45v1m0 6v1m0 16v1m0 11v1m0 51v1m0 47v1m0 25v1m0 90v1m0 6v1m1-375v1m0 37v1m0 9v1m0 15v1m0 63v1m0 20v1m0 112v1m0 4v1m0 34v1m0 6v1m1-257v1m0 28v1m0 63v3m0 38v1m0 47v1m0 13v1m0 4v1m0 3v1m0 58v1m1-316v1m0 14v1m0 17v1m0 46v1m0 1v1m0 1v1m0 46v1m0 3v1m0 51v1m0 25v1m0 1v1m0 11v2m0 51v1m0 34v1m0 32v1m0 1v1m1-351v1m0 35v1m0 4v1m0 75v1m0 12v1m0 5v1m0 1v1m0 11v1m0 28v1m0 1v1m0 17v1m0 54v1m0 4v1m0 1v1m0 13v1m0 17v1m0 25v1m0 2v1m1-254v1m0 37v1m0 88v1m1-156v1m0 9v1m0 27v1m0 23v1m0 20v1m0 8v1m0 11v1m0 21v1m0 63v1m0 87v1m0 10v1m1-309v1m0 57v1m0 1v1m0 6v1m0 56v1m0 14v1m0 49v1m0 8v1m0 110v1m0 23v1m0 13v1m1-349v1m0 15v1m0 26v2m0 26v1m0 4v1m0 3v1m0 5v1m0 3v1m0 6v1m0 61v1m0 9v1m0 32v1m0 23v1m0 26v1m0 32v1m0 4v1m0 1v1m0 11v1m0 19v1m1-351v1m0 32v1m0 17v1m0 81v1m0 1v1m0 27v1m0 7v1m0 41v1m0 1v1m0 14v1m0 24v1m0 1v1m0 26v1m0 40v1m1-327v1m0 7v1m0 7v1m0 51v1m0 74v1m0 23v1m0 12v2m0 24v1m0 31v1m0 23v1m0 7v1m0 18v1m0 12v1m0 7v1m0 41v1m0 6v1m0 17v1m1-373v1m0 58v1m0 7v1m0 44v1m0 2v1m0 48v1m0 36v1m0 12v1m0 22v1m0 19v1m0 24v1m0 26v1m1-262v1m0 4v1m0 49v1m0 62v1m0 71v1m0 27v1m0 2v1m0 26v1m0 6v1m0 29v1m1-329v1m0 8v1m0 12v1m0 42v1m0 96v1m0 19v1m0 4v1m0 20v1m0 1v1m0 30v1m0 7v1m0 11v1m0 6v1m0 18v1m0 34v1m0 14v1m0 17v1m1-363v1m0 40v1m0 14v1m0 2v1m0 66v1m0 33v1m0 17v1m0 52v1m0 28v1m0 11v1m0 6v1m0 11v1m0 4v1m0 15v1m0 8v1m0 33v1m0 9v1m1-369v1m0 20v1m0 6v1m0 59v1m0 24v1m0 8v2m0 31v1m0 25v1m0 14v2m0 5v1m0 13v1m0 27v1m0 10v1m0 16v2m0 2v2m0 1v1m0 16v1m0 30v1m0 42v1m1-367v1m0 15v1m0 4v1m0 18v1m0 46v1m0 12v1m0 5v1m0 2v1m0 17v1m0 26v1m0 20v1m0 32v1m0 26v1m0 30v1m0 5v1m0 10v1m0 34v1m0 2v1m0 6v1m0 8v1m1-334v1m0 10v1m0 24v1m0 61v1m0 42v1m0 41v1m0 12v1m0 4v1m0 5v1m0 4v2m0 10v1m0 56v1m0 41v1m1-330v1m0 7v1m0 34v1m0 2v1m0 18v1m0 19v1m0 11v1m0 14v1m0 78v1m0 13v1m0 44v1m0 69v1m0 8v1m0 37v1m1-335v1m0 26v1m0 16v1m0 13v1m0 25v1m0 18v1m0 15v1m0 1v1m0 15v1m0 50v1m0 43v1m0 18v1m0 5v1m0 6v1m0 3v1m0 8v1m0 29v1m0 3v1m0 9v1m0 14v1m1-344v2m0 34v1m0 49v1m0 14v1m0 109v1m0 17v1m0 47v1m0 31v1m0 6v1m0 19v1m0 10v1m1-339v1m0 26v1m0 5v1m0 20v1m0 16v1m0 19v1m0 26v1m0 6v1m0 105v1m0 33v1m0 25v2m0 38v1m0 2v1m1-278v1m0 5v1m0 2v1m0 12v1m0 13v2m0 46v1m0 6v1m0 6v1m0 24v1m0 38v1m0 5v1m1-240v1m0 13v1m0 16v1m0 33v1m0 39v1m0 2v1m0 7v1m0 22v1m0 1v1m0 15v1m0 13v1m0 55v1m0 16v1m0 65v1m0 12v1m0 20v1m1-364v1m0 35v1m0 9v1m0 51v1m0 16v1m0 40v1m0 21v1m0 161v1m0 1v1m0 21v1m1-363v1m0 12v1m0 26v1m0 2v1m0 1v1m0 41v1m0 7v1m0 35v2m0 24v2m0 12v1m0 15v1m0 33v1m0 19v1m0 11v1m0 20v1m0 1v1m0 13v1m0 25v1m0 7v1m0 26v1m1-323v1m0 1v1m0 27v1m0 97v1m0 56v2m0 25v1m0 45v1m0 2v1m0 19v1m0 22v1m1-289v2m0 8v1m0 18v1m0 10v1m0 27v1m0 43v1m0 49v1m0 132v1m0 19v1m1-325v1m0 35v1m0 48v1m0 7v2m0 5v1m0 27v1m0 9v1m0 32v1m0 11v1m0 4v1m0 15v1m0 27v1m0 60v1m0 3v1m0 19v1m0 8v1m0 2v1m0 2v1m1-356v1m0 18v1m0 60v1m0 19v1m0 26v1m0 19v1m0 11v1m0 39v1m0 4v1m0 2v1m0 25v1m0 3v1m0 4v1m0 40v1m0 6v1m0 7v1m1-290v1m0 103v1m0 70v1m0 73v1m0 24v1m1-284v1m0 14v1m0 2v1m0 28v1m0 59v1m0 22v2m0 34v1m0 9v1m0 13v1m0 2v1m0 7v1m0 3v1m0 9v1m0 8v1m0 5v1m0 74v1m0 18v1m0 3v1m0 11v1m0 2v1m0 15v1m1-365v1m0 69v1m0 24v1m0 25v1m0 7v1m0 16v1m0 19v1m0 35v1m0 13v1m0 55v1m0 1v1m0 30v1m0 5v1m0 8v1m0 29v1m1-367v1m0 58v1m0 3v1m0 10v1m0 79v1m0 22v1m0 128v1m0 14v1m0 40v1m0 6v1m0 8v1m1-374v1m0 21v1m0 1v1m0 10v1m0 2v1m0 9v1m0 1v1m0 47v1m0 16v1m0 61v1m0 3v1m0 31v1m0 1v1m0 42v1m0 23v1m0 9v1m0 5v1m0 34v1m0 15v1m0 27v1m1-373v1m0 70v1m0 21v1m0 44v1m0 24v1m0 74v1m0 26v1m0 4v1m0 25v1m0 13v1m1-313v1m0 3v1m0 19v1m0 27v1m0 31v1m0 43v1m0 12v1m0 21v1m0 62v1m0 45v1m0 31v1m0 2v1m1-287v1m0 19v1m0 11v1m0 44v1m0 8v1m0 17v1m0 2v1m0 1v1m0 34v1m0 40v1m0 48v1m0 33v1m0 15v1m0 53v1m1-362v1m0 1v1m0 24v1m0 63v1m0 5v1m0 9v1m0 1v1m0 5v1m0 28v1m0 31v1m0 15v1m0 19v1m0 2v1m0 70v1m0 17v1m0 51v1m1-341v1m0 32v1m0 45v1m0 5v1m0 97v1m0 15v1m0 4v1m0 14v1m0 19v1m0 83v1m0 30v1m1-353v1m0 6v1m0 3v1m0 47v1m0 24v2m0 35v1m0 3v1m0 3v1m0 76v1m0 14v1m0 17v1m0 12v1m0 8v1m0 8v1m0 1v1m0 10v1m0 28v1m1-317v1m0 24v1m0 14v1m0 31v1m0 30v1m0 29v1m0 1v1m0 36v1m0 41v1m0 10v1m0 5v1m0 22v1m0 38v1m1-241v1m0 5v1m0 48v2m0 8v1m0 2v1m0 56v1m0 2v1m0 1v1m0 55v1m0 22v1m0 13v1m0 41v1m0 7v1m1-343v1m0 39v1m0 8v1m0 39v1m0 23v1m0 26v1m0 6v1m0 50v1m0 30v1m0 9v1m0 101v1m1-339v1m0 1v1m0 52v1m0 31v1m0 17v1m0 4v1m0 38v1m0 25v1m0 54v1m0 6v1m0 36v1m0 46v1m0 32v1m1-346v1m0 7v1m0 3v1m0 33v1m0 8v1m0 37v1m0 5v1m0 72v1m0 32v1m0 42v1m0 32v1m0 22v1m0 17v1m0 21v1m1-361v1m0 34v1m0 3v2m0 32v1m0 1v2m0 13v1m0 3v1m0 41v2m0 10v1m0 20v1m0 7v1m0 28v1m0 34v1m0 12v1m0 14v1m0 28v1m0 1v1m0 65v1m1-347v1m0 51v1m0 4v1m0 41v1m0 1v2m0 8v1m0 16v1m0 14v1m0 27v1m0 14v1m0 69v1m0 54v1m0 40v1m1-246v1m0 18v1m0 32v1m0 43v2m0 8v1m0 40v1m0 2v1m0 12v1m0 46v1m1-294v1m0 21v1m0 37v1m0 5v1m0 19v1m0 68v1m0 3v1m0 3v1m0 9v1m0 15v1m0 51v2m1-288v1m0 115v1m0 8v1m0 31v1m0 64v1m0 6v1m0 25v1m0 79v1m1-335v1m0 12v1m0 40v1m0 38v1m0 2v1m0 35v1m0 6v1m0 18v1m0 5v1m0 8v1m0 12v1m0 41v1m0 39v1m0 9v1m0 45v1m0 30v1m0 9v1m0 10v1m1-360v2m0 54v1m0 9v1m0 22v1m0 20v1m0 10v1m0 9v1m0 41v1m0 13v1m0 56v1m0 22v1m0 12v1m0 33v1m1-323v1m0 19v1m0 7v1m0 67v1m0 23v1m0 4v1m0 3v1m0 13v1m0 16v1m0 6v1m0 49v1m0 1v1m0 19v2m0 16v2m0 3v4m0 6v1m0 53v1m0 9v1m0 15v1m1-290v1m0 17v1m0 2v1m0 16v1m0 21v1m0 25v1m0 43v1m0 76v1m0 15v1m0 12v1m0 67v1m1-360v1m0 3v1m0 3v1m0 2v1m0 49v1m0 3v1m0 47v1m0 18v1m0 70v1m0 27v1m0 19v1m0 3v1m0 13v1m0 3v1m0 41v1m0 2v1m0 14v1m0 11v1m1-348v1m0 29v1m0 49v1m0 18v1m0 4v1m0 65v1m0 7v1m0 6v1m0 69v1m0 34v1m0 1v1m0 2v1m0 44v1m1-339v1m0 23v1m0 4v1m0 11v1m0 15v1m0 12v1m0 45v1m0 7v1m0 4v1m0 65v1m0 9v1m0 6v1m0 5v2m0 47v2m0 29v1m0 2v2m0 1v1m0 3v1m0 46v1m1-366v1m0 12v1m0 14v1m0 13v1m0 64v1m0 17v1m0 19v1m0 22v1m0 8v1m0 36v1m0 2v1m0 4v1m0 4v1m0 80v1m0 40v1m1-310v1m0 21v1m0 76v1m0 64v1m0 21v1m0 126v1m0 1v1m1-355v1m0 4v1m0 26v1m0 14v1m0 6v1m0 27v1m0 10v2m0 84v1m0 10v1m0 43v1m0 11v1m0 28v1m0 65v1m0 12v1m0 10v2m0 3v1m1-340v1m0 26v1m0 108v1m0 49v1m0 56v1m0 51v1m0 13v2m0 14v1m1-341v1m0 7v1m0 35v1m0 22v1m0 29v1m0 62v1m0 99v1m0 1v1m0 55v1m0 20v1m1-171v1m0 90v1m0 67v1m1-322v1m0 64v1m0 6v1m0 7v1m0 25v1m0 132v1m0 13v1m1-246v1m0 2v1m0 5v1m0 95v1m0 1v1m0 53v1m0 13v2m0 4v1m0 24v1m0 3v2m0 83v1m0 15v1m0 5v1m1-352v2m0 4v1m0 31v1m0 55v1m0 9v1m0 5v1m0 12v1m0 36v1m0 11v1m0 22v1m0 52v1m0 42v1m1-298v1m0 53v1m0 37v1m0 13v1m0 6v1m0 36v1m0 51v1m0 52v1m0 122v1m1-371v1m0 15v1m0 38v1m0 4v1m0 8v1m0 4v1m0 19v1m0 9v1m0 9v1m0 6v1m0 6v1m0 7v1m0 12v1m0 9v1m0 31v1m0 68v1m0 14v1m0 21v1m0 1v1m0 30v1m0 25v1m0 9v1m1-325v1m0 19v1m0 62v1m0 29v1m0 36v1m0 45v1m0 49v1m0 25v1m1-297v1m0 4v1m0 2v1m0 32v1m0 115v1m0 4v1m0 37v1m0 38v2m1-251v1m0 36v1m0 19v1m0 34v1m0 65v1m0 4v1m0 4v1m0 27v1m0 8v1m0 73v1m0 70v1m1-361v1m0 15v1m0 7v1m0 129v1m0 17v1m0 13v1m0 49v1m0 1v1m0 9v1m0 29v1m0 37v1m0 5v1m0 9v1m0 10v1m0 26v1m1-377v1m0 12v1m0 6v1m0 49v1m0 18v1m0 12v1m0 23v1m0 39v1m0 25v1m0 18v1m0 53v1m0 60v1m0 36v1m0 17v2m1-357v1m0 5v1m0 37v1m0 14v1m0 2v1m0 3v1m0 6v1m0 67v1m0 5v1m0 2v1m0 69v1m0 25v1m0 10v1m0 7v1m0 7v1m0 65v1m0 10v1m1-370v1m0 48v1m0 101v1m0 36v1m0 69v1m0 5v1m0 57v1m0 47v1m1-359v1m0 50v1m0 9v1m0 12v1m0 34v1m0 24v1m0 6v1m0 51v1m0 38v1m0 33v1m0 28v1m0 14v1m0 20v1m1-285v1m0 71v1m0 73v1m0 35v1m0 112v1m1-271v1m0 15v1m0 96v1m0 3v1m0 46v1m0 90v1m0 23v1m1-352v1m0 39v3m0 8v1m0 65v1m0 116v1m0 2v1m0 67v1m1-208v1m0 9v1m0 2v1m0 36v1m0 8v1m0 2v1m0 1v1m0 27v1m0 6v1m0 8v1m0 9v1m1-210v1m0 18v1m0 29v1m0 79v2m0 2v1m0 88v1m0 14v1m0 67v1m0 6v1m0 1v1m1-320v1m0 11v1m0 18v1m0 51v1m0 17v1m0 44v1m0 34v1m0 54v1m0 8v1m0 82v1m0 22v1m1-364v1m0 112v1m1-111v1m0 251v1m0 63v1m0 15v1m1-310v1m0 12v1m0 186v1m0 1v2m0 5v1m0 57v1m0 12v1m0 24v1m0 16v1m0 17v1m0 5v1m1-353v1m0 10v1m0 25v1m0 32v1m0 54v1m0 86v1m0 77v1m0 57v2m1-261v1m0 52v1m0 25v1m0 6v1m0 17v1m0 42v1m0 100v1m0 15v1m1-378v1m0 22v1m0 1v1m0 19v1m0 21v1m0 53v1m0 37v1m0 88v1m0 59v1m0 68v1m1-369v1m0 20v1m0 65v1m0 24v1m0 49v1m0 64v1m0 79v1m1-307v1m0 53v1m0 42v1m0 21v1m0 9v1m0 38v1m0 20v1m0 11v1m0 34v1m0 44v1m0 48v1m0 9v1m2-330v2m0 11v1m0 95v1m0 3v1m0 8v1m0 34v1m0 7v1m0 8v1m0 8v1m0 21v1m0 24v1m0 23v1m0 18v1m0 1v1m0 61v1m2-279v1m0 73v1m0 40v1m0 28v1m0 1v1m0 142v1m2-352v1m0 34v1m0 84v1m0 10v1m0 44v1m0 36v1m0 9v1m0 30v1m0 22v1m0 13v1m0 19v1m0 22v1m0 2v1m2-346v1m0 10v1m0 9v1m0 2v1m0 8v1m0 27v1m0 9v1m0 36v1m0 86v1m0 73v1m0 4v1m2-272v1m0 81v1m0 87v1m0 43v1m0 8v1m0 32v1m0 7v1m0 51v1m0 16v1m2-298v1m0 27v1m0 1v1m0 10v1m0 80v1m0 48v1m0 55v1m0 75v1m0 10v1m2-356v1m0 3v1m0 10v1m0 33v1m0 22v1m0 24v1m0 75v1m0 14v1m0 57v1m0 17v1m0 8v1m0 8v1m0 1v1m0 35v1m0 26v1m5-342v1m0 188v1m0 117v1m0 10v1m0 12v1m5-310v1m0 7v1m0 17v1m0 31v1m0 17v1m0 7v1m0 5v1m0 27v1m0 51v1m0 12v1m0 26v1m0 89v1m0 2v1m0 28v1m5-338v1m0 2v1m0 5v1m0 141v1m0 4v1m0 38v1m0 92v1m5-278v1m0 39v1m0 14v1m0 23v1m0 176v1m0 23v1m0 51v1m5-328v1m0 227v1m0 86v1m0 4v1m0 7v1m5-371v1m0 41v1m0 52v1m0 18v1m0 55v1m0 4v1m0 33v1m0 87v1m0 26v1m0 20v1"/>
<path stroke="#472d7b" d="M5.5 65v1m0 45v1m0 29v1m0 18v1m0 2v1m0 38v1m0 21v1m0 31v1m0 32v1m0 25v1m1-264v1m0 26v1m0 35v1m0 31v1m0 16v1m0 11v1m0 16v1m0 6v1m0 12v2m0 4v1m0 72v1m0 5v1m0 36v1m0 38v1m0 4v1m0 7v1m1-327v1m0 57v1m0 14v1m0 22v1m0 23v1m0 24v1m0 13v1m0 33v1m0 10v2m0 38v1m0 15v1m0 39v1m0 35v1m0 1v1m1-345v1m0 4v1m0 51v1m0 105v1m0 100v1m0 14v1m0 5v1m0 58v1m1-352v1m0 7v2m0 15v2m0 101v1m0 63v1m0 27v1m0 28v1m0 14v1m0 8v1m0 75v1m0 7v1m1-269v1m0 10v1m0 36v1m0 31v1m0 52v1m0 27v1m0 2v1m0 8v1m0 78v1m0 6v1m0 2v1m1-347v1m0 16v1m0 26v1m0 17v2m0 7v1m0 17v1m0 7v1m0 31v1m0 36v1m0 62v1m0 9v1m0 8v1m0 4v1m0 15v1m0 13v1m0 8v1m0 1v1m0 3v1m0 1v1m0 19v1m1-329v1m0 12v1m0 6v1m0 77v1m0 33v1m0 4v1m0 30v1m0 23v1m0 7v1m0 50v1m0 17v1m0 40v1m0 2v1m0 7v1m0 28v1m0 1v1m0 7v1m1-383v1m0 65v1m0 162v2m0 44v1m1-200v1m0 26v1m0 4v1m0 55v1m0 6v1m0 23v1m0 127v1m0 16v1m1-334v1m0 58v1m0 4v1m0 21v1m0 4v1m0 44v1m0 1v1m0 32v1m0 44v1m0 10v1m0 7v1m0 2v1m0 99v1m0 29v1m1-363v1m0 42v1m0 29v1m0 43v2m0 1v1m0 25v1m0 13v1m0 83v1m0 77v1m0 37v1m1-375v1m0 5v1m0 30v1m0 63v1m0 29v1m0 14v1m0 12v2m0 81v1m0 20v1m0 16v1m0 44v1m1-264v1m0 49v1m0 85v1m0 76v1m0 52v1m1-305v1m0 33v1m0 4v1m0 44v1m0 38v1m0 18v1m0 51v1m0 29v1m0 4v1m0 100v1m1-351v1m0 80v1m0 1v1m0 49v1m0 7v1m0 138v1m0 31v1m1-293v2m0 101v1m0 2v1m0 15v1m0 42v1m0 15v1m0 17v1m0 2v1m0 46v1m0 16v1m0 4v1m0 2v1m0 13v1m0 38v1m1-308v1m0 112v1m0 84v1m0 40v1m0 4v1m1-281v1m0 2v2m0 10v1m0 1v1m0 98v1m0 5v1m0 48v1m0 4v1m0 1v1m0 11v1m0 37v1m0 8v1m0 19v1m0 15v1m0 1v1m0 6v1m0 28v1m0 12v1m0 18v2m0 28v1m1-370v1m0 1v1m0 5v1m0 42v1m0 3v1m0 10v1m0 24v1m0 47v1m0 27v1m0 30v2m0 12v1m0 7v1m0 19v1m0 17v1m0 29v2m0 22v1m1-285v1m0 55v1m0 103v1m0 87v1m0 15v1m0 36v1m0 9v1m0 1v1m1-314v1m0 33v1m0 46v1m0 27v1m0 33v1m0 13v1m0 45v1m0 8v1m0 26v1m1-272v1m0 3v1m0 71v1m0 116v1m0 121v1m0 1v1m0 31v1m0 13v1m1-205v1m0 1v1m0 7v1m0 16v1m0 7v1m0 29v1m0 10v1m0 78v1m0 11v1m1-320v2m0 52v1m0 17v1m0 105v1m0 17v1m0 2v1m0 20v1m0 50v1m0 40v1m0 6v1m1-326v1m0 1v1m0 53v1m0 10v1m0 36v1m0 96v1m0 71v1m0 18v1m0 27v1m0 3v1m1-290v1m0 42v1m0 26v1m0 42v1m0 9v1m0 30v1m0 11v1m0 46v1m0 11v1m0 3v1m0 18v1m0 39v2m1-313v1m0 14v1m0 17v1m0 20v1m0 44v1m0 48v1m0 99v1m1-266v1m0 5v1m0 55v1m0 4v1m0 74v1m0 16v1m0 25v1m0 43v1m0 121v1m1-352v1m0 20v1m0 3v1m0 24v1m0 33v2m0 28v1m0 8v1m0 22v1m0 9v1m0 15v1m0 35v1m0 12v1m0 13v1m0 10v1m0 21v1m0 11v1m0 12v1m0 31v1m0 6v1m0 10v1m1-292v1m0 20v1m0 16v1m0 4v2m0 49v1m0 86v1m0 22v1m0 112v1m1-355v1m0 60v1m0 18v1m0 56v1m0 1v1m0 20v1m0 6v1m0 13v1m0 115v1m1-308v1m0 31v1m0 101v1m0 5v1m0 8v1m0 11v1m0 14v1m0 14v1m0 7v1m0 22v1m0 17v1m0 30v1m0 64v1m0 23v1m0 6v1m1-386v1m0 38v1m0 33v1m0 35v1m0 18v1m0 20v1m0 46v1m0 79v2m0 98v1m1-321v1m0 2v1m0 3v1m0 56v1m0 157v1m0 18v1m0 3v1m0 30v1m0 56v1m1-379v1m0 71v1m0 78v2m0 57v1m0 38v1m0 11v1m0 59v1m0 13v1m0 19v1m1-192v1m0 5v1m0 96v1m0 31v1m0 1v1m0 3v1m0 37v1m0 13v1m0 6v1m0 7v1m0 7v1m1-373v1m0 36v1m0 36v1m0 17v1m1-92v1m0 2v1m0 9v1m0 51v1m0 13v1m0 9v1m0 3v1m0 16v1m0 38v1m0 23v1m0 11v1m0 35v1m0 27v1m0 15v1m0 92v1m0 5v1m1-362v1m0 35v1m0 20v1m0 55v1m0 5v1m0 13v1m0 8v1m0 7v1m0 1v1m0 33v1m0 11v1m0 35v1m0 12v1m0 14v1m0 32v1m0 19v1m0 12v1m1-297v1m0 5v1m0 2v1m0 96v1m0 66v1m0 10v1m0 14v1m0 2v1m1-202v1m0 15v1m0 68v1m0 11v1m0 30v1m0 2v1m0 16v1m0 70v1m0 37v1m1-305v1m0 53v1m0 27v1m0 27v1m0 40v1m0 5v1m0 7v1m0 53v2m0 43v1m0 25v1m0 43v1m0 4v1m1-333v1m0 77v1m0 19v1m0 19v1m0 3v1m0 15v1m0 93v1m0 45v1m1-208v1m0 16v1m0 39v1m0 20v1m0 36v1m0 20v1m0 10v1m0 31v1m0 4v2m0 21v1m0 24v1m0 56v1m0 7v1m1-341v1m0 27v1m0 12v1m0 71v1m0 1v1m0 33v1m0 5v1m0 20v2m0 3v1m0 8v1m0 46v1m0 21v1m0 34v1m0 8v1m0 1v1m1-272v1m0 142v1m0 8v1m0 63v1m0 11v1m1-278v1m0 41v1m0 20v1m0 15v1m0 9v1m0 30v1m0 30v1m0 41v1m0 12v1m0 16v1m0 4v1m0 32v1m0 34v1m0 1v1m0 17v1m0 36v1m0 8v1m1-378v1m0 23v1m0 34v1m0 18v1m0 34v1m0 33v1m0 20v1m0 3v1m0 45v1m0 5v1m0 20v1m0 66v1m0 2v1m0 48v1m1-378v1m0 13v2m0 55v1m0 10v1m0 89v2m0 203v1m1-366v1m0 4v1m0 93v1m0 41v1m0 8v1m0 50v1m0 45v1m0 28v1m0 48v1m1-313v1m0 3v1m0 27v1m0 58v1m0 37v1m0 40v1m0 33v1m0 31v1m0 1v1m0 32v1m0 11v1m0 22v1m0 3v1m0 6v1m0 4v1m1-336v1m0 3v1m0 21v1m0 4v1m0 3v1m0 68v1m0 22v1m0 11v1m0 5v1m0 54v2m0 3v1m0 20v1m0 66v1m0 52v1m1-311v2m0 6v1m0 16v1m0 10v1m0 2v1m0 150v2m0 57v1m0 4v1m0 53v1m0 29v1m1-373v1m0 37v1m0 66v1m0 43v1m0 8v1m0 56v1m0 33v1m0 77v1m0 7v1m0 23v2m1-351v1m0 21v1m0 19v1m0 16v1m0 27v1m0 13v1m0 1v1m0 8v1m0 10v1m0 29v1m0 16v1m0 43v2m0 7v1m0 46v1m0 29v1m0 9v1m0 42v1m0 8v1m1-369v1m0 15v1m0 18v1m0 37v1m0 1v1m0 15v1m0 91v1m0 15v1m0 37v1m0 15v1m0 96v1m1-305v1m0 55v1m0 29v1m0 10v1m0 12v1m0 5v1m0 77v1m0 14v1m0 74v1m0 29v1m0 7v1m0 2v1m1-375v1m0 12v1m0 38v1m0 28v1m0 16v1m0 11v1m0 15v1m0 188v1m1-312v1m0 1v1m0 79v1m0 25v1m0 21v1m0 11v1m0 16v1m0 78v1m0 7v1m0 72v1m1-308v1m0 15v1m0 34v1m0 56v1m0 19v1m0 20v1m0 27v1m0 51v1m0 9v1m0 4v1m0 69v1m1-318v1m0 15v1m0 5v1m0 22v1m0 4v1m0 4v1m0 23v1m0 7v1m0 15v1m0 23v1m0 19v1m0 22v1m0 5v1m0 5v1m0 18v1m0 18v1m0 19v1m0 15v1m0 29v1m0 3v1m0 6v1m0 38v1m0 2v1m0 17v1m1-314v1m0 87v1m0 4v1m0 22v1m0 6v1m0 7v1m0 18v1m0 2v1m0 4v1m0 4v1m0 12v1m0 19v1m0 27v1m0 3v1m0 51v1m1-139v1m0 14v1m0 112v1m1-331v1m0 4v1m0 11v1m0 33v1m0 30v1m0 11v1m0 53v1m0 4v1m0 44v1m0 7v1m0 4v1m0 19v1m0 84v1m1-317v1m0 1v1m0 46v1m0 27v1m0 10v1m0 9v1m0 1v1m0 14v1m0 51v1m0 37v1m0 41v1m0 84v1m0 5v1m0 25v1m0 10v1m1-278v1m0 75v1m0 157v1m1-239v1m0 3v1m0 21v1m0 170v1m0 30v1m0 6v1m0 19v1m0 5v1m1-346v1m0 60v1m0 22v1m0 52v1m0 5v1m0 4v2m0 33v1m0 36v1m0 15v1m0 4v2m0 30v1m0 79v1m1-342v1m0 1v1m0 19v2m0 8v1m0 16v1m0 107v1m0 15v1m0 24v1m0 16v1m0 18v1m0 64v1m0 54v1m1-356v1m0 79v1m0 40v1m0 7v1m0 32v1m0 38v1m0 27v1m0 26v1m0 1v1m0 4v1m0 79v1m0 9v1m1-332v1m0 20v1m0 44v1m0 6v1m0 75v1m0 35v1m0 86v1m0 26v1m0 14v2m0 6v1m1-221v1m0 159v1m0 57v1m1-357v1m0 23v1m0 45v1m0 1v1m0 51v1m0 56v1m0 29v1m0 12v1m1-226v1m0 48v1m0 11v1m0 13v1m0 2v1m0 36v1m0 2v1m0 11v1m0 45v1m0 1v1m0 51v1m0 30v1m0 23v1m0 4v1m0 26v1m0 14v1m0 4v1m0 13v1m0 4v1m0 4v1m1-343v1m0 78v1m0 15v2m0 12v1m0 208v1m0 18v1m1-331v1m0 7v1m0 22v1m0 11v1m0 7v1m0 24v1m0 55v1m0 121v1m0 15v1m0 38v1m1-297v1m0 3v1m0 40v1m0 18v1m0 92v1m0 44v1m0 4v1m0 71v1m0 25v1m1-301v1m0 265v1m0 32v1m1-307v1m0 57v1m0 16v1m0 168v1m0 46v1m1-286v1m0 36v1m0 8v1m0 8v1m0 7v2m0 75v1m0 125v1m0 25v1m0 25v1m1-343v2m0 32v1m0 18v1m0 91v1m0 15v1m0 31v1m0 34v1m0 1v1m0 105v1m1-323v1m0 98v1m0 1v1m0 45v1m0 31v1m0 54v1m0 13v1m1-285v1m0 10v1m0 1v1m0 15v1m0 1v1m0 11v1m0 2v1m0 4v1m0 41v1m0 23v1m0 69v1m0 15v1m0 7v1m0 26v1m0 50v1m0 7v1m0 9v1m0 11v1m0 22v1m0 4v1m1-335v1m0 10v1m0 81v1m0 28v1m0 25v1m0 34v1m0 21v2m0 5v1m0 39v2m0 28v1m0 17v2m0 37v1m1-352v1m0 21v1m0 114v1m0 46v1m0 46v1m0 22v1m0 5v1m0 28v1m0 13v1m0 30v1m0 20v1m1-257v2m0 20v2m0 9v1m0 4v1m0 23v1m0 61v1m0 40v1m0 8v1m0 25v1m0 22v1m0 32v1m1-356v1m0 2v1m0 81v1m0 15v1m0 2v1m0 17v1m0 57v1m0 35v1m0 57v1m1-265v1m0 71v1m0 35v1m0 3v1m0 2v1m0 28v1m0 12v1m0 3v1m0 32v1m0 5v1m0 14v1m0 17v1m0 21v1m0 47v1m0 13v1m0 12v1m0 9v1m0 16v1m1-371v1m0 78v1m0 8v1m0 121v1m0 8v1m0 99v1m0 50v1m1-335v1m0 91v1m0 9v1m0 22v1m0 46v1m0 22v1m0 28v1m0 40v1m1-253v1m0 14v1m0 14v1m0 46v1m0 19v1m0 109v1m0 102v1m1-229v1m0 2v1m0 70v1m0 2v1m0 9v1m0 57v1m0 44v1m0 24v1m0 2v1m1-313v1m0 2v1m0 146v1m0 16v1m0 1v1m0 37v1m0 31v1m0 15v1m1 7v1m1-183v1m0 1v1m0 46v1m0 54v1m1-227v1m0 82v1m0 7v1m0 154v1m1-248v1m0 78v2m0 30v1m0 50v1m0 72v1m0 116v1m1-347v1m0 8v1m0 6v1m0 49v1m0 2v1m0 21v1m0 28v1m0 39v1m0 20v1m0 97v1m0 52v1m0 12v1m0 6v1m0 16v1m1-197v1m0 163v1m1-350v1m0 109v1m0 1v1m0 65v1m0 17v1m1-180v1m0 352v1m0 17v1m1-376v1m0 9v1m0 114v1m0 9v1m0 89v1m0 75v1m0 54v1m1-217v1m0 7v1m0 91v1m1-222v1m0 46v1m0 1v1m0 15v1m0 70v1m0 24v1m0 34v1m0 23v1m0 24v1m0 15v1m1-256v1m0 7v1m0 56v1m0 7v1m0 12v1m0 9v1m0 28v1m0 72v1m0 100v1m0 3v1m0 35v1m1-356v1m0 157v1m0 17v1m0 24v1m0 12v1m0 21v1m0 24v1m0 78v1m2-305v1m0 90v1m0 6v1m0 71v1m0 15v1m0 9v1m0 111v1m2-297v1m0 73v1m0 89v1m0 19v1m0 48v1m0 20v1m0 4v1m0 8v1m2-231v1m0 21v1m0 6v1m0 32v1m0 5v1m0 20v1m0 9v1m0 162v1m0 13v1m2-321v2m0 15v1m0 11v1m0 23v1m0 30v1m0 11v1m0 27v1m0 113v1m0 5v1m0 22v1m0 26v1m0 14v1m0 15v1m2-244v1m0 41v1m0 9v1m2-55v1m0 70v1m0 54v1m0 9v1m2-268v1m0 17v1m0 4v1m0 11v1m0 52v1m0 16v1m0 22v1m0 42v1m0 89v1m0 57v1m0 38v1m5-320v1m0 33v1m0 7v1m0 2v1m0 18v1m0 26v1m0 43v1m0 103v1m0 30v1m0 16v1m5-319v1m0 19v1m0 21v1m0 12v1m0 18v1m0 55v1m0 51v1m0 28v1m0 13v1m0 5v1m0 49v1m0 8v1m0 26v2m0 31v1m5-290v1m0 8v1m0 9v1m0 109v1m0 5v1m0 99v1m0 18v1m5-41v1m5-201v1m0 2v1m0 142v1m0 22v1m0 44v1m5-202v1m0 19v1m0 63v1m0 53v1m0 15v1m0 9v1m0 55v1m0 47v1"/>
<path stroke="#46327e" d="M5.5 34v1m0 7v1m0 53v1m0 22v1m0 53v1m0 72v1m0 21v1m0 36v1m0 89v1m1-361v1m0 4v1m0 28v1m0 2v1m0 86v1m0 74v1m0 32v1m0 71v1m1-260v1m0 9v1m0 21v1m0 27v1m0 38v1m0 16v1m0 2v1m0 10v1m0 56v2m0 46v1m0 84v1m1-312v1m0 95v1m0 131v1m1-248v1m0 76v1m0 3v1m0 107v1m0 7v1m0 22v1m0 11v1m0 42v1m0 1v1m1-318v2m0 27v1m0 78v1m0 14v1m0 30v1m0 81v1m0 13v1m0 28v1m0 7v1m0 5v1m0 45v1m0 21v1m1-354v1m0 7v1m0 11v1m0 7v1m0 21v1m0 18v1m0 54v1m0 11v1m0 1v1m0 2v1m0 35v1m0 37v1m0 6v2m0 48v1m0 33v1m0 1v1m0 5v1m0 17v1m0 18v1m1-346v1m0 223v1m0 35v1m0 85v1m1-361v1m0 30v1m0 40v1m0 22v1m0 10v1m0 56v1m0 66v1m0 93v1m0 11v1m1-320v1m0 13v1m0 85v1m0 65v1m0 7v1m0 27v2m0 14v1m0 31v1m0 18v1m0 19v1m0 34v1m0 23v1m1-333v1m0 2v1m0 12v1m0 2v1m0 13v1m0 45v1m0 40v1m0 21v2m0 10v1m0 46v1m0 61v1m0 24v1m1-274v1m0 55v1m0 151v1m0 24v1m0 66v1m0 10v1m1-361v1m0 3v1m0 110v1m0 88v1m0 67v1m0 20v1m0 79v2m1-279v1m1-54v1m0 228v1m0 13v1m0 72v1m1-211v1m0 11v1m1-143v2m0 83v1m0 117v1m0 19v1m0 49v1m0 18v1m0 61v1m1-375v1m0 314v1m0 38v1m1-354v1m0 1v1m0 20v1m0 21v1m0 32v1m0 52v1m0 33v1m0 27v1m0 14v1m0 23v1m0 28v1m0 13v1m0 55v1m1-269v1m0 75v1m0 7v1m0 19v1m0 48v1m0 9v1m0 39v1m0 4v1m0 16v2m0 7v1m0 77v1m1-365v1m0 12v1m0 186v1m0 21v1m0 43v1m0 27v1m0 30v2m1-272v1m0 51v1m0 67v1m0 162v1m0 17v1m0 2v1m1-372v1m0 3v1m0 23v1m0 50v1m0 16v1m0 26v1m0 43v1m0 76v2m0 65v1m0 9v1m1-310v1m0 80v1m0 7v1m0 28v1m0 11v1m0 35v1m0 70v1m0 1v1m0 15v1m1-272v2m0 43v1m0 26v1m0 2v1m0 86v1m0 54v1m0 41v1m0 64v1m0 37v1m1-246v1m0 19v1m0 82v1m0 2v1m0 18v1m0 28v1m0 105v1m1-341v1m0 56v1m0 21v1m0 51v1m0 8v1m0 4v1m0 26v1m0 37v1m0 26v1m0 39v1m0 30v1m1-298v1m0 6v1m0 195v1m0 6v1m0 36v1m1-234v1m0 18v1m0 148v1m0 52v1m0 9v1m0 64v1m0 7v1m1-346v1m0 29v1m0 50v1m0 7v1m0 28v1m0 39v1m0 2v1m0 21v1m0 6v3m0 22v1m0 28v1m0 1v1m0 21v1m0 19v1m0 2v1m0 56v1m1-353v1m0 6v1m0 57v1m0 89v1m0 36v1m0 78v1m0 68v1m0 17v1m1-372v1m0 26v1m0 17v1m0 31v1m0 59v1m0 21v1m0 63v1m0 29v1m0 29v1m1-215v1m0 32v1m0 29v1m0 33v1m0 101v1m0 16v1m0 90v1m1-342v1m0 47v1m0 14v1m0 8v1m0 48v1m0 16v1m0 10v1m0 2v1m0 36v1m0 81v1m0 20v1m0 11v1m1-342v1m0 39v1m0 1v1m0 28v1m0 3v1m0 24v1m0 56v1m0 13v1m0 1v1m0 33v1m0 90v1m0 34v1m0 9v1m0 16v1m1-361v1m0 2v1m0 23v1m0 7v1m0 47v1m0 35v1m0 18v1m0 116v1m0 4v1m0 10v1m0 66v1m1-334v1m0 64v1m0 16v1m0 37v1m0 38v1m0 41v1m0 16v1m0 76v1m0 7v1m0 13v1m0 43v1m0 12v1m1-364v1m0 7v1m0 105v1m0 60v1m0 144v1m1-298v1m0 27v1m0 64v1m0 40v1m0 53v1m0 26v1m0 28v1m0 50v1m0 15v1m0 7v1m1-354v1m0 12v1m0 40v1m0 3v1m0 26v1m0 9v1m0 7v1m0 15v1m0 7v1m0 21v1m0 42v1m0 5v1m0 44v1m0 24v1m0 2v1m0 23v1m0 53v1m0 2v1m1-253v1m0 90v1m0 60v1m1-251v1m0 30v1m0 21v1m0 10v1m0 1v1m0 3v1m0 24v1m0 26v1m0 14v1m0 13v1m0 1v1m0 66v1m0 43v2m0 17v1m0 2v1m0 5v1m0 73v1m1-339v1m0 80v1m0 4v1m0 4v1m0 27v1m0 10v1m0 73v1m0 24v1m1-239v1m0 206v1m0 86v1m0 11v1m0 1v2m0 27v1m1-307v1m0 9v2m0 19v1m0 27v1m0 29v1m0 28v1m0 39v1m0 16v1m0 8v1m0 15v1m0 32v1m0 20v1m0 12v1m0 51v1m1-355v1m0 19v1m0 6v1m0 30v1m0 19v1m0 3v1m0 105v1m0 4v1m0 25v1m0 19v1m0 53v1m0 1v1m0 26v1m0 2v2m0 12v1m0 5v1m0 1v1m1-317v1m0 19v1m0 9v1m0 117v1m0 30v1m0 42v1m0 1v1m1-275v2m0 132v1m0 4v1m0 177v1m1-306v1m0 5v1m0 198v1m0 9v1m0 21v1m0 49v1m0 16v1m1-328v1m0 64v1m0 111v1m0 38v1m0 7v1m0 14v1m0 44v1m0 36v1m0 38v1m0 21v1m1-313v1m0 135v1m0 132v1m1-233v1m0 121v1m0 76v2m0 25v1m0 41v1m1-362v1m0 13v1m0 15v1m0 41v1m0 29v1m0 12v1m0 7v1m0 4v1m0 15v2m0 33v1m0 66v1m0 80v1m0 4v1m0 28v1m1-361v2m0 20v1m0 13v1m0 13v1m0 52v1m0 15v1m0 34v1m0 15v1m0 81v1m0 14v1m0 5v1m0 8v1m0 57v2m1-289v1m0 37v1m0 24v1m0 11v1m0 67v1m0 17v1m0 4v1m0 77v2m1-295v1m0 30v1m0 23v2m0 52v1m0 17v1m0 105v1m0 23v1m0 59v1m0 6v1m0 41v1m1-302v1m0 57v1m0 225v1m1-284v1m0 54v1m0 92v1m0 1v1m0 1v1m0 2v1m0 59v1m0 19v1m0 45v1m0 13v2m1-357v1m0 21v1m0 265v1m1-303v1m0 15v1m0 3v1m0 96v1m0 1v1m0 57v1m0 4v1m0 16v1m0 14v1m0 107v1m1-310v1m0 22v1m0 27v1m0 34v1m0 23v1m0 58v1m0 27v1m0 47v1m0 24v1m0 32v2m0 56v1m1-315v1m0 36v1m0 9v1m0 67v1m0 40v1m0 7v1m0 4v1m0 99v2m0 5v1m1-328v1m0 11v1m0 26v1m0 14v1m0 1v1m0 40v1m0 14v1m0 18v1m0 54v1m0 3v1m0 16v1m0 17v1m0 5v2m0 14v1m0 15v1m0 5v1m0 9v1m0 12v1m0 11v1m0 10v1m0 9v1m1-329v1m0 87v1m0 11v2m0 73v1m0 31v1m0 80v1m1-244v1m0 28v1m0 3v1m0 115v1m0 50v1m0 48v1m0 22v1m0 1v1m1-324v1m0 44v1m0 45v1m0 15v1m0 1v1m0 22v1m1-139v1m0 4v1m0 62v1m0 303v1m1-343v2m0 21v1m0 36v1m0 194v2m1-135v1m0 32v1m0 29v1m1-138v1m0 12v1m0 53v1m0 48v1m0 8v1m0 18v1m0 10v1m0 18v1m1-246v1m0 77v1m0 42v1m0 11v2m0 15v1m0 73v1m0 17v2m0 60v1m0 35v1m0 23v1m1-342v1m0 50v1m0 1v1m0 11v1m0 139v1m0 15v1m0 113v1m1-299v1m0 9v1m0 24v1m0 44v1m0 83v1m0 48v1m0 28v1m0 3v1m1-204v1m0 7v1m0 53v1m0 129v1m1-284v1m0 15v1m0 36v1m0 15v1m0 42v2m0 136v1m0 59v2m1-241v1m0 28v1m0 5v1m0 37v1m0 31v1m0 43v1m0 69v1m1-57v1m1-195v1m0 42v1m0 15v1m0 44v1m0 80v1m1-196v1m0 280v1m1-289v1m0 77v1m0 166v1m0 20v1m1-295v1m0 173v1m0 54v1m0 77v1m0 4v1m1-325v1m0 1v1m0 152v1m0 11v1m0 37v1m0 16v1m0 2v1m0 71v1m0 75v1m1-331v1m0 89v1m0 7v1m0 1v1m0 57v1m0 45v1m0 58v1m0 1v1m0 19v2m0 40v1m0 6v1m1-371v1m0 26v1m0 9v1m0 1v1m0 59v1m0 20v1m0 26v1m0 4v1m0 108v1m0 38v1m1-306v1m0 67v1m0 51v1m0 76v1m0 6v1m0 3v1m0 22v1m0 48v1m0 27v1m0 38v1m0 3v1m1-325v1m0 4v1m0 19v1m0 14v1m0 80v1m0 45v1m0 70v1m0 36v1m1-290v1m0 85v1m0 18v1m0 29v1m0 71v1m0 81v1m0 4v1m0 32v1m1-241v1m0 70v1m0 21v1m0 136v1m1-301v1m0 7v1m0 122v1m0 12v1m0 20v1m0 58v1m0 23v1m0 15v1m0 9v1m1-306v1m0 96v1m0 75v1m0 21v1m0 26v1m0 1v1m0 81v1m0 26v1m1-282v1m0 8v2m0 27v1m0 1v1m0 19v1m0 78v1m0 55v1m0 64v1m1-246v1m0 116v1m0 84v1m0 31v1m1-227v1m0 35v2m0 7v1m0 116v1m0 5v1m0 9v1m0 40v1m0 29v1m0 35v1m1-194v1m0 158v1m1-201v1m0 27v1m0 75v1m0 79v1m0 63v1m1-317v1m0 110v1m0 115v1m0 74v1m1-350v1m0 189v1m1 47v1m1-185v1m0 14v1m0 64v2m0 163v1m1-218v1m0 54v1m0 134v1m1-207v1m0 30v1m1-100v1m0 6v1m0 28v1m0 31v1m0 21v1m0 35v1m0 29v1m1-128v1m0 113v1m0 26v1m0 82v1m0 46v1m0 2v1m0 7v1m0 35v1m1-326v1m0 150v1m0 24v1m1-48v1m0 2v1m0 115v1m0 3v1m0 91v1m1-352v1m0 73v1m0 159v1m0 34v1m0 40v1m1-259v1m0 125v1m0 77v1m0 57v1m2-314v1m0 104v1m0 45v1m0 16v1m0 52v1m2-211v1m0 5v1m0 57v1m0 2v1m0 101v1m0 20v1m0 17v1m2-186v1m0 124v1m0 2v1m0 153v1m2-295v2m0 45v1m0 7v1m0 8v1m0 21v1m0 4v1m0 53v1m0 8v1m0 13v1m2-182v1m0 7v1m0 108v1m0 8v1m0 5v1m0 18v1m0 24v3m0 70v1m0 9v1m2-219v1m0 85v1m0 53v1m0 118v2m2-309v1m0 4v1m0 48v1m0 39v1m0 88v1m0 9v1m0 16v1m0 22v1m0 36v1m0 70v1m5-305v1m0 63v1m0 158v1m5-260v1m0 7v1m0 38v1m0 6v1m0 6v1m0 4v1m0 27v1m0 96v1m0 6v1m0 53v2m0 11v1m0 59v1m0 19v1m5-353v1m0 70v1m0 60v1m0 66v1m0 5v1m0 19v1m0 9v1m0 64v1m0 14v1m0 9v1m0 22v1m5-321v1m0 41v1m0 34v1m0 5v1m5-86v1m0 16v1m0 37v1m0 113v1m0 73v1m5-209v1m0 18v1m0 66v1m0 68v1m0 43v1m0 56v1m0 19v1"/>
<path stroke="#453781" d="M5.5 43v1m0 49v1m0 80v1m0 92v1m1-239v1m0 145v1m0 26v1m0 20v1m0 27v1m0 35v1m0 110v1m1-358v1m0 47v1m0 77v1m0 12v1m0 10v1m0 23v1m0 11v1m0 4v1m0 75v1m0 13v1m0 12v1m1-237v1m0 14v1m0 162v1m0 29v1m0 35v1m0 14v1m1-329v1m0 22v1m0 54v1m0 41v1m0 69v1m0 12v1m0 26v1m0 115v1m1-329v1m0 19v1m0 65v1m0 71v1m0 15v1m0 145v1m1-330v1m0 45v1m0 1v1m0 24v1m0 15v1m0 5v1m0 28v1m0 57v1m0 69v1m0 101v1m1-333v1m0 48v1m0 36v1m0 10v1m0 7v1m0 84v1m0 1v1m0 149v1m1-220v1m0 22v1m1-126v1m0 3v1m0 21v1m0 19v2m0 138v1m0 60v1m0 46v1m1-332v1m0 5v1m0 112v1m0 6v1m0 36v2m0 89v1m1-270v1m0 11v1m0 19v1m0 102v1m0 139v1m1-227v1m0 4v1m0 135v1m0 79v1m0 52v1m1-271v1m0 23v1m0 77v1m0 183v1m1-244v1m0 92v1m0 125v1m1-255v1m0 16v1m0 51v1m1-136v1m0 62v1m0 11v1m0 127v1m0 20v1m0 6v1m0 10v1m0 29v1m0 3v1m0 30v1m1-304v1m0 100v1m0 190v1m0 52v1m1-305v1m0 23v1m0 59v1m0 3v1m0 130v1m0 115v1m1-365v1m0 48v1m0 120v1m0 19v1m0 92v1m1-208v1m0 18v1m0 29v1m0 79v1m0 42v1m0 3v1m0 95v1m0 1v1m1-364v1m0 49v1m0 15v1m1-46v1m0 52v1m0 45v2m0 29v1m0 42v1m0 129v1m0 41v1m1-366v1m0 57v1m0 7v1m0 156v1m0 16v1m0 63v1m0 7v1m0 7v1m1-327v1m0 25v1m0 9v1m0 2v1m0 25v1m0 22v1m0 59v1m0 29v1m0 15v1m0 62v1m1-259v1m0 5v1m0 24v1m0 179v2m1-173v1m0 106v1m0 137v1m0 82v1m1-276v1m0 2v1m0 71v1m0 35v1m0 126v1m0 6v1m1-333v1m0 49v1m0 57v1m0 43v1m0 9v1m0 33v1m0 65v1m0 18v1m0 94v1m1-356v1m0 105v1m0 27v1m0 62v1m0 5v3m0 95v1m1-325v1m0 66v1m0 86v1m0 123v1m0 78v1m0 10v1m1-358v1m0 36v1m0 22v1m0 45v2m0 71v1m0 53v1m1-206v1m0 39v1m0 11v1m0 43v1m0 17v1m0 65v1m0 24v1m0 57v1m1-265v1m0 22v1m0 15v1m1-74v1m0 49v1m0 4v1m0 10v1m0 28v1m0 14v1m0 24v1m0 1v1m0 40v1m0 30v1m1-114v1m0 145v1m0 70v1m0 5v1m0 13v1m1-343v1m0 27v1m0 28v1m0 64v1m0 36v1m0 28v1m0 36v1m0 102v1m1-325v1m0 143v1m0 59v1m0 14v1m0 147v1m0 11v1m1-212v1m0 10v1m0 2v1m0 3v1m0 163v1m1-346v1m0 15v1m0 61v1m0 43v1m0 6v1m0 6v1m0 6v1m0 51v1m0 61v1m0 117v1m1-272v1m0 21v1m0 42v1m0 53v1m0 15v1m0 48v1m1-223v1m0 8v1m0 21v1m0 19v1m0 63v1m0 79v1m0 20v1m0 5v1m1-270v1m0 67v1m0 83v1m0 155v1m0 43v1m1-378v1m0 30v1m0 74v1m0 29v1m0 53v1m0 119v1m1-305v1m0 5v1m0 8v1m0 7v2m0 167v1m0 98v1m0 11v1m0 5v1m0 11v2m1-314v2m0 48v1m0 3v1m0 211v1m0 55v1m0 20v1m0 9v1m1-372v1m0 4v1m0 117v1m0 85v1m1-199v1m0 7v1m0 124v1m0 1v1m0 61v1m0 56v1m0 26v1m0 65v1m1-349v1m0 49v1m0 223v1m0 12v1m0 32v1m1-251v1m0 38v1m0 53v1m0 69v1m0 62v1m1-304v1m0 48v1m0 76v1m0 22v1m0 137v1m0 70v1m1-318v1m0 167v1m1-176v1m0 16v1m0 11v1m0 41v1m0 48v1m0 34v1m0 1v1m0 77v1m0 46v1m0 20v1m0 26v1m1-339v1m0 14v1m0 109v2m0 25v1m0 45v1m0 6v1m0 3v1m0 1v1m0 6v1m0 7v1m0 21v1m0 39v1m0 28v1m0 21v1m0 6v1m1-371v1m0 48v1m0 197v1m0 55v1m1-248v1m0 24v1m0 152v1m0 26v1m0 51v1m0 29v1m0 34v1m1-382v2m0 11v1m0 85v1m0 14v1m0 207v1m0 49v1m1-370v1m0 117v1m0 143v1m0 102v1m1-370v1m0 210v1m0 81v1m1-280v1m0 27v1m0 229v1m0 38v1m1 51v1m1-364v1m0 65v1m0 19v1m0 24v1m0 6v1m0 1v2m0 102v1m0 21v1m1-217v1m0 23v1m0 12v1m0 24v2m0 12v1m0 2v1m0 1v1m0 72v1m0 41v1m0 9v1m0 13v1m0 8v1m0 43v1m0 6v1m0 34v1m0 3v1m0 2v1m0 8v1m0 1v1m1-371v1m0 350v1m1-278v1m0 78v1m0 100v1m1-154v1m0 8v1m0 42v1m0 84v1m0 11v1m0 6v1m0 14v1m0 7v1m0 89v1m0 8v1m1-268v1m0 218v1m1-319v1m0 12v1m0 58v1m0 20v1m0 184v1m1-280v1m0 40v1m0 1v1m0 6v1m0 48v1m0 84v1m0 34v1m0 46v1m1-195v1m0 4v1m0 41v1m0 7v1m0 10v1m0 91v1m0 4v1m0 17v1m0 24v1m0 43v1m0 31v1m1-367v1m0 5v1m0 27v1m0 117v1m0 42v1m0 15v1m0 37v1m0 98v1m1-287v1m0 13v1m0 114v1m0 21v2m0 12v1m1-208v1m0 19v1m0 234v1m1-195v1m0 26v1m0 6v1m0 149v1m1-236v1m0 57v1m0 37v1m0 34v1m0 53v1m0 4v1m1-186v1m0 58v1m0 142v1m0 60v1m0 40v1m1-315v1m0 136v1m1-99v1m1 28v1m0 11v1m0 191v1m0 16v1m1-305v1m0 2v2m0 1v1m0 4v1m0 4v1m0 316v1m1-250v1m0 94v1m0 38v1m0 87v1m1-304v1m0 125v1m0 19v1m0 20v1m0 25v1m0 134v1m0 29v1m0 2v1m1-142v1m0 105v1m0 32v1m1-336v1m0 4v1m0 97v1m0 17v1m0 16v1m0 6v1m0 65v1m0 5v1m0 1v1m0 86v1m0 28v1m0 13v1m1-330v1m0 25v1m0 43v1m0 85v1m0 51v1m0 7v1m1-227v1m0 35v1m0 38v1m0 42v1m0 85v1m0 43v1m1-283v1m0 4v1m0 12v1m0 119v1m0 8v1m0 5v1m0 7v1m0 22v1m0 22v1m0 14v1m0 3v1m0 43v1m0 98v1m1-371v1m0 99v1m0 21v1m0 67v2m0 54v1m0 1v1m0 10v1m1-234v1m0 12v1m0 58v1m0 57v1m0 68v1m0 5v1m0 117v1m1-162v1m0 28v1m0 34v1m0 30v1m0 71v1m1-198v1m0 31v1m0 54v1m0 12v1m0 70v1m1-280v1m0 135v1m1-155v1m0 102v1m0 35v1m0 68v1m0 14v1m0 6v1m0 7v1m0 15v1m0 35v1m1-236v1m0 193v1m0 79v1m1-262v1m0 167v1m0 32v1m0 13v1m1 44v1m1 5v1m1-179v1m1-116v1m0 62v1m0 52v1m0 118v1m2-166v1m1-145v1m0 48v1m0 69v1m0 66v1m0 29v1m0 55v1m0 97v1m1-350v1m0 278v1m0 40v1m1-223v1m0 32v1m0 5v1m1 54v1m1-213v1m0 27v1m0 46v1m0 7v1m0 10v1m0 19v1m0 42v1m0 63v1m1-161v1m0 26v1m0 14v1m0 130v1m0 138v1m2-331v1m0 29v1m0 37v1m0 49v1m0 3v1m0 76v1m0 19v1m4-79v1m2-134v1m0 36v1m0 32v1m0 235v1m2-198v1m0 102v2m0 103v1m2-335v1m0 128v1m2-149v1m0 22v1m0 156v1m0 104v1m0 6v1m0 36v1m5-340v1m0 7v1m0 95v1m5-93v1m0 13v1m0 16v1m0 62v1m0 22v1m0 63v1m0 32v1m0 19v1m0 19v1m0 31v1m5-293v1m0 38v1m0 18v1m0 120v1m0 155v1m5-344v1m0 152v1m5-151v1m0 331v1m0 19v1"/>
<path stroke="#443b84" d="M5.5 22v1m0 131v1m0 58v1m1 107v1m1-252v1m0 55v1m0 27v1m0 107v1m0 73v1m0 25v2m1-134v1m0 43v1m0 6v1m0 20v1m0 5v1m0 84v1m1-249v1m0 65v1m0 7v1m0 134v1m1-12v1m0 23v1m0 32v1m1-349v1m0 16v1m0 16v1m0 62v1m0 7v1m0 1v1m0 117v1m0 35v1m0 7v1m0 28v1m0 40v1m0 2v1m1-364v1m0 21v1m0 91v1m0 14v1m0 171v1m0 31v1m0 28v1m1-12v1m0 9v1m1-362v1m0 68v1m0 23v1m0 14v1m0 124v1m0 44v1m0 15v1m1-302v1m0 13v1m0 56v1m0 14v1m0 11v2m0 1v1m0 37v1m0 31v1m0 66v1m1-244v1m0 33v1m0 347v1m1-263v1m0 113v1m0 34v1m1 26v1m1-239v1m0 57v1m0 14v1m0 117v1m0 57v1m1-171v1m0 87v1m0 25v1m0 18v1m0 49v1m1-319v1m0 156v1m0 137v1m0 50v1m0 22v1m1-369v1m0 40v1m0 25v1m1-48v1m0 137v1m0 52v1m0 163v1m1-206v1m0 25v1m0 2v1m0 90v1m0 2v1m0 14v1m0 21v1m1-211v1m0 59v1m0 187v1m1-368v1m0 249v1m1-219v1m0 62v1m0 120v1m0 144v1m1-200v1m0 111v1m1-263v1m0 116v1m0 36v1m0 22v1m0 46v1m1-228v1m1-15v1m0 149v1m0 9v1m0 77v1m1-168v1m0 38v1m0 156v1m0 3v1m0 28v1m1-146v1m0 84v1m0 104v1m1-312v1m0 131v1m0 9v1m0 60v1m0 3v1m0 33v1m0 59v1m0 27v1m1-357v1m0 16v1m0 77v1m0 279v1m1-375v1m0 104v1m0 49v1m0 3v1m0 12v2m1-168v1m0 8v1m0 19v1m0 14v1m0 82v1m0 9v1m0 21v1m0 23v1m0 12v1m0 36v1m0 102v1m1-183v1m0 21v1m0 194v1m1-368v1m0 14v1m0 78v1m0 44v1m0 22v1m0 89v1m0 9v1m0 6v1m0 70v1m1-225v1m1 75v1m0 98v1m1-304v1m0 232v1m1-177v1m0 104v1m0 70v1m0 144v1m1-363v1m0 11v1m0 46v1m0 65v1m0 131v1m1-129v1m1 51v2m1-182v1m0 4v1m0 111v1m0 94v1m0 44v1m0 77v1m1-355v1m0 224v2m0 77v1m1-281v1m0 3v1m0 31v1m0 83v1m0 30v1m0 23v1m0 35v1m0 54v1m0 34v1m0 52v1m1-379v1m0 349v1m1-160v1m0 144v1m1-283v1m0 262v1m0 36v1m1-297v1m0 113v1m0 32v1m0 38v1m0 25v1m0 54v1m1-333v1m0 8v1m0 183v1m0 3v1m0 58v1m0 11v1m0 53v1m0 33v2m1-322v1m0 30v1m0 27v1m0 55v1m0 31v1m0 31v1m0 51v1m0 53v1m1-309v1m0 86v1m0 76v1m0 36v1m0 16v1m0 70v1m0 52v1m1-349v1m0 77v1m0 30v1m0 36v1m0 65v1m0 28v1m0 11v1m0 3v1m1-205v1m0 6v1m0 39v1m0 55v1m0 86v1m0 26v1m0 4v1m0 30v1m0 43v1m1-279v1m0 26v1m0 65v1m0 152v1m1-312v1m0 42v1m0 189v1m0 86v1m0 20v1m0 3v1m1-309v1m0 22v1m0 69v1m0 143v1m1-208v1m0 195v1m0 1v1m0 17v1m0 14v1m0 20v1m1-276v1m0 195v1m0 122v2m1-357v1m0 27v1m0 19v1m1-58v1m0 5v1m0 69v1m1 20v1m0 56v1m0 5v1m0 62v1m0 45v1m0 27v1m0 63v1m1-346v1m0 14v1m0 12v1m0 68v1m0 4v1m0 78v1m0 87v1m0 38v1m1-140v1m0 41v1m0 106v1m2-316v2m0 62v1m0 99v1m0 15v1m0 39v1m0 18v1m0 23v1m0 66v1m1-224v1m1-129v1m0 95v1m0 31v1m0 216v1m1-329v1m0 15v1m0 100v1m0 5v1m0 198v1m0 32v1m1-260v1m0 9v1m0 13v1m0 34v1m0 19v1m0 59v1m1-170v1m0 34v1m0 211v1m1-327v1m1 26v1m0 197v1m0 57v1m1-293v1m0 2v1m0 13v1m0 131v1m1-27v1m0 22v1m0 38v1m0 14v1m0 64v1m0 13v1m0 23v1m1-273v1m0 75v1m0 90v1m0 9v1m0 138v1m1-182v1m0 103v1m0 29v1m0 49v1m1-207v1m0 150v1m1-293v1m0 227v1m1-16v1m0 56v1m2-264v1m0 239v1m0 46v1m0 26v1m1-279v1m0 134v1m1-178v1m0 1v1m0 109v1m0 11v1m0 60v1m0 79v1m0 31v1m0 47v1m0 4v1m1-296v1m0 69v1m0 78v1m0 4v1m0 71v1m0 34v1m0 2v1m0 42v1m1-351v1m0 48v1m0 172v1m0 64v1m0 79v1m1-370v1m0 5v1m0 12v1m0 46v1m0 162v1m0 19v1m0 110v1m1-323v1m0 147v1m1-81v2m0 32v1m0 26v1m0 8v1m0 166v1m1-283v1m0 5v1m0 71v1m1-160v1m0 89v1m0 134v1m0 90v1m1-20v1m0 87v1m1-264v1m0 25v1m0 132v1m0 13v1m2-84v1m1-52v1m0 5v1m1 19v1m0 115v1m1-290v1m0 251v1m1-72v1m0 89v1m0 31v2m0 34v1m1-311v1m0 199v1m0 145v1m1-246v1m0 173v1m0 54v1m1-351v1m0 19v1m0 37v1m1-67v1m0 318v1m1-47v1m1 86v1m1-204v1m1 65v1m0 98v1m0 43v1m2-371v1m0 122v1m0 43v1m0 106v1m0 38v1m2-249v1m0 45v1m0 72v1m0 109v1m2-221v1m2 303v1m2-336v1m0 191v1m4-214v1m0 50v1m0 5v1m0 226v1m5-230v1m0 58v1m0 166v1m0 53v1m5-346v1m0 10v1m0 15v1m0 3v1m0 144v1m0 66v1m0 104v1m0 7v1m5-358v1m0 251v1m5 84v1m5-236v1m5-55v1m0 50v1m0 201v1"/>
<path stroke="#424186" d="M5.5 92v1m1-48v1m0 67v1m0 44v1m0 152v1m0 54v1m1-319v1m0 190v1m0 77v1m1-234v1m0 215v1m0 85v1m1-351v1m0 34v1m0 116v1m0 59v1m0 81v1m1-302v1m0 10v1m0 22v1m0 3v1m0 49v1m0 17v1m0 161v1m0 1v1m0 7v1m1-197v1m0 117v1m0 3v1m0 1v1m0 11v1m0 6v1m0 33v1m0 95v1m1-292v1m0 7v1m1-75v1m0 107v1m1-45v1m0 218v1m0 51v1m1-280v1m0 9v1m0 6v1m0 34v1m1 19v1m1 57v1m0 26v1m0 29v1m0 66v1m0 1v1m0 55v1m1-28v1m1-340v1m2 62v1m0 12v1m0 190v1m1-37v1m0 13v1m0 45v1m0 81v1m1-281v1m0 73v1m0 6v1m0 1v1m0 12v1m0 56v1m0 4v1m0 69v1m1-263v1m0 46v1m0 240v1m1-176v1m0 118v2m0 13v1m2-262v1m0 109v1m1-39v1m0 35v1m1-157v1m0 33v1m0 26v1m0 157v2m1-173v1m0 175v1m1-210v1m1 94v1m0 163v1m0 15v1m1-236v1m0 55v1m0 41v1m0 106v1m1-233v1m0 96v1m0 55v1m0 99v1m0 6v1m0 8v1m0 20v1m0 4v1m1-336v1m0 24v1m0 182v1m0 18v1m1-50v1m0 35v1m0 17v1m0 48v1m1-271v2m0 1v1m0 10v1m0 28v1m0 45v1m0 99v1m0 88v1m0 97v1m0 1v1m1-358v1m0 7v1m0 36v1m0 31v1m0 25v1m0 71v1m1-46v2m0 27v1m0 37v1m0 7v2m1-182v1m0 69v1m0 194v1m1-318v2m0 166v1m0 48v1m0 72v1m1-280v1m0 230v1m0 99v1m1-285v1m0 127v1m0 79v1m0 5v1m0 47v1m0 28v1m1-328v1m0 158v1m0 27v1m0 99v1m0 53v1m1-361v1m0 276v1m1-66v1m0 116v1m1-56v1m0 83v1m2-226v1m0 60v1m0 61v1m0 106v1m0 19v1m1-128v1m0 34v1m0 11v1m0 75v1m1-379v1m0 207v1m1-140v1m0 1v1m0 27v1m0 200v1m0 70v1m1-258v1m0 60v1m0 54v1m0 82v1m0 51v1m1-320v1m0 76v1m0 109v1m0 6v1m0 34v1m0 39v1m1-198v1m0 96v1m1-212v1m0 33v1m0 303v1m1-252v1m0 9v1m0 140v1m0 54v1m1-282v1m0 31v1m0 82v1m0 101v1m0 9v1m1-16v1m0 147v1m1-110v1m1-269v1m0 2v1m0 2v1m0 5v1m0 64v1m0 294v1m1-373v1m0 145v1m0 227v1m1-177v1m0 135v1m0 21v1m1-324v1m0 168v1m0 34v1m0 77v1m1-252v1m1 52v1m1-115v1m0 3v1m0 5v1m0 89v1m0 44v1m0 15v1m0 39v1m0 49v1m0 69v1m2-104v1m0 4v1m1-225v1m0 126v1m0 146v1m0 37v1m1-268v1m0 98v1m1 118v1m0 34v1m1-23v1m1-161v1m0 88v1m0 90v1m1-186v1m0 111v1m0 17v1m0 114v1m1-277v1m1 104v1m0 4v1m0 55v1m0 23v1m1-237v1m1 14v1m0 137v1m0 22v1m0 13v1m0 67v1m0 33v1m0 10v1m0 39v1m1-331v1m0 40v1m1 273v1m1-362v1m0 46v1m1 235v1m1-86v1m1-193v1m0 6v1m0 182v1m1-9v1m0 132v1m0 57v1m1-189v1m1-176v1m0 108v1m0 234v1m1-359v1m0 217v1m1-218v1m0 40v2m0 161v1m0 122v1m1-212v1m0 92v1m0 45v1m0 72v1m1-168v1m0 135v1m1-238v1m0 123v1m1-42v1m0 85v1m0 70v1m0 23v1m1-297v1m0 24v1m1 270v1m0 2v1m1-321v1m0 25v1m0 19v1m0 42v1m0 118v1m0 82v1m0 60v1m2-126v1m0 13v1m1 37v1m1-289v1m1 86v1m0 155v1m0 105v1m1-341v1m0 40v1m0 117v1m0 153v2m1-297v1m2-27v1m1 68v1m0 201v1m1-262v1m0 63v1m0 285v1m1-364v1m1 161v1m3-144v1m0 84v1m0 12v1m0 129v1m2-230v1m0 44v1m0 29v1m0 192v1m2-33v1m2-228v1m0 55v1m0 197v1m2-219v1m0 47v1m0 5v1m2-111v1m2 121v1m0 172v1m5-147v1m10 32v1m0 102v1m10-177v1m0 17v1m5 49v1"/>
<path stroke="#404688" d="M5.5 116v1m1-49v1m0 93v2m0 94v1m0 63v1m0 50v1m1-160v1m0 16v1m0 46v1m0 4v1m1-243v1m0 273v1m0 39v1m2-129v1m0 116v1m1-322v1m0 51v1m0 38v1m0 95v1m0 85v1m1-289v1m0 103v1m1-89v1m0 258v1m0 61v1m1-184v1m1-106v1m0 166v1m0 174v1m1-324v2m2 273v1m1-302v1m1-29v1m0 46v1m0 220v1m1-190v1m0 2v1m0 7v1m1-2v1m0 143v1m2 122v1m0 24v1m1-373v1m0 301v1m0 19v1m0 6v1m2-288v1m0 166v1m0 117v1m1-306v1m0 86v1m1-31v1m0 74v1m0 16v1m1-152v1m1 131v1m1-169v1m0 1v2m2 5v1m0 52v1m1-43v1m0 281v1m1-295v1m0 32v1m0 105v1m1-48v1m1 257v1m1-345v1m0 144v1m0 72v1m1-176v1m1 199v1m1-54v1m1 181v1m1-255v1m0 76v1m1 48v1m1-80v1m0 37v2m0 20v1m1-173v2m0 213v1m1 89v1m1-328v1m0 50v1m0 26v1m0 14v1m0 17v1m0 70v1m0 13v1m0 51v1m0 79v1m1-327v1m1-38v1m1 341v1m1-241v1m0 122v1m1-139v1m1-84v1m0 248v1m0 28v1m0 8v1m1-73v1m0 76v1m0 28v1m0 20v1m1-336v1m0 10v1m1 37v1m0 215v1m0 19v1m0 49v1m3-140v1m1-208v1m0 287v1m0 21v1m0 8v1m2-80v1m1-189v1m0 137v1m1-162v1m0 110v1m0 4v1m0 1v1m0 79v1m1-197v1m0 28v1m0 41v1m0 82v1m0 26v1m0 3v1m0 44v1m0 13v1m0 81v1m1-205v1m0 4v1m1-159v1m0 165v1m0 70v1m1-224v1m0 97v1m1-110v1m1 215v1m1-129v1m1-6v1m0 136v1m1-199v1m0 23v1m0 4v2m0 48v1m0 125v1m0 117v1m1-42v1m2-311v2m0 273v1m0 30v1m1-217v1m0 136v1m0 110v1m0 21v1m1-167v1m1-44v1m1-151v1m2 2v1m2 351v1m1-155v1m1-202v2m0 202v1m0 5v1m2 17v1m0 37v1m1-265v1m1 41v1m2-39v1m1-13v1m0 347v1m1-182v1m1 155v1m0 4v1m5-23v1m1-160v1m0 152v1m2-303v1m2 216v1m1 138v1m1-349v1m0 1v1m0 359v1m1-358v1m1-8v1m0 280v1m0 16v1m2-297v1m0 3v1m0 259v1m0 15v1m6-225v1m0 229v1m2-279v1m2 280v1m2 68v1m10-362v1m0 66v1m0 146v1m0 22v1m0 13v1m5-244v1m5-4v1m10 9v1m0 269v1"/>
<path stroke="#3e4a89" d="M7.5 311v2m1-286v2m1 117v1m1-125v1m0 182v1m0 4v1m1-181v1m1-21v1m0 18v1m0 112v1m0 35v1m0 5v1m1-20v1m1-137v1m0 158v1m1-135v1m0 142v1m0 50v1m6-150v1m1-75v1m0 58v1m2 80v1m0 133v1m1-57v1m1-223v2m0 2v1m1 317v1m1-197v1m1 120v1m0 84v1m1-302v1m1-27v1m0 3v1m1 259v1m5-178v1m0 74v1m0 34v1m1-210v1m0 100v1m0 45v1m2-137v1m0 372v1m1-347v1m1-30v1m0 3v1m0 200v1m0 150v1m2-232v1m0 12v1m0 103v1m1-68v1m1-129v1m0 160v1m0 143v1m1-141v1m1-211v2m0 126v1m1-86v1m0 77v2m0 35v1m0 5v1m1-143v1m2 203v1m1-177v1m0 34v1m0 67v1m1-162v1m0 281v1m1-143v1m0 227v1m2-368v1m0 94v1m0 40v1m0 98v1m1-242v1m4 3v1m0 328v1m2-318v1m0 128v1m1-103v1m0 288v1m1-21v1m1-299v1m0 22v1m0 29v1m0 127v1m0 25v1m0 25v1m0 118v1m0 5v1m0 9v1m1-379v1m0 325v1m1-321v1m0 4v1m0 233v1m1-237v1m0 1v1m1 243v1m3-193v1m0 58v1m0 77v1m1-195v1m0 131v1m4-122v1m3-6v1m1-4v1m0 1v1m2-8v2m1 144v1m1 0v1m2-82v1m2-61v1m1 45v1m1 101v1m0 124v1m2-159v1m1-42v1m0 167v1m11-238v1m6 333v1m2-336v1m0 2v1m2 10v1m0 121v1m0 55v1m2-192v1m2 116v1m14-133v1m15 15v1m5 0v1"/>
<path stroke="#3c4f8a" d="M5.5 330v1m3-305v1m2 50v1m1-63v1m0 8v1m4-2v1m1 159v1m5-157v1m1-7v1m1 137v1m0 193v1m1-1v1m2-335v1m2 287v1m1-286v1m2 6v1m1-18v1m0 6v1m0 37v1m0 212v1m1 17v1m1-259v1m3 213v1m1-228v1m1 224v1m0 1v2m1-195v1m0 43v1m0 117v1m0 1v1m1-202v1m2 268v1m1-116v1m0 144v1m2-208v1m0 86v1m1-73v1m0 112v1m1-106v1m2 102v1m2-67v1m3-137v1m0 127v1m0 230v1m1-320v1m1-54v1m0 2v1m1 116v1m2 247v2m2-370v1m0 3v1m4 228v1m1-223v1m0 39v1m0 9v1m0 1v1m0 218v1m3-96v1m2 83v1m2-262v1m0 123v1m3-63v1m1-70v1m0 83v1m1-69v1m0 352v1m9-69v1m0 13v1m1-240v1m1-70v1m0 281v1m0 13v1m2-72v1m1-193v1m1-38v1m0 2v1m0 44v1m1 90v1m0 166v1m0 27v1m6-334v1m1 125v1m4-133v1m5-1v2m2 5v1m2 3v1m10-2v1m5-20v1m0 7v1m10 216v1m10-201v1"/>
<path stroke="#3a548c" d="M8.5 25v1m2 2v1m1 129v1m0 200v1m4-153v1m1-111v1m4-74v1m1 346v1m1-346v1m1 120v1m2 12v1m1-141v1m5 244v1m1-253v1m0 6v1m1 3v1m6 182v1m0 18v1m0 19v1m1-36v2m0 1v1m0 8v3m1-209v1m3 17v1m7 84v1m11-107v1m1 12v1m2 3v1m1 132v1m1-7v1m0 139v1m0 96v1m3-229v1m4 1v1m1-151v1m2 19v1m1-21v1m1 8v1m4-3v1m0 349v1m2-358v1m5 3v1m0 1v1m1 208v1m0 120v1m1-328v1m1-15v1m0 9v1m2-4v1m1 6v1m7 272v1m7-168v1m5-113v1m6 2v1m2 105v1m12-117v1m5 8v1m0 5v1m5 0v1m0 3v1"/>
<path stroke="#38598c" d="M5.5 28v1m0 59v1m2 134v1m1 96v1m3-304v1m0 90v1m4-89v1m1-1v1m2 1v1m9 4v1m4-9v3m1-6v1m0 4v2m2 251v1m1-255v1m0 37v1m4-36v1m1 185v2m1-193v1m7 2v1m3-2v1m2 175v1m1-170v1m6 99v1m4-105v1m3 15v1m0 192v1m0 159v1m3-273v1m0 155v1m3 89v1m8-341v1m2-4v1m1 0v1m4 1v1m0 61v1m3-67v1m3-9v1m1-13v1m0 13v1m6 8v1m12 2v2m2 2v1m2-7v1m2 1v1m2 1v1m2-1v1m7-12v2m5-7v1m0 3v1m0 4v1m0 64v1"/>
<path stroke="#365d8d" d="M10.5 207v1m1-192v1m1-8v1m0 173v1m3 100v1m7-265v1m0 3v1m2-2v1m3 53v1m1 136v1m3-200v1m0 6v1m1-12v1m0 2v1m4 2v1m1 316v1m2-114v1m0 3v1m1 3v1m7 3v1m7-218v1m0 2v2m0 251v1m4-260v1m4 4v1m3 7v1m7 0v1m3-12v1m0 1v1m7 5v1m0 2v1m1-6v1m0 5v1m1-2v1m6-6v1m0 3v1m1-4v1m2 1v1m8-4v1m8-6v1m0 10v1m2-12v1m12 17v1m2-9v1m10-9v1m5 11v1"/>
<path stroke="#34618d" d="M6.5 67v1m15-46v1m1-7v1m14 8v1m2-23v1m1 218v1m1 4v1m2-207v1m1 2v1m5 3v1m1-7v1m5-2v1m1 380v1m1-380v1m3 1v1m12-9v1m0 6v1m2 209v1m6-92v1m2-116v1m4-7v1m5 1v1m3-3v1m1 1v1m1-5v1m4 6v1m10-2v1m4-6v1m0 2v1m4 0v1m2 181v1m4-174v1m12-18v1m0 4v1m10 3v1"/>
<path stroke="#31668e" d="M21.5 15v1m0 4v1m1 2v1m3 6v1m1-18v1m6-5v2m7 14v1m0 197v1m1 4v1m1-213v1m3 9v1m3 204v1m1-205v1m6-2v1m3-6v1m1-11v1m4 7v1m5-2v1m0 5v1m0 377v1m1-389v1m2 2v1m12 8v1m9-3v1m19-3v1m1-9v1m8 12v1m2 1v1m2-1v1m12-6v1m5-2v1"/>
<path stroke="#2f6c8e" d="M7.5 25v1m1-3v2m3-5v1m0 5v1m4-1v1m6-11v1m3 7v1m7-8v1m1-17v1m0 1v1m6 14v1m1 229v1m2-234v1m6 214v1m0 1v1m3-209v1m0 2v1m1-1v1m2-4v1m4-6v1m2-3v1m3-3v1m0 4v1m0 3v1m2-8v1m5-1v1m5 8v1m1-10v1m0 2v1m11 2v1m7 2v1m1-2v1m2-12v1m3 7v1m6-3v1m1 1v1m3-2v1m2-2v1m2 1v1m4 4v1m4-2v1m4-13v1m0 7v1m5-5v1m0 11v1m5-10v1m5 7v1m5 2v1m10-7v1m0 3v2"/>
<path stroke="#2b748e" d="M12.5 2v1m3 24v1m9-2v1m2-12v1m2 1v2m1 1v2m2-8v1m4 7v1m2-1v1m1-14v1m1 239v2m5-233v1m2 6v1m0 203v2m3-207v1m2-3v1m4-4v1m3-10v1m3 10v1m5 3v1m1-4v1m1-13v1m4 6v1m1 4v1m1-4v1m0 3v1m3 0v1m7-4v1m1-6v1m1 0v1m4 1v1m2 6v1m7-2v1m7-5v1m2-5v1m2-4v1m3-15v1m0 19v1m2 10v1m6-11v1m9-22v1m0 30v1m20-18v1"/>
<path stroke="#287c8e" d="M5.5 24v1m0 2v1m2-2v1m8-8v1m2 4v1m1-2v2m2-5v1m4 7v1m3-10v1m4-7v1m0 2v1m2 5v1m4-3v2m1-14v1m0 3v1m1 7v1m0 1v1m1-2v2m0 203v1m3-200v1m2-3v1m0 2v1m2-4v1m1-3v1m1 3v1m1-3v1m1-11v1m4 4v1m1 1v1m0 1v1m2-24v2m2 23v1m0 1v1m4-4v2m4-18v1m5 16v1m10-6v1m1 0v1m1-8v1m2 6v1m2-1v1m1-6v1m3 1v1m2-7v2m1 8v1m0 1v1m2-4v1m0 3v1m2 0v1m1-8v1m3 3v2m3 0v1m3-1v1m3-25v1m6 23v1m2-4v1m4 1v2m10 5v1m10-10v1m10 4v1"/>
<path stroke="#25848e" d="M5.5 23v1m0 2v1m1-4v1m0 2v1m0 1v1m2-10v2m1-3v1m0 4v1m3-21v1m2 22v1m2-11v1m1-3v1m0 11v1m1-11v1m0 8v1m0 1v1m2-11v1m0 3v1m2-5v1m1 5v1m4 1v1m1-4v1m0 2v3m4-26v1m0 5v1m1 12v1m3 191v3m2-215v2m0 8v1m2 5v1m2-1v1m5 5v1m0 3v2m2-4v1m2-10v1m0 1v1m4-2v1m3-15v1m1 16v1m4 4v1m4-9v1m1-17v1m0 9v1m0 1v1m1 7v1m4-1v1m0 1v1m3 4v1m1-2v1m1-13v1m0 1v1m1 6v1m2-8v1m3-9v1m0 13v1m1-7v1m3 1v1m3-2v1m1 4v1m3-12v1m1 11v1m1-8v1m1 5v1m1 0v1m0 1v1m1-3v1m1-4v1m3 1v1m2-4v1m1-4v1m0 7v1m6-25v1m0 15v1m2 8v1m0 1v1m2-7v1m8 0v1m5-23v1m15 19v1"/>
<path stroke="#228c8d" d="M5.5 25v1m1-2v2m0 1v1m1-5v2m2-1v1m0 1v1m3-27v2m2 23v1m0 2v1m2-14v1m2 10v1m1-3v2m0 1v1m3-10v1m2 8v1m1-6v2m2-8v1m0 4v2m0 1v1m8-4v1m2-3v1m0 197v1m3 13v1m2-213v1m1 3v1m0 2v1m1-4v1m0 3v2m2-2v2m1-5v1m0 213v1m1-221v1m1 2v1m0 1v1m2-7v1m1 5v2m0 2v1m1-5v1m0 2v1m2-6v1m3-22v1m1 20v2m2-4v1m2-3v1m1 4v1m1-6v1m1 5v1m0 3v1m2-16v1m1 6v2m3 0v1m1-2v1m3 3v1m0 1v1m1-2v2m1-13v1m3 7v2m3-4v1m2 3v1m2-7v1m1-2v1m1-3v1m0 5v1m1-5v1m0 1v1m1 2v1m1 0v1m1-5v3m2 4v1m1-3v2m1-1v1m2-9v1m0 5v1m0 4v2m1-15v2m0 2v1m3 7v1m1-14v1m0 4v1m2 3v1m1-1v1m0 1v1m9-11v1m0 5v1m13-8v1m20 11v1m5-2v1"/>
<path stroke="#1f948c" d="M6.5 21v1m2-1v1m1 0v1m2-5v1m0 2v2m3-1v1m3 4v1m2-2v1m1-8v1m3 4v3m0 1v1m3-28v1m0 14v1m0 1v1m1 1v1m0 2v1m4-16v1m1-9v1m5 217v2m2-211v1m0 214v1m1 5v1m3-206v1m2 0v2m1-5v2m0 1v1m1-1v1m0 210v1m1-223v2m0 2v1m1 8v1m3-3v1m1-2v1m2-8v1m5 4v1m3 0v1m2-3v1m1 3v1m2-27v1m4 18v1m1-1v1m0 4v1m1-4v1m1-20v1m0 11v1m1 12v1m1-5v1m0 4v1m1-13v1m1 8v1m2-2v2m1-4v1m1-3v1m2-3v1m1 7v1m2-10v1m0 2v1m1 2v2m1-7v1m0 1v1m1 0v1m1 2v2m1-9v1m0 3v1m3-5v1m0 9v1m2-14v1m2 7v1m0 2v1m1-8v1m3 7v1m1-10v2m2 5v1m2-3v1m1 0v1m1-22v1m2 13v1m0 1v1m6 6v1m4-1v1m2-7v1m5-5v1m10 5v1m10-7v1"/>
<path stroke="#1e9c89" d="M8.5 22v1m1 2v1m1-1v1m2-22v1m2 19v1m0 2v1m1-7v1m2 3v1m2-3v1m1-6v1m2 0v1m2 5v1m1-1v1m0 1v1m1-11v1m2 6v1m1-6v1m4-1v2m2-2v1m2 196v1m1-207v1m2 5v1m0 2v2m1-9v1m2 15v1m1-4v1m3 210v1m1-220v1m2 8v1m2-2v1m0 2v1m4-4v2m2-19v1m1 10v1m1 4v2m0 1v1m1-8v1m2-2v1m2 5v1m1 2v1m2-27v1m3 12v1m1 4v1m1 4v1m1-6v1m2 2v1m0 1v1m2-8v1m1 7v1m2 0v1m1-14v1m4 5v1m3-1v1m0 4v2m1-13v1m0 1v1m1-2v1m0 4v1m2-1v1m4 5v2m1-4v1m1-8v1m0 5v1m1-9v1m1 1v1m5 1v1m2 2v1m1-4v2m1 3v2m1-16v1m0 5v1m4 8v1m2-6v1m0 2v1m4-9v1m0 6v1m2-2v1m2-2v2m25 3v1"/>
<path stroke="#20a486" d="M7.5 15v1m1 1v2m3 0v1m3 3v1m1-7v1m2 5v1m4-6v1m2 8v1m2-2v1m1-23v1m0 9v1m1 11v1m1-4v1m12 208v1m2-213v1m2 3v1m1-2v2m4 1v1m5-18v1m3 4v1m6 8v1m1-9v1m1-1v1m2 4v1m2-5v1m1 2v1m1-6v1m3-1v1m0 10v1m5-9v1m2-4v1m12 3v1m2-18v1m1 20v1m1 0v1m2-3v1m2-8v1m1 8v1m5-5v1m1-1v1m0 4v1m3-10v1m2-3v1m0 5v1m10 3v1m0 2v1m12-18v1"/>
<path stroke="#25ac82" d="M11.5 1v1m0 12v1m2 4v1m1-17v1m1 18v1m1-6v2m6-4v1m7-1v1m1 2v1m0 2v1m6-1v1m2-22v1m1 18v1m2-9v1m4 8v1m5 2v1m0 4v1m5-14v1m2 0v1m4-1v1m2-2v1m0 4v1m0 5v1m5-19v1m3 7v1m1-3v1m2 9v1m6 0v1m0 1v1m2-11v1m1 1v1m5 1v1m1-8v1m0 4v1m5-4v1m1-17v1m2 21v1m3 3v1m5-6v1m2-2v1m1 5v1m1-11v1m2-6v1m2 3v1m4 1v1m4 0v1m2-5v2m7-5v1m5-12v1m5 9v1m0 8v1m5-6v1m10 0v1"/>
<path stroke="#2fb47c" d="M7.5 22v1m3 4v1m3-19v1m0 11v1m8-5v1m4-5v1m1-12v1m0 5v2m3 8v1m1-4v1m0 3v1m1-18v1m3 11v2m5 5v1m2-20v1m0 10v1m1 4v1m1 1v2m1-1v1m7-11v1m1 10v1m2-22v1m1 14v1m1 2v1m3-6v1m5 1v1m2 7v1m1-6v1m2-6v1m1 5v2m1-3v1m1-5v1m2 6v1m1-12v1m8 6v1m3 2v1m1 5v1m1-14v2m6-1v1m0 1v1m1-7v1m2 2v1m1 4v1m0 1v1m1-3v2m1-7v1m0 1v1m2 10v1m1-1v1m4-7v1m1-8v2m3-7v1m2 2v1m4 6v1m4-4v1m4 0v1m5-16v1m5 9v1m5 2v1m5 2v2m10-6v1"/>
<path stroke="#3bbb75" d="M10.5 24v1m0 1v1m3-9v1m0 1v1m2-3v1m10 5v1m4-9v1m2-16v1m2 13v2m1-1v1m1-2v1m1 6v1m3-22v1m2-1v1m2 17v1m1-5v1m0 3v2m5-7v2m0 3v1m7 1v1m3-7v1m2 1v1m2 3v1m1-3v1m1-6v1m14 8v1m7 1v1m1-1v2m1-11v1m1-1v1m2-5v1m0 1v1m1 4v2m1-6v2m1-6v1m1-3v1m5 10v1m2 5v1m1-1v1m2-14v1m6-2v2m2-4v2m12 3v1m5-4v2m10 0v1m0 1v2m10 4v1"/>
<path stroke="#4cc26c" d="M7.5 19v1m1-6v2m5 1v1m2-2v1m6-8v1m9 7v1m0 2v1m1-21v1m3 21v1m2-4v2m4-6v1m1-7v1m4 11v1m4-6v1m8-2v1m4 2v1m2-5v1m1 5v2m1-6v1m0 3v2m2-1v1m4-1v1m4-10v2m10-13v1m0 11v1m4 7v1m2-6v1m7 3v1m2-2v1m2 5v1m1-3v1m0 1v1m4-4v1m1-3v2m1-7v1m2-8v1m2 5v1m2-1v2m2-16v1m4 16v1m0 1v1m2 2v1m2-7v1m0 1v1m5-16v1m5 7v1m5 6v1m5-6v1m0 1v2"/>
<path stroke="#5ec962" d="M11.5 11v1m3-12v1m0 19v1m2 0v1m9-7v1m1-13v1m3 13v1m2-15v1m3 13v1m0 1v1m0 1v1m7-14v1m15 11v1m9-2v1m6-18v1m4-2v1m0 7v1m3 3v1m7 0v1m9 3v1m6 2v1m3 2v1m1-11v1m4 1v1m15 3v1m2-12v1m10 3v1m10 3v1"/>
<path stroke="#70cf57" d="M5.5 15v1m2 4v2m4-9v1m2 2v1m3 5v1m5-15v1m9 7v1m1-8v1m4 7v1m10 1v1m4-3v2m0 1v1m12-6v1m2 0v1m1-3v1m7 5v1m9 2v2m0 1v1m3-18v1m6 5v1m13 8v1m15-9v1m0 1v1m6-19v1m27 20v1m0 1v1"/>
<path stroke="#86d549" d="M5.5 20v2m5 1v1m6-21v1m1 16v1m14-10v1m3 8v1m1-5v1m12 4v1m5-3v1m2-9v1m0 1v1m5 2v1m2-3v1m5 5v1m1-6v1m2-1v1m3 0v1m32-6v1m0 7v1m3-4v1m2-3v1m1 6v1m40-6v1m0 1v1"/>
<path stroke="#9bd93c" d="M16.5 8v2m2 9v1m1 1v1m14-4v1m3-3v1m1-1v2m5-3v1m10 4v2m14-3v1m0 1v1m4-7v2m6 2v1m1-1v1m7-1v1m2-2v2m11 0v1m2-7v3m5 3v1m5-3v1m1 1v1m3-12v1m2 13v1m4-7v1m0 5v1m26-14v1m10 11v2"/>
<path stroke="#b2dd2d" d="M8.5 11v1m5 1v1m0 1v1m4 3v1m1 1v1m1-3v2m12-11v1m0 1v1m6 2v1m10 4v1m7-9v1m8-2v1m0 1v1m18 14v1m4-11v1m13-1v2m10-5v1m3 3v1m5 0v2m2-8v1m2 7v1m26-14v1m5 7v1"/>
<path stroke="#c8e020" d="M5.5 19v1m8-6v1m4 6v1m1-2v1m15-4v1m3-3v1m6 0v1m20-5v1m5 1v1m0 1v1m30 4v1m7-1v1m15-6v1m0 1v1m0 1v2m36-1v1"/>
<path stroke="#dfe318" d="M21.5 3v1m26 15v1m72-1v1m31-1v1m5 0v1"/>
<path stroke="#fde725" d="M5.5 0v15m0 1v3m1-19v21m0 1v1m1-23v15m0 1v3m1-19v11m0 1v2m0 2v1m1-17v18m0 1v3m1-22v22m1-22v1m0 1v9m0 1v1m1-8v3m1-8v9m0 1v3m1-12v2m0 1v16m0 1v1m1-22v16m1-16v3m0 1v4m0 2v5m1-15v14m0 1v4m1-19v16m0 1v2m1-19v19m1-19v17m1-17v3m0 1v4m0 2v5m1-15v15m1-15v23m1-23v23m1-23v13m0 1v1m0 1v6m1-22v1m0 4v3m0 2v3m1-13v16m0 1v2m1-19v17m0 2v3m1-22v15m1-15v15m1-11v4m1-4v4m1-8v15m1-15v14m0 4v1m1-19v14m0 4v1m1-19v15m0 3v1m1-19v15m0 3v1m1-15v4m0 8v1m1-17v1m0 1v7m0 1v9m1-19v15m0 3v1m1-19v1m0 2v5m0 2v1m1-11v15m1-15v19m1-19v15m0 1v2m1-18v19m1-19v23m1-23v19m1-19v15m1-15v14m1-14v22m1-22v11m0 1v3m1-15v19m1-19v22m1-22v1m0 1v7m0 1v1m1-11v15m1-15v19m1-19v14m1-10v4m1-8v14m0 4v1m1-19v23m1-23v14m1-14v11m1-11v14m0 4v1m1-19v14m0 4v1m1-19v14m0 4v1m1-19v19m1-19v14m1-11v5m1-8v14m0 4v1m1-19v15m0 3v1m1-19v2m0 1v11m0 4v1m1-19v14m0 4v1m1-19v19m1-19v14m0 1v4m1-19v1m0 2v6m0 1v1m1-11v19m0 1v2m1-22v19m0 1v2m1-22v13m1-13v17m0 1v4m1-22v23m1-23v14m0 1v2m0 1v4m1-22v14m0 1v2m0 1v4m1-22v9m0 1v8m1-18v9m0 1v8m1-18v1m0 1v11m1-13v17m1-17v22m1-22v14m1-14v14m0 4v1m1-19v14m1-14v12m0 1v1m1-14v19m0 2v1m1-22v14m1-14v11m0 1v2m1-11v6m0 1v1m1-11v14m0 1v2m0 1v4m1-22v14m0 1v2m1-17v14m0 1v4m1-19v14m0 4v1m1-19v14m0 4v1m1-19v14m1-14v22m1-22v22m1-22v11m0 1v2m0 1v4m1-19v13m1-13v18m1-18v15m0 3v1m1-19v14m0 4v1m1-19v14m1-14v14m0 1v4m1-19v2m0 1v5m2-5v6m2-9v14m0 2v4m2-19v13m2-14v16m2-16v14m2-13v13m0 2v3m2-19v9m0 1v4m5-10v5m0 1v1m5-10v8m0 1v1m5-11v10m0 1v3m5-14v9m0 2v2m5-13v14m5-14v14m0 2v4"/>
</g>
<rect x="80" y="70" width="900" height="15" fill="#fff"/>
<defs><linearGradient id="vg" x1="0" y1="0" x2="0" y2="1"><stop offset="0.0000" stop-color="#fde725"/><stop offset="0.0208" stop-color="#f1e51d"/><stop offset="0.0417" stop-color="#e5e419"/><stop offset="0.0625" stop-color="#d8e219"/><stop offset="0.0833" stop-color="#c8e020"/><stop offset="0.1042" stop-color="#bade28"/><stop offset="0.1250" stop-color="#addc30"/><stop offset="0.1458" stop-color="#9dd93b"/><stop offset="0.1667" stop-color="#90d743"/><stop offset="0.1875" stop-color="#84d44b"/><stop offset="0.2083" stop-color="#75d054"/><stop offset="0.2292" stop-color="#69cd5b"/><stop offset="0.2500" stop-color="#5ec962"/><stop offset="0.2708" stop-color="#52c569"/><stop offset="0.2917" stop-color="#48c16e"/><stop offset="0.3125" stop-color="#3fbc73"/><stop offset="0.3333" stop-color="#35b779"/><stop offset="0.3542" stop-color="#2eb37c"/><stop offset="0.3750" stop-color="#28ae80"/><stop offset="0.3958" stop-color="#23a983"/><stop offset="0.4167" stop-color="#20a486"/><stop offset="0.4375" stop-color="#1fa088"/><stop offset="0.4583" stop-color="#1f9a8a"/><stop offset="0.4792" stop-color="#1f958b"/><stop offset="0.5000" stop-color="#21918c"/><stop offset="0.5208" stop-color="#228b8d"/><stop offset="0.5417" stop-color="#24868e"/><stop offset="0.5625" stop-color="#26828e"/><stop offset="0.5833" stop-color="#287c8e"/><stop offset="0.6042" stop-color="#2a778e"/><stop offset="0.6250" stop-color="#2c728e"/><stop offset="0.6458" stop-color="#2e6d8e"/><stop offset="0.6667" stop-color="#31688e"/><stop offset="0.6875" stop-color="#33638d"/><stop offset="0.7083" stop-color="#365d8d"/><stop offset="0.7292" stop-color="#38588c"/><stop offset="0.7500" stop-color="#3b528b"/><stop offset="0.7708" stop-color="#3e4c8a"/><stop offset="0.7917" stop-color="#404688"/><stop offset="0.8125" stop-color="#424086"/><stop offset="0.8333" stop-color="#443983"/><stop offset="0.8542" stop-color="#46337f"/><stop offset="0.8750" stop-color="#472d7b"/><stop offset="0.8958" stop-color="#482576"/><stop offset="0.9167" stop-color="#481f70"/><stop offset="0.9375" stop-color="#48186a"/><stop offset="0.9583" stop-color="#471063"/><stop offset="0.9792" stop-color="#46085c"/><stop offset="1.0000" stop-color="#440154"/></linearGradient></defs>
<rect x="1016.50" y="85.50" width="36.00" height="737.00" fill="url(#vg)"/>
<g fill="none" stroke="#000" stroke-width="1.111" stroke-linecap="square">
<rect x="98.5" y="85.5" width="864.0" height="737.0"/>
<rect x="1016.5" y="85.5" width="36.0" height="737.0"/>
</g>
<path d="M179.5 822.5v5.00M287.5 822.5v5.00M395.5 822.5v5.00M503.5 822.5v5.00M611.5 822.5v5.00M719.5 822.5v5.00M827.5 822.5v5.00M935.5 822.5v5.00M98.5 810.5h-5.00M98.5 689.5h-5.00M98.5 569.5h-5.00M98.5 448.5h-5.00M98.5 327.5h-5.00M98.5 206.5h-5.00M98.5 85.5h-5.00M1052.5 822.5h5.00M1052.5 699.5h5.00M1052.5 577.5h5.00M1052.5 454.5h5.00M1052.5 331.5h5.00M1052.5 208.5h5.00M1052.5 85.5h5.00" fill="none" stroke="#000" stroke-width="1.111"/>
<g font-size="20.833px" fill="#000">
<text x="173.01" y="847.77">2</text>
<text x="280" y="847.77">4</text>
<text x="387.98" y="847.77">6</text>
<text x="495.97" y="847.77">8</text>
<text x="598.07 610.32" y="847.77">10</text>
<text x="706.05 718.3" y="847.77">12</text>
<text x="814.04 826.29" y="847.77">14</text>
<text x="922.02 934.27" y="847.77">16</text>
<text x="74.91" y="818.06">0</text>
<text x="47.91 60.16 73.41" y="697.24">100</text>
<text x="48.91 61.16 74.41" y="577.42">200</text>
<text x="48.91 61.16 74.41" y="455.60">300</text>
<text x="47.91 61.16 74.41" y="334.78">400</text>
<text x="48.91 61.16 74.41" y="213.97">500</text>
<text x="48.91 61.41 74.66" y="93.15">600</text>
<text x="1062.09" y="830.14">0</text>
<text x="1063.09" y="707.31">5</text>
<text x="1062.09 1074.34" y="585.47">10</text>
<text x="1062.09 1074.34" y="461.64">15</text>
<text x="1063.09 1075.34" y="338.81">20</text>
<text x="1063.09 1075.34" y="215.98">25</text>
<text x="1063.09 1075.34" y="93.15">30</text>
<text x="529.59" y="874.49" text-anchor="middle">Frequency (MHz)</text>
<text transform="translate(38.28 454.73) rotate(-90)" text-anchor="middle">Virtual range (km)</text>
<text transform="translate(1108.99 454.23) rotate(-90)" text-anchor="middle">SNR (dB)</text>
</g>
<g font-size="27.778px" fill="#000" text-anchor="middle">
<text x="529.59" y="43.79" xml:space="preserve" style="white-space:pre">IRF Kiruna Ionosonde KI167 2026-04-16 15:25:00  UT</text>
<text x="529.09" y="76.90">noise_floor=-110.39 (dB) peak SNR=95.25</text>
</g>
</svg>
</body></html>
